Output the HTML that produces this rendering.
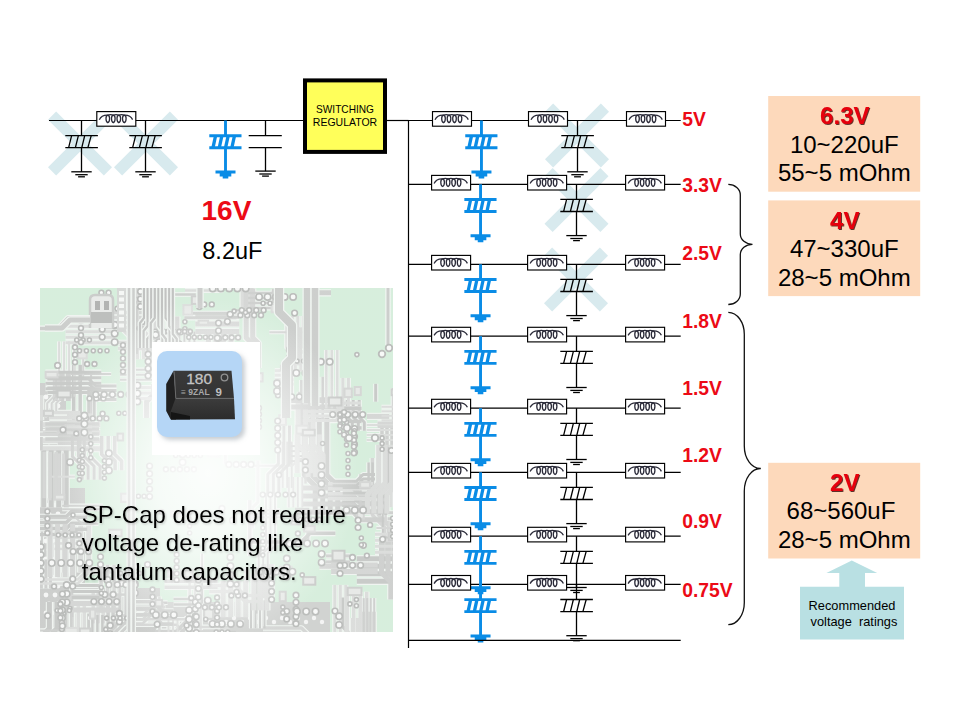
<!DOCTYPE html>
<html><head><meta charset="utf-8"><style>
html,body{margin:0;padding:0;background:#fff;overflow:hidden;}
body{width:960px;height:720px;position:relative;overflow:hidden;font-family:"Liberation Sans",sans-serif;}
#pcb{position:absolute;left:40px;top:288px;width:353px;height:344px;overflow:hidden;background:#d2ecd8;}
#fade{position:absolute;left:0;top:0;width:353px;height:344px;background:radial-gradient(ellipse 150px 175px at 168px 185px, rgba(255,255,255,0.92) 0%, rgba(255,255,255,0.78) 35%, rgba(255,255,255,0.4) 68%, rgba(255,255,255,0.0) 100%), linear-gradient(rgba(255,255,255,0.12), rgba(255,255,255,0.12));}
#wsq{position:absolute;left:152px;top:342px;width:108px;height:113px;background:#fff;}
#bsq{position:absolute;left:157px;top:351px;width:85px;height:86px;border-radius:10px;background:#b5d6f6;box-shadow:3px 3px 4px rgba(150,160,170,0.5);}
</style></head><body>
<div id="pcb"><svg width="354" height="345" style="position:absolute;left:0;top:0;filter:blur(0.5px)"><rect x="0" y="95" width="26" height="250" fill="#c9cbc9"/>
<rect x="0" y="200" width="45" height="145" fill="#c6c8c6"/>
<rect x="0" y="314" width="290" height="31" fill="#cbcdcb"/>
<rect x="0" y="300" width="120" height="45" fill="#c6c8c6"/>
<circle cx="9" cy="100" r="2.4" fill="#f4f5f4"/>
<circle cx="18" cy="100" r="2.4" fill="#f4f5f4"/>
<circle cx="6" cy="109" r="2.4" fill="#f4f5f4"/>
<circle cx="15" cy="109" r="2.4" fill="#f4f5f4"/>
<circle cx="9" cy="118" r="2.4" fill="#f4f5f4"/>
<circle cx="18" cy="118" r="2.4" fill="#f4f5f4"/>
<circle cx="6" cy="127" r="2.4" fill="#f4f5f4"/>
<circle cx="15" cy="127" r="2.4" fill="#f4f5f4"/>
<circle cx="9" cy="136" r="2.4" fill="#f4f5f4"/>
<circle cx="18" cy="136" r="2.4" fill="#f4f5f4"/>
<circle cx="6" cy="145" r="2.4" fill="#f4f5f4"/>
<circle cx="15" cy="145" r="2.4" fill="#f4f5f4"/>
<circle cx="9" cy="154" r="2.4" fill="#f4f5f4"/>
<circle cx="18" cy="154" r="2.4" fill="#f4f5f4"/>
<circle cx="6" cy="163" r="2.4" fill="#f4f5f4"/>
<circle cx="15" cy="163" r="2.4" fill="#f4f5f4"/>
<circle cx="9" cy="172" r="2.4" fill="#f4f5f4"/>
<circle cx="18" cy="172" r="2.4" fill="#f4f5f4"/>
<circle cx="6" cy="181" r="2.4" fill="#f4f5f4"/>
<circle cx="15" cy="181" r="2.4" fill="#f4f5f4"/>
<circle cx="9" cy="190" r="2.4" fill="#f4f5f4"/>
<circle cx="18" cy="190" r="2.4" fill="#f4f5f4"/>
<circle cx="6" cy="199" r="2.4" fill="#f4f5f4"/>
<circle cx="15" cy="199" r="2.4" fill="#f4f5f4"/>
<circle cx="9" cy="208" r="2.4" fill="#f4f5f4"/>
<circle cx="18" cy="208" r="2.4" fill="#f4f5f4"/>
<circle cx="6" cy="217" r="2.4" fill="#f4f5f4"/>
<circle cx="15" cy="217" r="2.4" fill="#f4f5f4"/>
<circle cx="9" cy="226" r="2.4" fill="#f4f5f4"/>
<circle cx="18" cy="226" r="2.4" fill="#f4f5f4"/>
<circle cx="6" cy="235" r="2.4" fill="#f4f5f4"/>
<circle cx="15" cy="235" r="2.4" fill="#f4f5f4"/>
<circle cx="9" cy="244" r="2.4" fill="#f4f5f4"/>
<circle cx="18" cy="244" r="2.4" fill="#f4f5f4"/>
<circle cx="6" cy="253" r="2.4" fill="#f4f5f4"/>
<circle cx="15" cy="253" r="2.4" fill="#f4f5f4"/>
<circle cx="9" cy="262" r="2.4" fill="#f4f5f4"/>
<circle cx="18" cy="262" r="2.4" fill="#f4f5f4"/>
<circle cx="6" cy="271" r="2.4" fill="#f4f5f4"/>
<circle cx="15" cy="271" r="2.4" fill="#f4f5f4"/>
<circle cx="9" cy="280" r="2.4" fill="#f4f5f4"/>
<circle cx="18" cy="280" r="2.4" fill="#f4f5f4"/>
<circle cx="6" cy="289" r="2.4" fill="#f4f5f4"/>
<circle cx="15" cy="289" r="2.4" fill="#f4f5f4"/>
<circle cx="9" cy="298" r="2.4" fill="#f4f5f4"/>
<circle cx="18" cy="298" r="2.4" fill="#f4f5f4"/>
<circle cx="6" cy="307" r="2.4" fill="#f4f5f4"/>
<circle cx="15" cy="307" r="2.4" fill="#f4f5f4"/>
<circle cx="9" cy="316" r="2.4" fill="#f4f5f4"/>
<circle cx="18" cy="316" r="2.4" fill="#f4f5f4"/>
<circle cx="6" cy="325" r="2.4" fill="#f4f5f4"/>
<circle cx="15" cy="325" r="2.4" fill="#f4f5f4"/>
<circle cx="9" cy="334" r="2.4" fill="#f4f5f4"/>
<circle cx="18" cy="334" r="2.4" fill="#f4f5f4"/>
<circle cx="6" cy="343" r="2.4" fill="#f4f5f4"/>
<circle cx="15" cy="343" r="2.4" fill="#f4f5f4"/>
<circle cx="50" cy="330" r="2.2" fill="#f2f3f2"/>
<circle cx="58" cy="334" r="2.2" fill="#f2f3f2"/>
<circle cx="66" cy="330" r="2.2" fill="#f2f3f2"/>
<circle cx="74" cy="334" r="2.2" fill="#f2f3f2"/>
<circle cx="82" cy="330" r="2.2" fill="#f2f3f2"/>
<circle cx="90" cy="334" r="2.2" fill="#f2f3f2"/>
<circle cx="98" cy="330" r="2.2" fill="#f2f3f2"/>
<circle cx="106" cy="334" r="2.2" fill="#f2f3f2"/>
<circle cx="114" cy="330" r="2.2" fill="#f2f3f2"/>
<circle cx="122" cy="334" r="2.2" fill="#f2f3f2"/>
<circle cx="130" cy="330" r="2.2" fill="#f2f3f2"/>
<circle cx="138" cy="334" r="2.2" fill="#f2f3f2"/>
<circle cx="146" cy="330" r="2.2" fill="#f2f3f2"/>
<circle cx="154" cy="334" r="2.2" fill="#f2f3f2"/>
<circle cx="162" cy="330" r="2.2" fill="#f2f3f2"/>
<circle cx="170" cy="334" r="2.2" fill="#f2f3f2"/>
<circle cx="178" cy="330" r="2.2" fill="#f2f3f2"/>
<circle cx="186" cy="334" r="2.2" fill="#f2f3f2"/>
<circle cx="194" cy="330" r="2.2" fill="#f2f3f2"/>
<circle cx="202" cy="334" r="2.2" fill="#f2f3f2"/>
<circle cx="210" cy="330" r="2.2" fill="#f2f3f2"/>
<circle cx="218" cy="334" r="2.2" fill="#f2f3f2"/>
<circle cx="226" cy="330" r="2.2" fill="#f2f3f2"/>
<circle cx="234" cy="334" r="2.2" fill="#f2f3f2"/>
<circle cx="242" cy="330" r="2.2" fill="#f2f3f2"/>
<circle cx="250" cy="334" r="2.2" fill="#f2f3f2"/>
<circle cx="258" cy="330" r="2.2" fill="#f2f3f2"/>
<circle cx="266" cy="334" r="2.2" fill="#f2f3f2"/>
<circle cx="274" cy="330" r="2.2" fill="#f2f3f2"/>
<circle cx="282" cy="334" r="2.2" fill="#f2f3f2"/>
<path d="M209.8,212.1 v55.9" fill="none" stroke="#eef3ef" stroke-width="5.7" stroke-linejoin="round"/>
<path d="M327.0,128.4 h22.2" fill="none" stroke="#eef3ef" stroke-width="7.2" stroke-linejoin="round"/>
<path d="M25.5,38.3 h50.1" fill="none" stroke="#eef3ef" stroke-width="5.2" stroke-linejoin="round"/>
<path d="M25.5,43.8 h50.1" fill="none" stroke="#eef3ef" stroke-width="5.2" stroke-linejoin="round"/>
<path d="M25.5,49.3 h50.1" fill="none" stroke="#eef3ef" stroke-width="5.2" stroke-linejoin="round"/>
<path d="M25.5,54.8 h50.1" fill="none" stroke="#eef3ef" stroke-width="5.2" stroke-linejoin="round"/>
<path d="M139.4,43.5 v54.3" fill="none" stroke="#eef3ef" stroke-width="4.2" stroke-linejoin="round"/>
<path d="M144.4,43.5 v54.3" fill="none" stroke="#eef3ef" stroke-width="4.2" stroke-linejoin="round"/>
<path d="M149.4,43.5 v54.3" fill="none" stroke="#eef3ef" stroke-width="4.2" stroke-linejoin="round"/>
<path d="M154.4,43.5 v54.3" fill="none" stroke="#eef3ef" stroke-width="4.2" stroke-linejoin="round"/>
<path d="M353.5,99.9 v57.7 l7.2,7.2 v28.9" fill="none" stroke="#eef3ef" stroke-width="5.7" stroke-linejoin="round"/>
<path d="M332.4,170.0 v57.1 l11.9,11.9 v28.6" fill="none" stroke="#eef3ef" stroke-width="5.7" stroke-linejoin="round"/>
<path d="M338.4,170.0 v57.1 l11.9,11.9 v28.6" fill="none" stroke="#eef3ef" stroke-width="5.7" stroke-linejoin="round"/>
<path d="M343.6,232.7 v44.4" fill="none" stroke="#eef3ef" stroke-width="5.2" stroke-linejoin="round"/>
<path d="M348.1,232.7 v44.4" fill="none" stroke="#eef3ef" stroke-width="5.2" stroke-linejoin="round"/>
<path d="M149.6,293.7 v48.4" fill="none" stroke="#eef3ef" stroke-width="4.7" stroke-linejoin="round"/>
<path d="M155.1,293.7 v48.4" fill="none" stroke="#eef3ef" stroke-width="4.7" stroke-linejoin="round"/>
<path d="M160.6,293.7 v48.4" fill="none" stroke="#eef3ef" stroke-width="4.7" stroke-linejoin="round"/>
<path d="M223.7,276.2 v34.0" fill="none" stroke="#eef3ef" stroke-width="7.2" stroke-linejoin="round"/>
<path d="M231.2,276.2 v34.0" fill="none" stroke="#eef3ef" stroke-width="7.2" stroke-linejoin="round"/>
<path d="M2.9,136.7 h57.4" fill="none" stroke="#eef3ef" stroke-width="7.2" stroke-linejoin="round"/>
<path d="M2.9,144.7 h57.4" fill="none" stroke="#eef3ef" stroke-width="7.2" stroke-linejoin="round"/>
<path d="M2.9,152.7 h57.4" fill="none" stroke="#eef3ef" stroke-width="7.2" stroke-linejoin="round"/>
<path d="M2.9,160.7 h57.4" fill="none" stroke="#eef3ef" stroke-width="7.2" stroke-linejoin="round"/>
<path d="M33.7,76.8 v55.3" fill="none" stroke="#eef3ef" stroke-width="5.7" stroke-linejoin="round"/>
<path d="M40.2,76.8 v55.3" fill="none" stroke="#eef3ef" stroke-width="5.7" stroke-linejoin="round"/>
<path d="M9.4,314.1 v26.4 l-6.2,6.2 v13.2" fill="none" stroke="#eef3ef" stroke-width="7.2" stroke-linejoin="round"/>
<path d="M16.9,314.1 v26.4 l-6.2,6.2 v13.2" fill="none" stroke="#eef3ef" stroke-width="7.2" stroke-linejoin="round"/>
<path d="M162.1,265.7 v49.9" fill="none" stroke="#eef3ef" stroke-width="4.2" stroke-linejoin="round"/>
<path d="M168.4,45.7 v44.1" fill="none" stroke="#eef3ef" stroke-width="7.2" stroke-linejoin="round"/>
<path d="M175.9,45.7 v44.1" fill="none" stroke="#eef3ef" stroke-width="7.2" stroke-linejoin="round"/>
<path d="M183.4,45.7 v44.1" fill="none" stroke="#eef3ef" stroke-width="7.2" stroke-linejoin="round"/>
<path d="M190.9,45.7 v44.1" fill="none" stroke="#eef3ef" stroke-width="7.2" stroke-linejoin="round"/>
<path d="M19.1,53.4 v43.7" fill="none" stroke="#eef3ef" stroke-width="4.2" stroke-linejoin="round"/>
<path d="M24.1,53.4 v43.7" fill="none" stroke="#eef3ef" stroke-width="4.2" stroke-linejoin="round"/>
<path d="M29.1,53.4 v43.7" fill="none" stroke="#eef3ef" stroke-width="4.2" stroke-linejoin="round"/>
<path d="M34.1,53.4 v43.7" fill="none" stroke="#eef3ef" stroke-width="4.2" stroke-linejoin="round"/>
<path d="M242.7,153.6 v46.3" fill="none" stroke="#eef3ef" stroke-width="4.2" stroke-linejoin="round"/>
<path d="M247.2,153.6 v46.3" fill="none" stroke="#eef3ef" stroke-width="4.2" stroke-linejoin="round"/>
<path d="M251.7,153.6 v46.3" fill="none" stroke="#eef3ef" stroke-width="4.2" stroke-linejoin="round"/>
<path d="M316.8,270.8 h46.1" fill="none" stroke="#eef3ef" stroke-width="7.2" stroke-linejoin="round"/>
<path d="M316.8,278.3 h46.1" fill="none" stroke="#eef3ef" stroke-width="7.2" stroke-linejoin="round"/>
<path d="M316.8,285.8 h46.1" fill="none" stroke="#eef3ef" stroke-width="7.2" stroke-linejoin="round"/>
<path d="M316.8,293.3 h46.1" fill="none" stroke="#eef3ef" stroke-width="7.2" stroke-linejoin="round"/>
<path d="M250.8,158.1 h17.0" fill="none" stroke="#eef3ef" stroke-width="4.2" stroke-linejoin="round"/>
<path d="M250.8,163.1 h17.0" fill="none" stroke="#eef3ef" stroke-width="4.2" stroke-linejoin="round"/>
<path d="M250.8,168.1 h17.0" fill="none" stroke="#eef3ef" stroke-width="4.2" stroke-linejoin="round"/>
<path d="M250.8,173.1 h17.0" fill="none" stroke="#eef3ef" stroke-width="4.2" stroke-linejoin="round"/>
<path d="M195.2,177.8 h57.1 l6.7,-6.7 h28.5" fill="none" stroke="#eef3ef" stroke-width="4.2" stroke-linejoin="round"/>
<path d="M264.3,129.8 v57.2 l10.9,10.9 v28.6" fill="none" stroke="#eef3ef" stroke-width="7.2" stroke-linejoin="round"/>
<path d="M271.8,129.8 v57.2 l10.9,10.9 v28.6" fill="none" stroke="#eef3ef" stroke-width="7.2" stroke-linejoin="round"/>
<path d="M279.3,129.8 v57.2 l10.9,10.9 v28.6" fill="none" stroke="#eef3ef" stroke-width="7.2" stroke-linejoin="round"/>
<path d="M286.8,129.8 v57.2 l10.9,10.9 v28.6" fill="none" stroke="#eef3ef" stroke-width="7.2" stroke-linejoin="round"/>
<path d="M342.0,137.4 v22.0" fill="none" stroke="#eef3ef" stroke-width="5.7" stroke-linejoin="round"/>
<path d="M347.0,137.4 v22.0" fill="none" stroke="#eef3ef" stroke-width="5.7" stroke-linejoin="round"/>
<path d="M352.0,137.4 v22.0" fill="none" stroke="#eef3ef" stroke-width="5.7" stroke-linejoin="round"/>
<path d="M357.0,137.4 v22.0" fill="none" stroke="#eef3ef" stroke-width="5.7" stroke-linejoin="round"/>
<path d="M0.1,342.4 h50.2" fill="none" stroke="#eef3ef" stroke-width="4.2" stroke-linejoin="round"/>
<path d="M0.1,346.9 h50.2" fill="none" stroke="#eef3ef" stroke-width="4.2" stroke-linejoin="round"/>
<path d="M0.1,351.4 h50.2" fill="none" stroke="#eef3ef" stroke-width="4.2" stroke-linejoin="round"/>
<path d="M0.1,355.9 h50.2" fill="none" stroke="#eef3ef" stroke-width="4.2" stroke-linejoin="round"/>
<path d="M302.5,309.4 v29.1 l5.3,5.3 v14.6" fill="none" stroke="#eef3ef" stroke-width="5.7" stroke-linejoin="round"/>
<path d="M0.7,107.7 v24.5" fill="none" stroke="#eef3ef" stroke-width="7.2" stroke-linejoin="round"/>
<path d="M17.8,143.6 h19.4 l5.8,5.8 h9.7" fill="none" stroke="#eef3ef" stroke-width="5.2" stroke-linejoin="round"/>
<path d="M17.8,149.6 h19.4 l5.8,5.8 h9.7" fill="none" stroke="#eef3ef" stroke-width="5.2" stroke-linejoin="round"/>
<path d="M17.8,155.6 h19.4 l5.8,5.8 h9.7" fill="none" stroke="#eef3ef" stroke-width="5.2" stroke-linejoin="round"/>
<path d="M155.3,28.4 h44.0" fill="none" stroke="#eef3ef" stroke-width="7.2" stroke-linejoin="round"/>
<path d="M155.3,35.9 h44.0" fill="none" stroke="#eef3ef" stroke-width="7.2" stroke-linejoin="round"/>
<path d="M155.3,43.4 h44.0" fill="none" stroke="#eef3ef" stroke-width="7.2" stroke-linejoin="round"/>
<path d="M246.8,28.1 v31.2 l8.5,8.5 v15.6" fill="none" stroke="#eef3ef" stroke-width="5.2" stroke-linejoin="round"/>
<path d="M252.3,28.1 v31.2 l8.5,8.5 v15.6" fill="none" stroke="#eef3ef" stroke-width="5.2" stroke-linejoin="round"/>
<path d="M257.8,28.1 v31.2 l8.5,8.5 v15.6" fill="none" stroke="#eef3ef" stroke-width="5.2" stroke-linejoin="round"/>
<path d="M263.3,28.1 v31.2 l8.5,8.5 v15.6" fill="none" stroke="#eef3ef" stroke-width="5.2" stroke-linejoin="round"/>
<path d="M30.8,86.0 h40.4" fill="none" stroke="#eef3ef" stroke-width="4.2" stroke-linejoin="round"/>
<path d="M262.5,200.1 h50.9 l7.6,7.6 h25.5" fill="none" stroke="#eef3ef" stroke-width="7.2" stroke-linejoin="round"/>
<path d="M262.5,208.1 h50.9 l7.6,7.6 h25.5" fill="none" stroke="#eef3ef" stroke-width="7.2" stroke-linejoin="round"/>
<path d="M262.5,216.1 h50.9 l7.6,7.6 h25.5" fill="none" stroke="#eef3ef" stroke-width="7.2" stroke-linejoin="round"/>
<path d="M262.5,224.1 h50.9 l7.6,7.6 h25.5" fill="none" stroke="#eef3ef" stroke-width="7.2" stroke-linejoin="round"/>
<path d="M233.0,0.7 v19.8" fill="none" stroke="#eef3ef" stroke-width="4.7" stroke-linejoin="round"/>
<path d="M229.3,44.2 h43.0" fill="none" stroke="#eef3ef" stroke-width="4.2" stroke-linejoin="round"/>
<path d="M265.5,162.2 v33.4" fill="none" stroke="#eef3ef" stroke-width="4.7" stroke-linejoin="round"/>
<path d="M207.1,69.5 v26.6 l-6.2,6.2 v13.3" fill="none" stroke="#eef3ef" stroke-width="5.2" stroke-linejoin="round"/>
<path d="M211.6,69.5 v26.6 l-6.2,6.2 v13.3" fill="none" stroke="#eef3ef" stroke-width="5.2" stroke-linejoin="round"/>
<path d="M137.0,49.7 v42.4 l7.2,7.2 v21.2" fill="none" stroke="#eef3ef" stroke-width="5.7" stroke-linejoin="round"/>
<path d="M2.0,243.5 v32.8" fill="none" stroke="#eef3ef" stroke-width="4.2" stroke-linejoin="round"/>
<path d="M32.3,314.0 v27.4 l9.4,9.4 v13.7" fill="none" stroke="#eef3ef" stroke-width="5.7" stroke-linejoin="round"/>
<path d="M38.3,314.0 v27.4 l9.4,9.4 v13.7" fill="none" stroke="#eef3ef" stroke-width="5.7" stroke-linejoin="round"/>
<path d="M44.3,314.0 v27.4 l9.4,9.4 v13.7" fill="none" stroke="#eef3ef" stroke-width="5.7" stroke-linejoin="round"/>
<path d="M342.8,200.3 v45.6 l6.4,6.4 v22.8" fill="none" stroke="#eef3ef" stroke-width="4.2" stroke-linejoin="round"/>
<path d="M323.9,323.7 v48.8" fill="none" stroke="#eef3ef" stroke-width="5.7" stroke-linejoin="round"/>
<path d="M328.9,323.7 v48.8" fill="none" stroke="#eef3ef" stroke-width="5.7" stroke-linejoin="round"/>
<path d="M333.9,323.7 v48.8" fill="none" stroke="#eef3ef" stroke-width="5.7" stroke-linejoin="round"/>
<path d="M294.8,296.9 v56.6" fill="none" stroke="#eef3ef" stroke-width="5.2" stroke-linejoin="round"/>
<path d="M300.3,296.9 v56.6" fill="none" stroke="#eef3ef" stroke-width="5.2" stroke-linejoin="round"/>
<path d="M305.8,296.9 v56.6" fill="none" stroke="#eef3ef" stroke-width="5.2" stroke-linejoin="round"/>
<path d="M225.4,343.9 v33.0 l-6.7,6.7 v16.5" fill="none" stroke="#eef3ef" stroke-width="4.2" stroke-linejoin="round"/>
<path d="M229.9,343.9 v33.0 l-6.7,6.7 v16.5" fill="none" stroke="#eef3ef" stroke-width="4.2" stroke-linejoin="round"/>
<path d="M203.1,-5.9 v24.9" fill="none" stroke="#eef3ef" stroke-width="7.2" stroke-linejoin="round"/>
<path d="M211.1,-5.9 v24.9" fill="none" stroke="#eef3ef" stroke-width="7.2" stroke-linejoin="round"/>
<path d="M184.8,56.8 h16.9 l5.6,5.6 h8.4" fill="none" stroke="#eef3ef" stroke-width="4.2" stroke-linejoin="round"/>
<path d="M206.4,279.3 v35.9" fill="none" stroke="#eef3ef" stroke-width="4.2" stroke-linejoin="round"/>
<path d="M226.0,205.1 v52.7 l-7.3,7.3 v26.4" fill="none" stroke="#eef3ef" stroke-width="4.2" stroke-linejoin="round"/>
<path d="M230.5,205.1 v52.7 l-7.3,7.3 v26.4" fill="none" stroke="#eef3ef" stroke-width="4.2" stroke-linejoin="round"/>
<path d="M235.0,205.1 v52.7 l-7.3,7.3 v26.4" fill="none" stroke="#eef3ef" stroke-width="4.2" stroke-linejoin="round"/>
<path d="M96.3,321.6 h16.3 l6.9,-6.9 h8.1" fill="none" stroke="#eef3ef" stroke-width="4.7" stroke-linejoin="round"/>
<path d="M261.8,92.0 v55.9" fill="none" stroke="#eef3ef" stroke-width="5.7" stroke-linejoin="round"/>
<path d="M266.8,92.0 v55.9" fill="none" stroke="#eef3ef" stroke-width="5.7" stroke-linejoin="round"/>
<path d="M271.8,92.0 v55.9" fill="none" stroke="#eef3ef" stroke-width="5.7" stroke-linejoin="round"/>
<path d="M48.7,100.7 v31.2" fill="none" stroke="#eef3ef" stroke-width="5.2" stroke-linejoin="round"/>
<path d="M54.2,100.7 v31.2" fill="none" stroke="#eef3ef" stroke-width="5.2" stroke-linejoin="round"/>
<path d="M328.6,174.4 v39.1" fill="none" stroke="#eef3ef" stroke-width="4.7" stroke-linejoin="round"/>
<path d="M332.6,174.4 v39.1" fill="none" stroke="#eef3ef" stroke-width="4.7" stroke-linejoin="round"/>
<path d="M341.5,118.8 h23.3" fill="none" stroke="#eef3ef" stroke-width="4.2" stroke-linejoin="round"/>
<path d="M341.5,123.3 h23.3" fill="none" stroke="#eef3ef" stroke-width="4.2" stroke-linejoin="round"/>
<path d="M341.5,127.8 h23.3" fill="none" stroke="#eef3ef" stroke-width="4.2" stroke-linejoin="round"/>
<path d="M341.5,132.3 h23.3" fill="none" stroke="#eef3ef" stroke-width="4.2" stroke-linejoin="round"/>
<path d="M253.1,110.5 h43.2" fill="none" stroke="#eef3ef" stroke-width="4.7" stroke-linejoin="round"/>
<path d="M351.1,184.2 v35.0" fill="none" stroke="#eef3ef" stroke-width="5.2" stroke-linejoin="round"/>
<path d="M356.6,184.2 v35.0" fill="none" stroke="#eef3ef" stroke-width="5.2" stroke-linejoin="round"/>
<path d="M362.1,184.2 v35.0" fill="none" stroke="#eef3ef" stroke-width="5.2" stroke-linejoin="round"/>
<path d="M3.7,162.4 v56.9" fill="none" stroke="#eef3ef" stroke-width="7.2" stroke-linejoin="round"/>
<path d="M11.2,162.4 v56.9" fill="none" stroke="#eef3ef" stroke-width="7.2" stroke-linejoin="round"/>
<path d="M18.7,162.4 v56.9" fill="none" stroke="#eef3ef" stroke-width="7.2" stroke-linejoin="round"/>
<path d="M26.2,162.4 v56.9" fill="none" stroke="#eef3ef" stroke-width="7.2" stroke-linejoin="round"/>
<path d="M15.3,85.0 v28.0" fill="none" stroke="#eef3ef" stroke-width="7.2" stroke-linejoin="round"/>
<path d="M21.8,85.0 v28.0" fill="none" stroke="#eef3ef" stroke-width="7.2" stroke-linejoin="round"/>
<path d="M28.3,85.0 v28.0" fill="none" stroke="#eef3ef" stroke-width="7.2" stroke-linejoin="round"/>
<path d="M134.7,-7.0 h49.2 l5.3,-5.3 h24.6" fill="none" stroke="#eef3ef" stroke-width="4.7" stroke-linejoin="round"/>
<path d="M134.7,-2.0 h49.2 l5.3,-5.3 h24.6" fill="none" stroke="#eef3ef" stroke-width="4.7" stroke-linejoin="round"/>
<path d="M339.7,179.8 v34.5 l5.9,5.9 v17.2" fill="none" stroke="#eef3ef" stroke-width="4.7" stroke-linejoin="round"/>
<path d="M118.3,314.8 v15.3" fill="none" stroke="#eef3ef" stroke-width="5.2" stroke-linejoin="round"/>
<path d="M122.8,314.8 v15.3" fill="none" stroke="#eef3ef" stroke-width="5.2" stroke-linejoin="round"/>
<path d="M183.2,293.2 v35.9" fill="none" stroke="#eef3ef" stroke-width="7.2" stroke-linejoin="round"/>
<path d="M190.7,293.2 v35.9" fill="none" stroke="#eef3ef" stroke-width="7.2" stroke-linejoin="round"/>
<path d="M198.2,293.2 v35.9" fill="none" stroke="#eef3ef" stroke-width="7.2" stroke-linejoin="round"/>
<path d="M205.7,293.2 v35.9" fill="none" stroke="#eef3ef" stroke-width="7.2" stroke-linejoin="round"/>
<path d="M51.1,84.4 v42.2 l-10.6,10.6 v21.1" fill="none" stroke="#eef3ef" stroke-width="4.2" stroke-linejoin="round"/>
<path d="M350.9,233.3 v19.2" fill="none" stroke="#eef3ef" stroke-width="7.2" stroke-linejoin="round"/>
<path d="M358.9,233.3 v19.2" fill="none" stroke="#eef3ef" stroke-width="7.2" stroke-linejoin="round"/>
<path d="M366.9,233.3 v19.2" fill="none" stroke="#eef3ef" stroke-width="7.2" stroke-linejoin="round"/>
<path d="M94.4,336.7 h42.1 l11.8,11.8 h21.0" fill="none" stroke="#eef3ef" stroke-width="4.7" stroke-linejoin="round"/>
<path d="M10.1,165.4 v47.0" fill="none" stroke="#eef3ef" stroke-width="5.2" stroke-linejoin="round"/>
<path d="M14.6,165.4 v47.0" fill="none" stroke="#eef3ef" stroke-width="5.2" stroke-linejoin="round"/>
<path d="M19.1,165.4 v47.0" fill="none" stroke="#eef3ef" stroke-width="5.2" stroke-linejoin="round"/>
<path d="M23.6,165.4 v47.0" fill="none" stroke="#eef3ef" stroke-width="5.2" stroke-linejoin="round"/>
<path d="M43.2,68.1 v21.3 l-8.8,8.8 v10.6" fill="none" stroke="#eef3ef" stroke-width="4.2" stroke-linejoin="round"/>
<path d="M53.2,303.3 v32.2" fill="none" stroke="#eef3ef" stroke-width="5.7" stroke-linejoin="round"/>
<path d="M58.2,303.3 v32.2" fill="none" stroke="#eef3ef" stroke-width="5.7" stroke-linejoin="round"/>
<path d="M63.2,303.3 v32.2" fill="none" stroke="#eef3ef" stroke-width="5.7" stroke-linejoin="round"/>
<path d="M335.7,95.8 v17.9" fill="none" stroke="#eef3ef" stroke-width="5.2" stroke-linejoin="round"/>
<path d="M22.2,217.7 h40.8" fill="none" stroke="#eef3ef" stroke-width="4.2" stroke-linejoin="round"/>
<path d="M22.2,221.2 h40.8" fill="none" stroke="#eef3ef" stroke-width="4.2" stroke-linejoin="round"/>
<path d="M347.5,224.8 h40.8" fill="none" stroke="#eef3ef" stroke-width="5.2" stroke-linejoin="round"/>
<path d="M347.5,230.8 h40.8" fill="none" stroke="#eef3ef" stroke-width="5.2" stroke-linejoin="round"/>
<path d="M302.2,213.5 h23.3" fill="none" stroke="#eef3ef" stroke-width="4.2" stroke-linejoin="round"/>
<path d="M302.2,218.0 h23.3" fill="none" stroke="#eef3ef" stroke-width="4.2" stroke-linejoin="round"/>
<path d="M264.7,106.1 v25.7 l5.4,5.4 v12.8" fill="none" stroke="#eef3ef" stroke-width="5.2" stroke-linejoin="round"/>
<path d="M341.5,249.9 v34.9 l9.3,9.3 v17.4" fill="none" stroke="#eef3ef" stroke-width="7.2" stroke-linejoin="round"/>
<path d="M348.0,249.9 v34.9 l9.3,9.3 v17.4" fill="none" stroke="#eef3ef" stroke-width="7.2" stroke-linejoin="round"/>
<path d="M354.5,249.9 v34.9 l9.3,9.3 v17.4" fill="none" stroke="#eef3ef" stroke-width="7.2" stroke-linejoin="round"/>
<path d="M115.9,343.4 h20.2 l11.0,-11.0 h10.1" fill="none" stroke="#eef3ef" stroke-width="5.7" stroke-linejoin="round"/>
<path d="M115.9,349.4 h20.2 l11.0,-11.0 h10.1" fill="none" stroke="#eef3ef" stroke-width="5.7" stroke-linejoin="round"/>
<path d="M262.3,93.4 v34.0" fill="none" stroke="#eef3ef" stroke-width="5.2" stroke-linejoin="round"/>
<path d="M268.3,93.4 v34.0" fill="none" stroke="#eef3ef" stroke-width="5.2" stroke-linejoin="round"/>
<path d="M274.3,93.4 v34.0" fill="none" stroke="#eef3ef" stroke-width="5.2" stroke-linejoin="round"/>
<path d="M320.5,186.2 v42.3" fill="none" stroke="#eef3ef" stroke-width="4.7" stroke-linejoin="round"/>
<path d="M14.1,88.1 v20.3 l-6.9,6.9 v10.1" fill="none" stroke="#eef3ef" stroke-width="4.2" stroke-linejoin="round"/>
<path d="M18.6,88.1 v20.3 l-6.9,6.9 v10.1" fill="none" stroke="#eef3ef" stroke-width="4.2" stroke-linejoin="round"/>
<path d="M23.1,88.1 v20.3 l-6.9,6.9 v10.1" fill="none" stroke="#eef3ef" stroke-width="4.2" stroke-linejoin="round"/>
<path d="M79.9,81.7 h55.6 l7.3,7.3 h27.8" fill="none" stroke="#eef3ef" stroke-width="4.2" stroke-linejoin="round"/>
<path d="M79.9,86.7 h55.6 l7.3,7.3 h27.8" fill="none" stroke="#eef3ef" stroke-width="4.2" stroke-linejoin="round"/>
<path d="M79.9,91.7 h55.6 l7.3,7.3 h27.8" fill="none" stroke="#eef3ef" stroke-width="4.2" stroke-linejoin="round"/>
<path d="M31.8,284.1 v45.0" fill="none" stroke="#eef3ef" stroke-width="5.2" stroke-linejoin="round"/>
<path d="M131.3,6.5 h24.5" fill="none" stroke="#eef3ef" stroke-width="4.7" stroke-linejoin="round"/>
<path d="M120.3,31.9 v36.8" fill="none" stroke="#eef3ef" stroke-width="5.2" stroke-linejoin="round"/>
<path d="M24.7,237.7 v46.9" fill="none" stroke="#eef3ef" stroke-width="7.2" stroke-linejoin="round"/>
<path d="M32.7,237.7 v46.9" fill="none" stroke="#eef3ef" stroke-width="7.2" stroke-linejoin="round"/>
<path d="M40.7,237.7 v46.9" fill="none" stroke="#eef3ef" stroke-width="7.2" stroke-linejoin="round"/>
<path d="M48.7,237.7 v46.9" fill="none" stroke="#eef3ef" stroke-width="7.2" stroke-linejoin="round"/>
<path d="M238.4,137.4 v38.3 l-10.6,10.6 v19.2" fill="none" stroke="#eef3ef" stroke-width="5.2" stroke-linejoin="round"/>
<path d="M243.9,137.4 v38.3 l-10.6,10.6 v19.2" fill="none" stroke="#eef3ef" stroke-width="5.2" stroke-linejoin="round"/>
<path d="M249.4,137.4 v38.3 l-10.6,10.6 v19.2" fill="none" stroke="#eef3ef" stroke-width="5.2" stroke-linejoin="round"/>
<path d="M115.7,71.6 v32.8 l-9.1,9.1 v16.4" fill="none" stroke="#eef3ef" stroke-width="7.2" stroke-linejoin="round"/>
<path d="M223.0,340.0 h38.5 l8.5,8.5 h19.2" fill="none" stroke="#eef3ef" stroke-width="5.7" stroke-linejoin="round"/>
<path d="M223.0,346.5 h38.5 l8.5,8.5 h19.2" fill="none" stroke="#eef3ef" stroke-width="5.7" stroke-linejoin="round"/>
<path d="M26.3,319.0 v34.7" fill="none" stroke="#eef3ef" stroke-width="4.7" stroke-linejoin="round"/>
<path d="M31.3,319.0 v34.7" fill="none" stroke="#eef3ef" stroke-width="4.7" stroke-linejoin="round"/>
<path d="M326.6,137.0 h43.0 l7.1,7.1 h21.5" fill="none" stroke="#eef3ef" stroke-width="4.2" stroke-linejoin="round"/>
<path d="M326.6,142.0 h43.0 l7.1,7.1 h21.5" fill="none" stroke="#eef3ef" stroke-width="4.2" stroke-linejoin="round"/>
<path d="M326.6,147.0 h43.0 l7.1,7.1 h21.5" fill="none" stroke="#eef3ef" stroke-width="4.2" stroke-linejoin="round"/>
<path d="M326.6,152.0 h43.0 l7.1,7.1 h21.5" fill="none" stroke="#eef3ef" stroke-width="4.2" stroke-linejoin="round"/>
<path d="M162.0,96.7 h28.9 l6.7,-6.7 h14.5" fill="none" stroke="#eef3ef" stroke-width="7.2" stroke-linejoin="round"/>
<path d="M162.0,103.2 h28.9 l6.7,-6.7 h14.5" fill="none" stroke="#eef3ef" stroke-width="7.2" stroke-linejoin="round"/>
<path d="M253.0,39.3 v38.1" fill="none" stroke="#eef3ef" stroke-width="7.2" stroke-linejoin="round"/>
<path d="M259.5,39.3 v38.1" fill="none" stroke="#eef3ef" stroke-width="7.2" stroke-linejoin="round"/>
<path d="M266.0,39.3 v38.1" fill="none" stroke="#eef3ef" stroke-width="7.2" stroke-linejoin="round"/>
<path d="M248.8,189.0 v30.5" fill="none" stroke="#eef3ef" stroke-width="4.2" stroke-linejoin="round"/>
<path d="M253.3,189.0 v30.5" fill="none" stroke="#eef3ef" stroke-width="4.2" stroke-linejoin="round"/>
<path d="M257.8,189.0 v30.5" fill="none" stroke="#eef3ef" stroke-width="4.2" stroke-linejoin="round"/>
<path d="M262.3,189.0 v30.5" fill="none" stroke="#eef3ef" stroke-width="4.2" stroke-linejoin="round"/>
<path d="M64.8,24.6 h58.1" fill="none" stroke="#eef3ef" stroke-width="5.7" stroke-linejoin="round"/>
<path d="M64.8,29.6 h58.1" fill="none" stroke="#eef3ef" stroke-width="5.7" stroke-linejoin="round"/>
<path d="M64.8,34.6 h58.1" fill="none" stroke="#eef3ef" stroke-width="5.7" stroke-linejoin="round"/>
<path d="M64.8,39.6 h58.1" fill="none" stroke="#eef3ef" stroke-width="5.7" stroke-linejoin="round"/>
<path d="M77.9,54.5 h56.1" fill="none" stroke="#eef3ef" stroke-width="5.7" stroke-linejoin="round"/>
<path d="M77.9,60.5 h56.1" fill="none" stroke="#eef3ef" stroke-width="5.7" stroke-linejoin="round"/>
<path d="M133.5,311.0 h21.2" fill="none" stroke="#eef3ef" stroke-width="4.7" stroke-linejoin="round"/>
<path d="M133.5,316.5 h21.2" fill="none" stroke="#eef3ef" stroke-width="4.7" stroke-linejoin="round"/>
<path d="M11.2,188.7 h23.7" fill="none" stroke="#eef3ef" stroke-width="4.2" stroke-linejoin="round"/>
<path d="M68.1,316.1 v55.8" fill="none" stroke="#eef3ef" stroke-width="5.7" stroke-linejoin="round"/>
<path d="M73.1,316.1 v55.8" fill="none" stroke="#eef3ef" stroke-width="5.7" stroke-linejoin="round"/>
<path d="M217.9,172.5 v41.6 l-5.6,5.6 v20.8" fill="none" stroke="#eef3ef" stroke-width="5.2" stroke-linejoin="round"/>
<path d="M111.3,97.7 h40.2 l10.3,-10.3 h20.1" fill="none" stroke="#eef3ef" stroke-width="5.7" stroke-linejoin="round"/>
<path d="M111.3,102.7 h40.2 l10.3,-10.3 h20.1" fill="none" stroke="#eef3ef" stroke-width="5.7" stroke-linejoin="round"/>
<path d="M32.4,141.6 v26.9 l9.7,9.7 v13.5" fill="none" stroke="#eef3ef" stroke-width="5.2" stroke-linejoin="round"/>
<path d="M38.4,141.6 v26.9 l9.7,9.7 v13.5" fill="none" stroke="#eef3ef" stroke-width="5.2" stroke-linejoin="round"/>
<path d="M44.4,141.6 v26.9 l9.7,9.7 v13.5" fill="none" stroke="#eef3ef" stroke-width="5.2" stroke-linejoin="round"/>
<path d="M50.4,141.6 v26.9 l9.7,9.7 v13.5" fill="none" stroke="#eef3ef" stroke-width="5.2" stroke-linejoin="round"/>
<path d="M28.8,308.9 h50.8" fill="none" stroke="#eef3ef" stroke-width="7.2" stroke-linejoin="round"/>
<path d="M28.8,315.4 h50.8" fill="none" stroke="#eef3ef" stroke-width="7.2" stroke-linejoin="round"/>
<path d="M28.8,321.9 h50.8" fill="none" stroke="#eef3ef" stroke-width="7.2" stroke-linejoin="round"/>
<path d="M307.2,112.0 v17.1 l5.1,5.1 v8.6" fill="none" stroke="#eef3ef" stroke-width="5.2" stroke-linejoin="round"/>
<path d="M313.2,112.0 v17.1 l5.1,5.1 v8.6" fill="none" stroke="#eef3ef" stroke-width="5.2" stroke-linejoin="round"/>
<path d="M319.2,112.0 v17.1 l5.1,5.1 v8.6" fill="none" stroke="#eef3ef" stroke-width="5.2" stroke-linejoin="round"/>
<path d="M124.5,293.2 h53.1" fill="none" stroke="#eef3ef" stroke-width="5.7" stroke-linejoin="round"/>
<path d="M124.5,299.2 h53.1" fill="none" stroke="#eef3ef" stroke-width="5.7" stroke-linejoin="round"/>
<path d="M31.7,297.5 h29.1" fill="none" stroke="#eef3ef" stroke-width="5.2" stroke-linejoin="round"/>
<path d="M31.7,303.5 h29.1" fill="none" stroke="#eef3ef" stroke-width="5.2" stroke-linejoin="round"/>
<path d="M31.7,309.5 h29.1" fill="none" stroke="#eef3ef" stroke-width="5.2" stroke-linejoin="round"/>
<path d="M9.3,124.6 h30.7" fill="none" stroke="#eef3ef" stroke-width="5.7" stroke-linejoin="round"/>
<path d="M9.3,129.6 h30.7" fill="none" stroke="#eef3ef" stroke-width="5.7" stroke-linejoin="round"/>
<path d="M9.3,134.6 h30.7" fill="none" stroke="#eef3ef" stroke-width="5.7" stroke-linejoin="round"/>
<path d="M9.3,139.6 h30.7" fill="none" stroke="#eef3ef" stroke-width="5.7" stroke-linejoin="round"/>
<path d="M267.9,226.3 v27.6" fill="none" stroke="#eef3ef" stroke-width="5.2" stroke-linejoin="round"/>
<path d="M244.1,-4.9 h24.8 l9.7,9.7 h12.4" fill="none" stroke="#eef3ef" stroke-width="7.2" stroke-linejoin="round"/>
<path d="M302.9,89.9 v39.5" fill="none" stroke="#eef3ef" stroke-width="5.2" stroke-linejoin="round"/>
<path d="M308.4,89.9 v39.5" fill="none" stroke="#eef3ef" stroke-width="5.2" stroke-linejoin="round"/>
<path d="M125.7,55.4 h41.7" fill="none" stroke="#eef3ef" stroke-width="5.7" stroke-linejoin="round"/>
<path d="M125.7,61.9 h41.7" fill="none" stroke="#eef3ef" stroke-width="5.7" stroke-linejoin="round"/>
<path d="M125.7,68.4 h41.7" fill="none" stroke="#eef3ef" stroke-width="5.7" stroke-linejoin="round"/>
<path d="M257.2,146.4 v38.8" fill="none" stroke="#eef3ef" stroke-width="7.2" stroke-linejoin="round"/>
<path d="M264.7,146.4 v38.8" fill="none" stroke="#eef3ef" stroke-width="7.2" stroke-linejoin="round"/>
<path d="M272.2,146.4 v38.8" fill="none" stroke="#eef3ef" stroke-width="7.2" stroke-linejoin="round"/>
<path d="M279.7,146.4 v38.8" fill="none" stroke="#eef3ef" stroke-width="7.2" stroke-linejoin="round"/>
<path d="M285.9,267.9 h24.1" fill="none" stroke="#eef3ef" stroke-width="5.2" stroke-linejoin="round"/>
<path d="M285.9,273.9 h24.1" fill="none" stroke="#eef3ef" stroke-width="5.2" stroke-linejoin="round"/>
<path d="M-9.5,146.0 h56.1" fill="none" stroke="#eef3ef" stroke-width="5.2" stroke-linejoin="round"/>
<path d="M348.1,159.0 v39.9 l-8.3,8.3 v19.9" fill="none" stroke="#eef3ef" stroke-width="5.2" stroke-linejoin="round"/>
<path d="M354.1,159.0 v39.9 l-8.3,8.3 v19.9" fill="none" stroke="#eef3ef" stroke-width="5.2" stroke-linejoin="round"/>
<path d="M108.9,50.6 v36.4" fill="none" stroke="#eef3ef" stroke-width="7.2" stroke-linejoin="round"/>
<path d="M116.9,50.6 v36.4" fill="none" stroke="#eef3ef" stroke-width="7.2" stroke-linejoin="round"/>
<path d="M288.0,195.7 h45.2" fill="none" stroke="#eef3ef" stroke-width="5.7" stroke-linejoin="round"/>
<path d="M288.0,200.7 h45.2" fill="none" stroke="#eef3ef" stroke-width="5.7" stroke-linejoin="round"/>
<path d="M288.0,205.7 h45.2" fill="none" stroke="#eef3ef" stroke-width="5.7" stroke-linejoin="round"/>
<path d="M288.0,210.7 h45.2" fill="none" stroke="#eef3ef" stroke-width="5.7" stroke-linejoin="round"/>
<path d="M5.5,84.2 h55.8" fill="none" stroke="#eef3ef" stroke-width="5.2" stroke-linejoin="round"/>
<path d="M5.5,89.7 h55.8" fill="none" stroke="#eef3ef" stroke-width="5.2" stroke-linejoin="round"/>
<path d="M5.5,95.2 h55.8" fill="none" stroke="#eef3ef" stroke-width="5.2" stroke-linejoin="round"/>
<path d="M5.5,100.7 h55.8" fill="none" stroke="#eef3ef" stroke-width="5.2" stroke-linejoin="round"/>
<path d="M74.7,327.5 h28.0 l8.4,-8.4 h14.0" fill="none" stroke="#eef3ef" stroke-width="4.7" stroke-linejoin="round"/>
<path d="M74.7,331.5 h28.0 l8.4,-8.4 h14.0" fill="none" stroke="#eef3ef" stroke-width="4.7" stroke-linejoin="round"/>
<path d="M74.7,335.5 h28.0 l8.4,-8.4 h14.0" fill="none" stroke="#eef3ef" stroke-width="4.7" stroke-linejoin="round"/>
<path d="M307.2,303.7 v52.5" fill="none" stroke="#eef3ef" stroke-width="5.7" stroke-linejoin="round"/>
<path d="M313.7,303.7 v52.5" fill="none" stroke="#eef3ef" stroke-width="5.7" stroke-linejoin="round"/>
<path d="M320.2,303.7 v52.5" fill="none" stroke="#eef3ef" stroke-width="5.7" stroke-linejoin="round"/>
<path d="M326.7,303.7 v52.5" fill="none" stroke="#eef3ef" stroke-width="5.7" stroke-linejoin="round"/>
<path d="M266.2,88.8 v44.4" fill="none" stroke="#eef3ef" stroke-width="4.7" stroke-linejoin="round"/>
<path d="M271.7,88.8 v44.4" fill="none" stroke="#eef3ef" stroke-width="4.7" stroke-linejoin="round"/>
<path d="M277.2,88.8 v44.4" fill="none" stroke="#eef3ef" stroke-width="4.7" stroke-linejoin="round"/>
<path d="M282.7,88.8 v44.4" fill="none" stroke="#eef3ef" stroke-width="4.7" stroke-linejoin="round"/>
<path d="M1.4,271.4 v29.0" fill="none" stroke="#eef3ef" stroke-width="5.2" stroke-linejoin="round"/>
<path d="M5.9,271.4 v29.0" fill="none" stroke="#eef3ef" stroke-width="5.2" stroke-linejoin="round"/>
<path d="M10.4,271.4 v29.0" fill="none" stroke="#eef3ef" stroke-width="5.2" stroke-linejoin="round"/>
<path d="M234.8,82.7 h18.7" fill="none" stroke="#eef3ef" stroke-width="5.2" stroke-linejoin="round"/>
<path d="M234.8,87.2 h18.7" fill="none" stroke="#eef3ef" stroke-width="5.2" stroke-linejoin="round"/>
<path d="M234.8,91.7 h18.7" fill="none" stroke="#eef3ef" stroke-width="5.2" stroke-linejoin="round"/>
<path d="M234.8,96.2 h18.7" fill="none" stroke="#eef3ef" stroke-width="5.2" stroke-linejoin="round"/>
<path d="M119.4,308.5 v35.9" fill="none" stroke="#eef3ef" stroke-width="4.7" stroke-linejoin="round"/>
<path d="M302.7,199.4 h41.1" fill="none" stroke="#eef3ef" stroke-width="5.2" stroke-linejoin="round"/>
<path d="M302.7,204.9 h41.1" fill="none" stroke="#eef3ef" stroke-width="5.2" stroke-linejoin="round"/>
<path d="M217.4,222.3 h22.6" fill="none" stroke="#eef3ef" stroke-width="4.2" stroke-linejoin="round"/>
<path d="M217.4,225.8 h22.6" fill="none" stroke="#eef3ef" stroke-width="4.2" stroke-linejoin="round"/>
<path d="M217.4,229.3 h22.6" fill="none" stroke="#eef3ef" stroke-width="4.2" stroke-linejoin="round"/>
<path d="M61.7,147.9 v18.3 l6.9,6.9 v9.1" fill="none" stroke="#eef3ef" stroke-width="5.7" stroke-linejoin="round"/>
<path d="M68.2,147.9 v18.3 l6.9,6.9 v9.1" fill="none" stroke="#eef3ef" stroke-width="5.7" stroke-linejoin="round"/>
<path d="M74.7,147.9 v18.3 l6.9,6.9 v9.1" fill="none" stroke="#eef3ef" stroke-width="5.7" stroke-linejoin="round"/>
<path d="M216.4,281.9 v43.8" fill="none" stroke="#eef3ef" stroke-width="4.7" stroke-linejoin="round"/>
<path d="M145.0,-1.4 h37.6" fill="none" stroke="#eef3ef" stroke-width="4.7" stroke-linejoin="round"/>
<path d="M145.0,2.6 h37.6" fill="none" stroke="#eef3ef" stroke-width="4.7" stroke-linejoin="round"/>
<path d="M312.6,330.1 v36.1 l11.1,11.1 v18.0" fill="none" stroke="#eef3ef" stroke-width="5.7" stroke-linejoin="round"/>
<path d="M317.6,330.1 v36.1 l11.1,11.1 v18.0" fill="none" stroke="#eef3ef" stroke-width="5.7" stroke-linejoin="round"/>
<path d="M211.0,312.3 v28.1" fill="none" stroke="#eef3ef" stroke-width="4.2" stroke-linejoin="round"/>
<path d="M215.5,312.3 v28.1" fill="none" stroke="#eef3ef" stroke-width="4.2" stroke-linejoin="round"/>
<path d="M220.0,312.3 v28.1" fill="none" stroke="#eef3ef" stroke-width="4.2" stroke-linejoin="round"/>
<path d="M224.5,312.3 v28.1" fill="none" stroke="#eef3ef" stroke-width="4.2" stroke-linejoin="round"/>
<path d="M84.3,-0.3 v43.4 l6.4,6.4 v21.7" fill="none" stroke="#eef3ef" stroke-width="5.7" stroke-linejoin="round"/>
<path d="M90.8,-0.3 v43.4 l6.4,6.4 v21.7" fill="none" stroke="#eef3ef" stroke-width="5.7" stroke-linejoin="round"/>
<path d="M97.3,-0.3 v43.4 l6.4,6.4 v21.7" fill="none" stroke="#eef3ef" stroke-width="5.7" stroke-linejoin="round"/>
<path d="M103.8,-0.3 v43.4 l6.4,6.4 v21.7" fill="none" stroke="#eef3ef" stroke-width="5.7" stroke-linejoin="round"/>
<path d="M259.3,103.8 v22.0" fill="none" stroke="#eef3ef" stroke-width="5.2" stroke-linejoin="round"/>
<path d="M263.8,103.8 v22.0" fill="none" stroke="#eef3ef" stroke-width="5.2" stroke-linejoin="round"/>
<path d="M268.3,103.8 v22.0" fill="none" stroke="#eef3ef" stroke-width="5.2" stroke-linejoin="round"/>
<path d="M272.8,103.8 v22.0" fill="none" stroke="#eef3ef" stroke-width="5.2" stroke-linejoin="round"/>
<path d="M279.4,278.3 h25.9" fill="none" stroke="#eef3ef" stroke-width="7.2" stroke-linejoin="round"/>
<path d="M128.5,330.6 v54.6" fill="none" stroke="#eef3ef" stroke-width="4.2" stroke-linejoin="round"/>
<path d="M133.0,330.6 v54.6" fill="none" stroke="#eef3ef" stroke-width="4.2" stroke-linejoin="round"/>
<path d="M137.5,330.6 v54.6" fill="none" stroke="#eef3ef" stroke-width="4.2" stroke-linejoin="round"/>
<path d="M250.5,65.1 v48.2" fill="none" stroke="#eef3ef" stroke-width="7.2" stroke-linejoin="round"/>
<path d="M5.3,136.0 h53.8" fill="none" stroke="#eef3ef" stroke-width="5.7" stroke-linejoin="round"/>
<path d="M5.3,141.0 h53.8" fill="none" stroke="#eef3ef" stroke-width="5.7" stroke-linejoin="round"/>
<path d="M5.3,146.0 h53.8" fill="none" stroke="#eef3ef" stroke-width="5.7" stroke-linejoin="round"/>
<path d="M5.3,151.0 h53.8" fill="none" stroke="#eef3ef" stroke-width="5.7" stroke-linejoin="round"/>
<path d="M258.1,113.3 v43.8 l10.0,10.0 v21.9" fill="none" stroke="#eef3ef" stroke-width="7.2" stroke-linejoin="round"/>
<path d="M265.6,113.3 v43.8 l10.0,10.0 v21.9" fill="none" stroke="#eef3ef" stroke-width="7.2" stroke-linejoin="round"/>
<path d="M273.1,113.3 v43.8 l10.0,10.0 v21.9" fill="none" stroke="#eef3ef" stroke-width="7.2" stroke-linejoin="round"/>
<path d="M-7.2,291.5 h45.0 l11.1,-11.1 h22.5" fill="none" stroke="#eef3ef" stroke-width="4.7" stroke-linejoin="round"/>
<path d="M-7.2,295.5 h45.0 l11.1,-11.1 h22.5" fill="none" stroke="#eef3ef" stroke-width="4.7" stroke-linejoin="round"/>
<path d="M52.4,327.0 v55.5 l-5.7,5.7 v27.7" fill="none" stroke="#eef3ef" stroke-width="4.7" stroke-linejoin="round"/>
<path d="M57.4,327.0 v55.5 l-5.7,5.7 v27.7" fill="none" stroke="#eef3ef" stroke-width="4.7" stroke-linejoin="round"/>
<path d="M62.4,327.0 v55.5 l-5.7,5.7 v27.7" fill="none" stroke="#eef3ef" stroke-width="4.7" stroke-linejoin="round"/>
<path d="M338.7,156.7 v38.4 l-11.3,11.3 v19.2" fill="none" stroke="#eef3ef" stroke-width="7.2" stroke-linejoin="round"/>
<path d="M345.2,156.7 v38.4 l-11.3,11.3 v19.2" fill="none" stroke="#eef3ef" stroke-width="7.2" stroke-linejoin="round"/>
<path d="M351.7,156.7 v38.4 l-11.3,11.3 v19.2" fill="none" stroke="#eef3ef" stroke-width="7.2" stroke-linejoin="round"/>
<path d="M358.2,156.7 v38.4 l-11.3,11.3 v19.2" fill="none" stroke="#eef3ef" stroke-width="7.2" stroke-linejoin="round"/>
<path d="M292.6,193.2 h23.8 l6.7,-6.7 h11.9" fill="none" stroke="#eef3ef" stroke-width="5.2" stroke-linejoin="round"/>
<path d="M292.6,197.7 h23.8 l6.7,-6.7 h11.9" fill="none" stroke="#eef3ef" stroke-width="5.2" stroke-linejoin="round"/>
<path d="M92.3,99.6 h30.0" fill="none" stroke="#eef3ef" stroke-width="5.2" stroke-linejoin="round"/>
<path d="M92.3,105.1 h30.0" fill="none" stroke="#eef3ef" stroke-width="5.2" stroke-linejoin="round"/>
<path d="M92.3,110.6 h30.0" fill="none" stroke="#eef3ef" stroke-width="5.2" stroke-linejoin="round"/>
<path d="M89.7,313.8 h23.1 l9.2,9.2 h11.5" fill="none" stroke="#eef3ef" stroke-width="5.7" stroke-linejoin="round"/>
<path d="M89.7,320.3 h23.1 l9.2,9.2 h11.5" fill="none" stroke="#eef3ef" stroke-width="5.7" stroke-linejoin="round"/>
<path d="M89.7,326.8 h23.1 l9.2,9.2 h11.5" fill="none" stroke="#eef3ef" stroke-width="5.7" stroke-linejoin="round"/>
<path d="M74.8,337.7 v53.0" fill="none" stroke="#eef3ef" stroke-width="7.2" stroke-linejoin="round"/>
<path d="M335.0,246.3 h25.8 l5.1,-5.1 h12.9" fill="none" stroke="#eef3ef" stroke-width="5.2" stroke-linejoin="round"/>
<path d="M335.0,252.3 h25.8 l5.1,-5.1 h12.9" fill="none" stroke="#eef3ef" stroke-width="5.2" stroke-linejoin="round"/>
<path d="M335.0,258.3 h25.8 l5.1,-5.1 h12.9" fill="none" stroke="#eef3ef" stroke-width="5.2" stroke-linejoin="round"/>
<path d="M335.0,264.3 h25.8 l5.1,-5.1 h12.9" fill="none" stroke="#eef3ef" stroke-width="5.2" stroke-linejoin="round"/>
<path d="M-3.5,252.5 v42.3" fill="none" stroke="#eef3ef" stroke-width="4.2" stroke-linejoin="round"/>
<path d="M1.0,252.5 v42.3" fill="none" stroke="#eef3ef" stroke-width="4.2" stroke-linejoin="round"/>
<path d="M116.3,65.5 h42.1" fill="none" stroke="#eef3ef" stroke-width="7.2" stroke-linejoin="round"/>
<path d="M116.3,73.5 h42.1" fill="none" stroke="#eef3ef" stroke-width="7.2" stroke-linejoin="round"/>
<path d="M116.3,81.5 h42.1" fill="none" stroke="#eef3ef" stroke-width="7.2" stroke-linejoin="round"/>
<path d="M116.3,89.5 h42.1" fill="none" stroke="#eef3ef" stroke-width="7.2" stroke-linejoin="round"/>
<path d="M206.2,0.4 v49.3 l5.6,5.6 v24.6" fill="none" stroke="#eef3ef" stroke-width="7.2" stroke-linejoin="round"/>
<path d="M212.7,0.4 v49.3 l5.6,5.6 v24.6" fill="none" stroke="#eef3ef" stroke-width="7.2" stroke-linejoin="round"/>
<path d="M91.9,8.7 v57.3" fill="none" stroke="#eef3ef" stroke-width="5.2" stroke-linejoin="round"/>
<path d="M96.4,8.7 v57.3" fill="none" stroke="#eef3ef" stroke-width="5.2" stroke-linejoin="round"/>
<path d="M-1.9,163.8 v46.4" fill="none" stroke="#eef3ef" stroke-width="5.7" stroke-linejoin="round"/>
<path d="M4.1,163.8 v46.4" fill="none" stroke="#eef3ef" stroke-width="5.7" stroke-linejoin="round"/>
<path d="M10.1,163.8 v46.4" fill="none" stroke="#eef3ef" stroke-width="5.7" stroke-linejoin="round"/>
<path d="M16.1,163.8 v46.4" fill="none" stroke="#eef3ef" stroke-width="5.7" stroke-linejoin="round"/>
<path d="M144.3,25.3 h52.1" fill="none" stroke="#eef3ef" stroke-width="5.2" stroke-linejoin="round"/>
<path d="M144.3,29.8 h52.1" fill="none" stroke="#eef3ef" stroke-width="5.2" stroke-linejoin="round"/>
<path d="M336.3,239.9 h42.0" fill="none" stroke="#eef3ef" stroke-width="4.2" stroke-linejoin="round"/>
<path d="M243.4,112.6 h55.9" fill="none" stroke="#eef3ef" stroke-width="7.2" stroke-linejoin="round"/>
<path d="M243.4,119.1 h55.9" fill="none" stroke="#eef3ef" stroke-width="7.2" stroke-linejoin="round"/>
<path d="M61.1,276.7 v48.0" fill="none" stroke="#eef3ef" stroke-width="5.7" stroke-linejoin="round"/>
<path d="M67.6,276.7 v48.0" fill="none" stroke="#eef3ef" stroke-width="5.7" stroke-linejoin="round"/>
<path d="M74.1,276.7 v48.0" fill="none" stroke="#eef3ef" stroke-width="5.7" stroke-linejoin="round"/>
<path d="M-4.7,228.5 h31.1 l5.3,-5.3 h15.5" fill="none" stroke="#eef3ef" stroke-width="5.7" stroke-linejoin="round"/>
<path d="M-4.7,234.5 h31.1 l5.3,-5.3 h15.5" fill="none" stroke="#eef3ef" stroke-width="5.7" stroke-linejoin="round"/>
<path d="M-4.7,240.5 h31.1 l5.3,-5.3 h15.5" fill="none" stroke="#eef3ef" stroke-width="5.7" stroke-linejoin="round"/>
<path d="M-4.7,246.5 h31.1 l5.3,-5.3 h15.5" fill="none" stroke="#eef3ef" stroke-width="5.7" stroke-linejoin="round"/>
<path d="M7.3,90.9 h41.4 l7.1,7.1 h20.7" fill="none" stroke="#eef3ef" stroke-width="5.2" stroke-linejoin="round"/>
<path d="M7.3,95.4 h41.4 l7.1,7.1 h20.7" fill="none" stroke="#eef3ef" stroke-width="5.2" stroke-linejoin="round"/>
<path d="M7.3,99.9 h41.4 l7.1,7.1 h20.7" fill="none" stroke="#eef3ef" stroke-width="5.2" stroke-linejoin="round"/>
<path d="M7.3,104.4 h41.4 l7.1,7.1 h20.7" fill="none" stroke="#eef3ef" stroke-width="5.2" stroke-linejoin="round"/>
<path d="M262.8,123.6 h32.9 l8.5,-8.5 h16.5" fill="none" stroke="#eef3ef" stroke-width="5.2" stroke-linejoin="round"/>
<path d="M262.8,128.1 h32.9 l8.5,-8.5 h16.5" fill="none" stroke="#eef3ef" stroke-width="5.2" stroke-linejoin="round"/>
<path d="M262.8,132.6 h32.9 l8.5,-8.5 h16.5" fill="none" stroke="#eef3ef" stroke-width="5.2" stroke-linejoin="round"/>
<path d="M14.4,244.4 h28.4" fill="none" stroke="#eef3ef" stroke-width="4.7" stroke-linejoin="round"/>
<path d="M14.4,249.9 h28.4" fill="none" stroke="#eef3ef" stroke-width="4.7" stroke-linejoin="round"/>
<path d="M14.4,255.4 h28.4" fill="none" stroke="#eef3ef" stroke-width="4.7" stroke-linejoin="round"/>
<path d="M14.4,260.9 h28.4" fill="none" stroke="#eef3ef" stroke-width="4.7" stroke-linejoin="round"/>
<path d="M95.8,6.0 h18.4" fill="none" stroke="#eef3ef" stroke-width="4.7" stroke-linejoin="round"/>
<path d="M95.8,11.5 h18.4" fill="none" stroke="#eef3ef" stroke-width="4.7" stroke-linejoin="round"/>
<path d="M95.8,17.0 h18.4" fill="none" stroke="#eef3ef" stroke-width="4.7" stroke-linejoin="round"/>
<path d="M185.3,147.4 v28.9" fill="none" stroke="#eef3ef" stroke-width="5.2" stroke-linejoin="round"/>
<path d="M79.9,282.6 v51.1 l-10.3,10.3 v25.5" fill="none" stroke="#eef3ef" stroke-width="5.2" stroke-linejoin="round"/>
<path d="M85.9,282.6 v51.1 l-10.3,10.3 v25.5" fill="none" stroke="#eef3ef" stroke-width="5.2" stroke-linejoin="round"/>
<path d="M91.9,282.6 v51.1 l-10.3,10.3 v25.5" fill="none" stroke="#eef3ef" stroke-width="5.2" stroke-linejoin="round"/>
<path d="M10.1,235.8 v53.3" fill="none" stroke="#eef3ef" stroke-width="7.2" stroke-linejoin="round"/>
<path d="M17.6,235.8 v53.3" fill="none" stroke="#eef3ef" stroke-width="7.2" stroke-linejoin="round"/>
<path d="M25.1,235.8 v53.3" fill="none" stroke="#eef3ef" stroke-width="7.2" stroke-linejoin="round"/>
<path d="M32.6,235.8 v53.3" fill="none" stroke="#eef3ef" stroke-width="7.2" stroke-linejoin="round"/>
<path d="M337.5,134.7 h32.4" fill="none" stroke="#eef3ef" stroke-width="4.7" stroke-linejoin="round"/>
<path d="M337.5,138.7 h32.4" fill="none" stroke="#eef3ef" stroke-width="4.7" stroke-linejoin="round"/>
<path d="M114.4,28.5 v23.5" fill="none" stroke="#eef3ef" stroke-width="7.2" stroke-linejoin="round"/>
<path d="M121.9,28.5 v23.5" fill="none" stroke="#eef3ef" stroke-width="7.2" stroke-linejoin="round"/>
<path d="M129.4,28.5 v23.5" fill="none" stroke="#eef3ef" stroke-width="7.2" stroke-linejoin="round"/>
<path d="M136.9,28.5 v23.5" fill="none" stroke="#eef3ef" stroke-width="7.2" stroke-linejoin="round"/>
<path d="M-3.0,146.4 h19.4 l8.9,-8.9 h9.7" fill="none" stroke="#eef3ef" stroke-width="5.2" stroke-linejoin="round"/>
<path d="M169.2,297.6 h25.8 l10.0,10.0 h12.9" fill="none" stroke="#eef3ef" stroke-width="5.7" stroke-linejoin="round"/>
<path d="M169.2,303.6 h25.8 l10.0,10.0 h12.9" fill="none" stroke="#eef3ef" stroke-width="5.7" stroke-linejoin="round"/>
<path d="M323.7,310.1 v59.0" fill="none" stroke="#eef3ef" stroke-width="4.2" stroke-linejoin="round"/>
<path d="M327.2,310.1 v59.0" fill="none" stroke="#eef3ef" stroke-width="4.2" stroke-linejoin="round"/>
<path d="M330.7,310.1 v59.0" fill="none" stroke="#eef3ef" stroke-width="4.2" stroke-linejoin="round"/>
<path d="M334.2,310.1 v59.0" fill="none" stroke="#eef3ef" stroke-width="4.2" stroke-linejoin="round"/>
<path d="M291.1,277.0 h46.6" fill="none" stroke="#eef3ef" stroke-width="7.2" stroke-linejoin="round"/>
<path d="M291.1,283.5 h46.6" fill="none" stroke="#eef3ef" stroke-width="7.2" stroke-linejoin="round"/>
<path d="M210.7,254.1 h50.6 l8.8,-8.8 h25.3" fill="none" stroke="#eef3ef" stroke-width="5.7" stroke-linejoin="round"/>
<path d="M27.0,126.9 h25.1" fill="none" stroke="#eef3ef" stroke-width="5.2" stroke-linejoin="round"/>
<path d="M27.0,132.9 h25.1" fill="none" stroke="#eef3ef" stroke-width="5.2" stroke-linejoin="round"/>
<path d="M27.0,138.9 h25.1" fill="none" stroke="#eef3ef" stroke-width="5.2" stroke-linejoin="round"/>
<path d="M27.0,144.9 h25.1" fill="none" stroke="#eef3ef" stroke-width="5.2" stroke-linejoin="round"/>
<path d="M304.3,120.4 h17.3" fill="none" stroke="#eef3ef" stroke-width="5.7" stroke-linejoin="round"/>
<path d="M304.3,126.9 h17.3" fill="none" stroke="#eef3ef" stroke-width="5.7" stroke-linejoin="round"/>
<path d="M304.3,133.4 h17.3" fill="none" stroke="#eef3ef" stroke-width="5.7" stroke-linejoin="round"/>
<path d="M304.3,139.9 h17.3" fill="none" stroke="#eef3ef" stroke-width="5.7" stroke-linejoin="round"/>
<path d="M286.3,62.0 v58.4" fill="none" stroke="#eef3ef" stroke-width="4.7" stroke-linejoin="round"/>
<path d="M291.8,62.0 v58.4" fill="none" stroke="#eef3ef" stroke-width="4.7" stroke-linejoin="round"/>
<path d="M297.3,62.0 v58.4" fill="none" stroke="#eef3ef" stroke-width="4.7" stroke-linejoin="round"/>
<path d="M213.9,285.5 v36.9" fill="none" stroke="#eef3ef" stroke-width="7.2" stroke-linejoin="round"/>
<path d="M220.4,285.5 v36.9" fill="none" stroke="#eef3ef" stroke-width="7.2" stroke-linejoin="round"/>
<path d="M226.9,285.5 v36.9" fill="none" stroke="#eef3ef" stroke-width="7.2" stroke-linejoin="round"/>
<path d="M18.4,344.2 v59.4 l-8.6,8.6 v29.7" fill="none" stroke="#eef3ef" stroke-width="7.2" stroke-linejoin="round"/>
<path d="M24.9,344.2 v59.4 l-8.6,8.6 v29.7" fill="none" stroke="#eef3ef" stroke-width="7.2" stroke-linejoin="round"/>
<path d="M31.4,344.2 v59.4 l-8.6,8.6 v29.7" fill="none" stroke="#eef3ef" stroke-width="7.2" stroke-linejoin="round"/>
<path d="M64.8,306.6 h24.7" fill="none" stroke="#eef3ef" stroke-width="4.7" stroke-linejoin="round"/>
<path d="M92.5,331.3 h59.4 l7.6,7.6 h29.7" fill="none" stroke="#eef3ef" stroke-width="4.7" stroke-linejoin="round"/>
<path d="M3.4,230.2 h32.9 l5.6,5.6 h16.5" fill="none" stroke="#eef3ef" stroke-width="4.2" stroke-linejoin="round"/>
<path d="M208.1,5.1 h35.8" fill="none" stroke="#eef3ef" stroke-width="4.7" stroke-linejoin="round"/>
<path d="M208.1,10.1 h35.8" fill="none" stroke="#eef3ef" stroke-width="4.7" stroke-linejoin="round"/>
<path d="M208.1,15.1 h35.8" fill="none" stroke="#eef3ef" stroke-width="4.7" stroke-linejoin="round"/>
<path d="M208.1,20.1 h35.8" fill="none" stroke="#eef3ef" stroke-width="4.7" stroke-linejoin="round"/>
<path d="M209.8,212.1 v55.9" fill="none" stroke="#c9cbc9" stroke-width="3.5" stroke-linejoin="round"/>
<path d="M327.0,128.4 h22.2" fill="none" stroke="#d0d2d0" stroke-width="5" stroke-linejoin="round"/>
<path d="M25.5,38.3 h50.1" fill="none" stroke="#d7d9d7" stroke-width="3" stroke-linejoin="round"/>
<path d="M25.5,43.8 h50.1" fill="none" stroke="#d7d9d7" stroke-width="3" stroke-linejoin="round"/>
<path d="M25.5,49.3 h50.1" fill="none" stroke="#d7d9d7" stroke-width="3" stroke-linejoin="round"/>
<path d="M25.5,54.8 h50.1" fill="none" stroke="#d7d9d7" stroke-width="3" stroke-linejoin="round"/>
<path d="M139.4,43.5 v54.3" fill="none" stroke="#c2c4c2" stroke-width="2" stroke-linejoin="round"/>
<path d="M144.4,43.5 v54.3" fill="none" stroke="#c2c4c2" stroke-width="2" stroke-linejoin="round"/>
<path d="M149.4,43.5 v54.3" fill="none" stroke="#c2c4c2" stroke-width="2" stroke-linejoin="round"/>
<path d="M154.4,43.5 v54.3" fill="none" stroke="#c2c4c2" stroke-width="2" stroke-linejoin="round"/>
<path d="M353.5,99.9 v57.7 l7.2,7.2 v28.9" fill="none" stroke="#d0d2d0" stroke-width="3.5" stroke-linejoin="round"/>
<path d="M332.4,170.0 v57.1 l11.9,11.9 v28.6" fill="none" stroke="#d0d2d0" stroke-width="3.5" stroke-linejoin="round"/>
<path d="M338.4,170.0 v57.1 l11.9,11.9 v28.6" fill="none" stroke="#d0d2d0" stroke-width="3.5" stroke-linejoin="round"/>
<path d="M343.6,232.7 v44.4" fill="none" stroke="#d0d2d0" stroke-width="3" stroke-linejoin="round"/>
<path d="M348.1,232.7 v44.4" fill="none" stroke="#d0d2d0" stroke-width="3" stroke-linejoin="round"/>
<path d="M149.6,293.7 v48.4" fill="none" stroke="#d7d9d7" stroke-width="2.5" stroke-linejoin="round"/>
<path d="M155.1,293.7 v48.4" fill="none" stroke="#d7d9d7" stroke-width="2.5" stroke-linejoin="round"/>
<path d="M160.6,293.7 v48.4" fill="none" stroke="#d7d9d7" stroke-width="2.5" stroke-linejoin="round"/>
<path d="M223.7,276.2 v34.0" fill="none" stroke="#d7d9d7" stroke-width="5" stroke-linejoin="round"/>
<path d="M231.2,276.2 v34.0" fill="none" stroke="#d7d9d7" stroke-width="5" stroke-linejoin="round"/>
<path d="M2.9,136.7 h57.4" fill="none" stroke="#d7d9d7" stroke-width="5" stroke-linejoin="round"/>
<path d="M2.9,144.7 h57.4" fill="none" stroke="#d7d9d7" stroke-width="5" stroke-linejoin="round"/>
<path d="M2.9,152.7 h57.4" fill="none" stroke="#d7d9d7" stroke-width="5" stroke-linejoin="round"/>
<path d="M2.9,160.7 h57.4" fill="none" stroke="#d7d9d7" stroke-width="5" stroke-linejoin="round"/>
<path d="M33.7,76.8 v55.3" fill="none" stroke="#c2c4c2" stroke-width="3.5" stroke-linejoin="round"/>
<path d="M40.2,76.8 v55.3" fill="none" stroke="#c2c4c2" stroke-width="3.5" stroke-linejoin="round"/>
<path d="M9.4,314.1 v26.4 l-6.2,6.2 v13.2" fill="none" stroke="#c2c4c2" stroke-width="5" stroke-linejoin="round"/>
<path d="M16.9,314.1 v26.4 l-6.2,6.2 v13.2" fill="none" stroke="#c2c4c2" stroke-width="5" stroke-linejoin="round"/>
<path d="M162.1,265.7 v49.9" fill="none" stroke="#c2c4c2" stroke-width="2" stroke-linejoin="round"/>
<path d="M168.4,45.7 v44.1" fill="none" stroke="#d0d2d0" stroke-width="5" stroke-linejoin="round"/>
<path d="M175.9,45.7 v44.1" fill="none" stroke="#d0d2d0" stroke-width="5" stroke-linejoin="round"/>
<path d="M183.4,45.7 v44.1" fill="none" stroke="#d0d2d0" stroke-width="5" stroke-linejoin="round"/>
<path d="M190.9,45.7 v44.1" fill="none" stroke="#d0d2d0" stroke-width="5" stroke-linejoin="round"/>
<path d="M19.1,53.4 v43.7" fill="none" stroke="#d7d9d7" stroke-width="2" stroke-linejoin="round"/>
<path d="M24.1,53.4 v43.7" fill="none" stroke="#d7d9d7" stroke-width="2" stroke-linejoin="round"/>
<path d="M29.1,53.4 v43.7" fill="none" stroke="#d7d9d7" stroke-width="2" stroke-linejoin="round"/>
<path d="M34.1,53.4 v43.7" fill="none" stroke="#d7d9d7" stroke-width="2" stroke-linejoin="round"/>
<path d="M242.7,153.6 v46.3" fill="none" stroke="#c9cbc9" stroke-width="2" stroke-linejoin="round"/>
<path d="M247.2,153.6 v46.3" fill="none" stroke="#c9cbc9" stroke-width="2" stroke-linejoin="round"/>
<path d="M251.7,153.6 v46.3" fill="none" stroke="#c9cbc9" stroke-width="2" stroke-linejoin="round"/>
<path d="M316.8,270.8 h46.1" fill="none" stroke="#c2c4c2" stroke-width="5" stroke-linejoin="round"/>
<path d="M316.8,278.3 h46.1" fill="none" stroke="#c2c4c2" stroke-width="5" stroke-linejoin="round"/>
<path d="M316.8,285.8 h46.1" fill="none" stroke="#c2c4c2" stroke-width="5" stroke-linejoin="round"/>
<path d="M316.8,293.3 h46.1" fill="none" stroke="#c2c4c2" stroke-width="5" stroke-linejoin="round"/>
<path d="M250.8,158.1 h17.0" fill="none" stroke="#c2c4c2" stroke-width="2" stroke-linejoin="round"/>
<path d="M250.8,163.1 h17.0" fill="none" stroke="#c2c4c2" stroke-width="2" stroke-linejoin="round"/>
<path d="M250.8,168.1 h17.0" fill="none" stroke="#c2c4c2" stroke-width="2" stroke-linejoin="round"/>
<path d="M250.8,173.1 h17.0" fill="none" stroke="#c2c4c2" stroke-width="2" stroke-linejoin="round"/>
<path d="M195.2,177.8 h57.1 l6.7,-6.7 h28.5" fill="none" stroke="#d0d2d0" stroke-width="2" stroke-linejoin="round"/>
<path d="M264.3,129.8 v57.2 l10.9,10.9 v28.6" fill="none" stroke="#c2c4c2" stroke-width="5" stroke-linejoin="round"/>
<path d="M271.8,129.8 v57.2 l10.9,10.9 v28.6" fill="none" stroke="#c2c4c2" stroke-width="5" stroke-linejoin="round"/>
<path d="M279.3,129.8 v57.2 l10.9,10.9 v28.6" fill="none" stroke="#c2c4c2" stroke-width="5" stroke-linejoin="round"/>
<path d="M286.8,129.8 v57.2 l10.9,10.9 v28.6" fill="none" stroke="#c2c4c2" stroke-width="5" stroke-linejoin="round"/>
<path d="M342.0,137.4 v22.0" fill="none" stroke="#c9cbc9" stroke-width="3.5" stroke-linejoin="round"/>
<path d="M347.0,137.4 v22.0" fill="none" stroke="#c9cbc9" stroke-width="3.5" stroke-linejoin="round"/>
<path d="M352.0,137.4 v22.0" fill="none" stroke="#c9cbc9" stroke-width="3.5" stroke-linejoin="round"/>
<path d="M357.0,137.4 v22.0" fill="none" stroke="#c9cbc9" stroke-width="3.5" stroke-linejoin="round"/>
<path d="M0.1,342.4 h50.2" fill="none" stroke="#c9cbc9" stroke-width="2" stroke-linejoin="round"/>
<path d="M0.1,346.9 h50.2" fill="none" stroke="#c9cbc9" stroke-width="2" stroke-linejoin="round"/>
<path d="M0.1,351.4 h50.2" fill="none" stroke="#c9cbc9" stroke-width="2" stroke-linejoin="round"/>
<path d="M0.1,355.9 h50.2" fill="none" stroke="#c9cbc9" stroke-width="2" stroke-linejoin="round"/>
<path d="M302.5,309.4 v29.1 l5.3,5.3 v14.6" fill="none" stroke="#c2c4c2" stroke-width="3.5" stroke-linejoin="round"/>
<path d="M0.7,107.7 v24.5" fill="none" stroke="#d7d9d7" stroke-width="5" stroke-linejoin="round"/>
<path d="M17.8,143.6 h19.4 l5.8,5.8 h9.7" fill="none" stroke="#d0d2d0" stroke-width="3" stroke-linejoin="round"/>
<path d="M17.8,149.6 h19.4 l5.8,5.8 h9.7" fill="none" stroke="#d0d2d0" stroke-width="3" stroke-linejoin="round"/>
<path d="M17.8,155.6 h19.4 l5.8,5.8 h9.7" fill="none" stroke="#d0d2d0" stroke-width="3" stroke-linejoin="round"/>
<path d="M155.3,28.4 h44.0" fill="none" stroke="#d0d2d0" stroke-width="5" stroke-linejoin="round"/>
<path d="M155.3,35.9 h44.0" fill="none" stroke="#d0d2d0" stroke-width="5" stroke-linejoin="round"/>
<path d="M155.3,43.4 h44.0" fill="none" stroke="#d0d2d0" stroke-width="5" stroke-linejoin="round"/>
<path d="M246.8,28.1 v31.2 l8.5,8.5 v15.6" fill="none" stroke="#d7d9d7" stroke-width="3" stroke-linejoin="round"/>
<path d="M252.3,28.1 v31.2 l8.5,8.5 v15.6" fill="none" stroke="#d7d9d7" stroke-width="3" stroke-linejoin="round"/>
<path d="M257.8,28.1 v31.2 l8.5,8.5 v15.6" fill="none" stroke="#d7d9d7" stroke-width="3" stroke-linejoin="round"/>
<path d="M263.3,28.1 v31.2 l8.5,8.5 v15.6" fill="none" stroke="#d7d9d7" stroke-width="3" stroke-linejoin="round"/>
<path d="M30.8,86.0 h40.4" fill="none" stroke="#c9cbc9" stroke-width="2" stroke-linejoin="round"/>
<path d="M262.5,200.1 h50.9 l7.6,7.6 h25.5" fill="none" stroke="#c9cbc9" stroke-width="5" stroke-linejoin="round"/>
<path d="M262.5,208.1 h50.9 l7.6,7.6 h25.5" fill="none" stroke="#c9cbc9" stroke-width="5" stroke-linejoin="round"/>
<path d="M262.5,216.1 h50.9 l7.6,7.6 h25.5" fill="none" stroke="#c9cbc9" stroke-width="5" stroke-linejoin="round"/>
<path d="M262.5,224.1 h50.9 l7.6,7.6 h25.5" fill="none" stroke="#c9cbc9" stroke-width="5" stroke-linejoin="round"/>
<path d="M233.0,0.7 v19.8" fill="none" stroke="#c9cbc9" stroke-width="2.5" stroke-linejoin="round"/>
<path d="M229.3,44.2 h43.0" fill="none" stroke="#d0d2d0" stroke-width="2" stroke-linejoin="round"/>
<path d="M265.5,162.2 v33.4" fill="none" stroke="#c9cbc9" stroke-width="2.5" stroke-linejoin="round"/>
<path d="M207.1,69.5 v26.6 l-6.2,6.2 v13.3" fill="none" stroke="#d7d9d7" stroke-width="3" stroke-linejoin="round"/>
<path d="M211.6,69.5 v26.6 l-6.2,6.2 v13.3" fill="none" stroke="#d7d9d7" stroke-width="3" stroke-linejoin="round"/>
<path d="M137.0,49.7 v42.4 l7.2,7.2 v21.2" fill="none" stroke="#c9cbc9" stroke-width="3.5" stroke-linejoin="round"/>
<path d="M2.0,243.5 v32.8" fill="none" stroke="#c9cbc9" stroke-width="2" stroke-linejoin="round"/>
<path d="M32.3,314.0 v27.4 l9.4,9.4 v13.7" fill="none" stroke="#d7d9d7" stroke-width="3.5" stroke-linejoin="round"/>
<path d="M38.3,314.0 v27.4 l9.4,9.4 v13.7" fill="none" stroke="#d7d9d7" stroke-width="3.5" stroke-linejoin="round"/>
<path d="M44.3,314.0 v27.4 l9.4,9.4 v13.7" fill="none" stroke="#d7d9d7" stroke-width="3.5" stroke-linejoin="round"/>
<path d="M342.8,200.3 v45.6 l6.4,6.4 v22.8" fill="none" stroke="#c2c4c2" stroke-width="2" stroke-linejoin="round"/>
<path d="M323.9,323.7 v48.8" fill="none" stroke="#d0d2d0" stroke-width="3.5" stroke-linejoin="round"/>
<path d="M328.9,323.7 v48.8" fill="none" stroke="#d0d2d0" stroke-width="3.5" stroke-linejoin="round"/>
<path d="M333.9,323.7 v48.8" fill="none" stroke="#d0d2d0" stroke-width="3.5" stroke-linejoin="round"/>
<path d="M294.8,296.9 v56.6" fill="none" stroke="#d7d9d7" stroke-width="3" stroke-linejoin="round"/>
<path d="M300.3,296.9 v56.6" fill="none" stroke="#d7d9d7" stroke-width="3" stroke-linejoin="round"/>
<path d="M305.8,296.9 v56.6" fill="none" stroke="#d7d9d7" stroke-width="3" stroke-linejoin="round"/>
<path d="M225.4,343.9 v33.0 l-6.7,6.7 v16.5" fill="none" stroke="#d0d2d0" stroke-width="2" stroke-linejoin="round"/>
<path d="M229.9,343.9 v33.0 l-6.7,6.7 v16.5" fill="none" stroke="#d0d2d0" stroke-width="2" stroke-linejoin="round"/>
<path d="M203.1,-5.9 v24.9" fill="none" stroke="#d7d9d7" stroke-width="5" stroke-linejoin="round"/>
<path d="M211.1,-5.9 v24.9" fill="none" stroke="#d7d9d7" stroke-width="5" stroke-linejoin="round"/>
<path d="M184.8,56.8 h16.9 l5.6,5.6 h8.4" fill="none" stroke="#c2c4c2" stroke-width="2" stroke-linejoin="round"/>
<path d="M206.4,279.3 v35.9" fill="none" stroke="#d0d2d0" stroke-width="2" stroke-linejoin="round"/>
<path d="M226.0,205.1 v52.7 l-7.3,7.3 v26.4" fill="none" stroke="#c9cbc9" stroke-width="2" stroke-linejoin="round"/>
<path d="M230.5,205.1 v52.7 l-7.3,7.3 v26.4" fill="none" stroke="#c9cbc9" stroke-width="2" stroke-linejoin="round"/>
<path d="M235.0,205.1 v52.7 l-7.3,7.3 v26.4" fill="none" stroke="#c9cbc9" stroke-width="2" stroke-linejoin="round"/>
<path d="M96.3,321.6 h16.3 l6.9,-6.9 h8.1" fill="none" stroke="#c2c4c2" stroke-width="2.5" stroke-linejoin="round"/>
<path d="M261.8,92.0 v55.9" fill="none" stroke="#c9cbc9" stroke-width="3.5" stroke-linejoin="round"/>
<path d="M266.8,92.0 v55.9" fill="none" stroke="#c9cbc9" stroke-width="3.5" stroke-linejoin="round"/>
<path d="M271.8,92.0 v55.9" fill="none" stroke="#c9cbc9" stroke-width="3.5" stroke-linejoin="round"/>
<path d="M48.7,100.7 v31.2" fill="none" stroke="#c2c4c2" stroke-width="3" stroke-linejoin="round"/>
<path d="M54.2,100.7 v31.2" fill="none" stroke="#c2c4c2" stroke-width="3" stroke-linejoin="round"/>
<path d="M328.6,174.4 v39.1" fill="none" stroke="#c2c4c2" stroke-width="2.5" stroke-linejoin="round"/>
<path d="M332.6,174.4 v39.1" fill="none" stroke="#c2c4c2" stroke-width="2.5" stroke-linejoin="round"/>
<path d="M341.5,118.8 h23.3" fill="none" stroke="#d7d9d7" stroke-width="2" stroke-linejoin="round"/>
<path d="M341.5,123.3 h23.3" fill="none" stroke="#d7d9d7" stroke-width="2" stroke-linejoin="round"/>
<path d="M341.5,127.8 h23.3" fill="none" stroke="#d7d9d7" stroke-width="2" stroke-linejoin="round"/>
<path d="M341.5,132.3 h23.3" fill="none" stroke="#d7d9d7" stroke-width="2" stroke-linejoin="round"/>
<path d="M253.1,110.5 h43.2" fill="none" stroke="#c9cbc9" stroke-width="2.5" stroke-linejoin="round"/>
<path d="M351.1,184.2 v35.0" fill="none" stroke="#d7d9d7" stroke-width="3" stroke-linejoin="round"/>
<path d="M356.6,184.2 v35.0" fill="none" stroke="#d7d9d7" stroke-width="3" stroke-linejoin="round"/>
<path d="M362.1,184.2 v35.0" fill="none" stroke="#d7d9d7" stroke-width="3" stroke-linejoin="round"/>
<path d="M3.7,162.4 v56.9" fill="none" stroke="#c2c4c2" stroke-width="5" stroke-linejoin="round"/>
<path d="M11.2,162.4 v56.9" fill="none" stroke="#c2c4c2" stroke-width="5" stroke-linejoin="round"/>
<path d="M18.7,162.4 v56.9" fill="none" stroke="#c2c4c2" stroke-width="5" stroke-linejoin="round"/>
<path d="M26.2,162.4 v56.9" fill="none" stroke="#c2c4c2" stroke-width="5" stroke-linejoin="round"/>
<path d="M15.3,85.0 v28.0" fill="none" stroke="#c9cbc9" stroke-width="5" stroke-linejoin="round"/>
<path d="M21.8,85.0 v28.0" fill="none" stroke="#c9cbc9" stroke-width="5" stroke-linejoin="round"/>
<path d="M28.3,85.0 v28.0" fill="none" stroke="#c9cbc9" stroke-width="5" stroke-linejoin="round"/>
<path d="M134.7,-7.0 h49.2 l5.3,-5.3 h24.6" fill="none" stroke="#c9cbc9" stroke-width="2.5" stroke-linejoin="round"/>
<path d="M134.7,-2.0 h49.2 l5.3,-5.3 h24.6" fill="none" stroke="#c9cbc9" stroke-width="2.5" stroke-linejoin="round"/>
<path d="M339.7,179.8 v34.5 l5.9,5.9 v17.2" fill="none" stroke="#d0d2d0" stroke-width="2.5" stroke-linejoin="round"/>
<path d="M118.3,314.8 v15.3" fill="none" stroke="#d7d9d7" stroke-width="3" stroke-linejoin="round"/>
<path d="M122.8,314.8 v15.3" fill="none" stroke="#d7d9d7" stroke-width="3" stroke-linejoin="round"/>
<path d="M183.2,293.2 v35.9" fill="none" stroke="#d7d9d7" stroke-width="5" stroke-linejoin="round"/>
<path d="M190.7,293.2 v35.9" fill="none" stroke="#d7d9d7" stroke-width="5" stroke-linejoin="round"/>
<path d="M198.2,293.2 v35.9" fill="none" stroke="#d7d9d7" stroke-width="5" stroke-linejoin="round"/>
<path d="M205.7,293.2 v35.9" fill="none" stroke="#d7d9d7" stroke-width="5" stroke-linejoin="round"/>
<path d="M51.1,84.4 v42.2 l-10.6,10.6 v21.1" fill="none" stroke="#c9cbc9" stroke-width="2" stroke-linejoin="round"/>
<path d="M350.9,233.3 v19.2" fill="none" stroke="#d7d9d7" stroke-width="5" stroke-linejoin="round"/>
<path d="M358.9,233.3 v19.2" fill="none" stroke="#d7d9d7" stroke-width="5" stroke-linejoin="round"/>
<path d="M366.9,233.3 v19.2" fill="none" stroke="#d7d9d7" stroke-width="5" stroke-linejoin="round"/>
<path d="M94.4,336.7 h42.1 l11.8,11.8 h21.0" fill="none" stroke="#d0d2d0" stroke-width="2.5" stroke-linejoin="round"/>
<path d="M10.1,165.4 v47.0" fill="none" stroke="#d0d2d0" stroke-width="3" stroke-linejoin="round"/>
<path d="M14.6,165.4 v47.0" fill="none" stroke="#d0d2d0" stroke-width="3" stroke-linejoin="round"/>
<path d="M19.1,165.4 v47.0" fill="none" stroke="#d0d2d0" stroke-width="3" stroke-linejoin="round"/>
<path d="M23.6,165.4 v47.0" fill="none" stroke="#d0d2d0" stroke-width="3" stroke-linejoin="round"/>
<path d="M43.2,68.1 v21.3 l-8.8,8.8 v10.6" fill="none" stroke="#d0d2d0" stroke-width="2" stroke-linejoin="round"/>
<path d="M53.2,303.3 v32.2" fill="none" stroke="#d7d9d7" stroke-width="3.5" stroke-linejoin="round"/>
<path d="M58.2,303.3 v32.2" fill="none" stroke="#d7d9d7" stroke-width="3.5" stroke-linejoin="round"/>
<path d="M63.2,303.3 v32.2" fill="none" stroke="#d7d9d7" stroke-width="3.5" stroke-linejoin="round"/>
<path d="M335.7,95.8 v17.9" fill="none" stroke="#c2c4c2" stroke-width="3" stroke-linejoin="round"/>
<path d="M22.2,217.7 h40.8" fill="none" stroke="#c9cbc9" stroke-width="2" stroke-linejoin="round"/>
<path d="M22.2,221.2 h40.8" fill="none" stroke="#c9cbc9" stroke-width="2" stroke-linejoin="round"/>
<path d="M347.5,224.8 h40.8" fill="none" stroke="#c9cbc9" stroke-width="3" stroke-linejoin="round"/>
<path d="M347.5,230.8 h40.8" fill="none" stroke="#c9cbc9" stroke-width="3" stroke-linejoin="round"/>
<path d="M302.2,213.5 h23.3" fill="none" stroke="#c2c4c2" stroke-width="2" stroke-linejoin="round"/>
<path d="M302.2,218.0 h23.3" fill="none" stroke="#c2c4c2" stroke-width="2" stroke-linejoin="round"/>
<path d="M264.7,106.1 v25.7 l5.4,5.4 v12.8" fill="none" stroke="#c9cbc9" stroke-width="3" stroke-linejoin="round"/>
<path d="M341.5,249.9 v34.9 l9.3,9.3 v17.4" fill="none" stroke="#c9cbc9" stroke-width="5" stroke-linejoin="round"/>
<path d="M348.0,249.9 v34.9 l9.3,9.3 v17.4" fill="none" stroke="#c9cbc9" stroke-width="5" stroke-linejoin="round"/>
<path d="M354.5,249.9 v34.9 l9.3,9.3 v17.4" fill="none" stroke="#c9cbc9" stroke-width="5" stroke-linejoin="round"/>
<path d="M115.9,343.4 h20.2 l11.0,-11.0 h10.1" fill="none" stroke="#c9cbc9" stroke-width="3.5" stroke-linejoin="round"/>
<path d="M115.9,349.4 h20.2 l11.0,-11.0 h10.1" fill="none" stroke="#c9cbc9" stroke-width="3.5" stroke-linejoin="round"/>
<path d="M262.3,93.4 v34.0" fill="none" stroke="#c9cbc9" stroke-width="3" stroke-linejoin="round"/>
<path d="M268.3,93.4 v34.0" fill="none" stroke="#c9cbc9" stroke-width="3" stroke-linejoin="round"/>
<path d="M274.3,93.4 v34.0" fill="none" stroke="#c9cbc9" stroke-width="3" stroke-linejoin="round"/>
<path d="M320.5,186.2 v42.3" fill="none" stroke="#c9cbc9" stroke-width="2.5" stroke-linejoin="round"/>
<path d="M14.1,88.1 v20.3 l-6.9,6.9 v10.1" fill="none" stroke="#d0d2d0" stroke-width="2" stroke-linejoin="round"/>
<path d="M18.6,88.1 v20.3 l-6.9,6.9 v10.1" fill="none" stroke="#d0d2d0" stroke-width="2" stroke-linejoin="round"/>
<path d="M23.1,88.1 v20.3 l-6.9,6.9 v10.1" fill="none" stroke="#d0d2d0" stroke-width="2" stroke-linejoin="round"/>
<path d="M79.9,81.7 h55.6 l7.3,7.3 h27.8" fill="none" stroke="#c9cbc9" stroke-width="2" stroke-linejoin="round"/>
<path d="M79.9,86.7 h55.6 l7.3,7.3 h27.8" fill="none" stroke="#c9cbc9" stroke-width="2" stroke-linejoin="round"/>
<path d="M79.9,91.7 h55.6 l7.3,7.3 h27.8" fill="none" stroke="#c9cbc9" stroke-width="2" stroke-linejoin="round"/>
<path d="M31.8,284.1 v45.0" fill="none" stroke="#c9cbc9" stroke-width="3" stroke-linejoin="round"/>
<path d="M131.3,6.5 h24.5" fill="none" stroke="#c9cbc9" stroke-width="2.5" stroke-linejoin="round"/>
<path d="M120.3,31.9 v36.8" fill="none" stroke="#c2c4c2" stroke-width="3" stroke-linejoin="round"/>
<path d="M24.7,237.7 v46.9" fill="none" stroke="#d7d9d7" stroke-width="5" stroke-linejoin="round"/>
<path d="M32.7,237.7 v46.9" fill="none" stroke="#d7d9d7" stroke-width="5" stroke-linejoin="round"/>
<path d="M40.7,237.7 v46.9" fill="none" stroke="#d7d9d7" stroke-width="5" stroke-linejoin="round"/>
<path d="M48.7,237.7 v46.9" fill="none" stroke="#d7d9d7" stroke-width="5" stroke-linejoin="round"/>
<path d="M238.4,137.4 v38.3 l-10.6,10.6 v19.2" fill="none" stroke="#c2c4c2" stroke-width="3" stroke-linejoin="round"/>
<path d="M243.9,137.4 v38.3 l-10.6,10.6 v19.2" fill="none" stroke="#c2c4c2" stroke-width="3" stroke-linejoin="round"/>
<path d="M249.4,137.4 v38.3 l-10.6,10.6 v19.2" fill="none" stroke="#c2c4c2" stroke-width="3" stroke-linejoin="round"/>
<path d="M115.7,71.6 v32.8 l-9.1,9.1 v16.4" fill="none" stroke="#c9cbc9" stroke-width="5" stroke-linejoin="round"/>
<path d="M223.0,340.0 h38.5 l8.5,8.5 h19.2" fill="none" stroke="#d0d2d0" stroke-width="3.5" stroke-linejoin="round"/>
<path d="M223.0,346.5 h38.5 l8.5,8.5 h19.2" fill="none" stroke="#d0d2d0" stroke-width="3.5" stroke-linejoin="round"/>
<path d="M26.3,319.0 v34.7" fill="none" stroke="#c9cbc9" stroke-width="2.5" stroke-linejoin="round"/>
<path d="M31.3,319.0 v34.7" fill="none" stroke="#c9cbc9" stroke-width="2.5" stroke-linejoin="round"/>
<path d="M326.6,137.0 h43.0 l7.1,7.1 h21.5" fill="none" stroke="#d7d9d7" stroke-width="2" stroke-linejoin="round"/>
<path d="M326.6,142.0 h43.0 l7.1,7.1 h21.5" fill="none" stroke="#d7d9d7" stroke-width="2" stroke-linejoin="round"/>
<path d="M326.6,147.0 h43.0 l7.1,7.1 h21.5" fill="none" stroke="#d7d9d7" stroke-width="2" stroke-linejoin="round"/>
<path d="M326.6,152.0 h43.0 l7.1,7.1 h21.5" fill="none" stroke="#d7d9d7" stroke-width="2" stroke-linejoin="round"/>
<path d="M162.0,96.7 h28.9 l6.7,-6.7 h14.5" fill="none" stroke="#d7d9d7" stroke-width="5" stroke-linejoin="round"/>
<path d="M162.0,103.2 h28.9 l6.7,-6.7 h14.5" fill="none" stroke="#d7d9d7" stroke-width="5" stroke-linejoin="round"/>
<path d="M253.0,39.3 v38.1" fill="none" stroke="#d7d9d7" stroke-width="5" stroke-linejoin="round"/>
<path d="M259.5,39.3 v38.1" fill="none" stroke="#d7d9d7" stroke-width="5" stroke-linejoin="round"/>
<path d="M266.0,39.3 v38.1" fill="none" stroke="#d7d9d7" stroke-width="5" stroke-linejoin="round"/>
<path d="M248.8,189.0 v30.5" fill="none" stroke="#d0d2d0" stroke-width="2" stroke-linejoin="round"/>
<path d="M253.3,189.0 v30.5" fill="none" stroke="#d0d2d0" stroke-width="2" stroke-linejoin="round"/>
<path d="M257.8,189.0 v30.5" fill="none" stroke="#d0d2d0" stroke-width="2" stroke-linejoin="round"/>
<path d="M262.3,189.0 v30.5" fill="none" stroke="#d0d2d0" stroke-width="2" stroke-linejoin="round"/>
<path d="M64.8,24.6 h58.1" fill="none" stroke="#d0d2d0" stroke-width="3.5" stroke-linejoin="round"/>
<path d="M64.8,29.6 h58.1" fill="none" stroke="#d0d2d0" stroke-width="3.5" stroke-linejoin="round"/>
<path d="M64.8,34.6 h58.1" fill="none" stroke="#d0d2d0" stroke-width="3.5" stroke-linejoin="round"/>
<path d="M64.8,39.6 h58.1" fill="none" stroke="#d0d2d0" stroke-width="3.5" stroke-linejoin="round"/>
<path d="M77.9,54.5 h56.1" fill="none" stroke="#d7d9d7" stroke-width="3.5" stroke-linejoin="round"/>
<path d="M77.9,60.5 h56.1" fill="none" stroke="#d7d9d7" stroke-width="3.5" stroke-linejoin="round"/>
<path d="M133.5,311.0 h21.2" fill="none" stroke="#c2c4c2" stroke-width="2.5" stroke-linejoin="round"/>
<path d="M133.5,316.5 h21.2" fill="none" stroke="#c2c4c2" stroke-width="2.5" stroke-linejoin="round"/>
<path d="M11.2,188.7 h23.7" fill="none" stroke="#d7d9d7" stroke-width="2" stroke-linejoin="round"/>
<path d="M68.1,316.1 v55.8" fill="none" stroke="#c9cbc9" stroke-width="3.5" stroke-linejoin="round"/>
<path d="M73.1,316.1 v55.8" fill="none" stroke="#c9cbc9" stroke-width="3.5" stroke-linejoin="round"/>
<path d="M217.9,172.5 v41.6 l-5.6,5.6 v20.8" fill="none" stroke="#d7d9d7" stroke-width="3" stroke-linejoin="round"/>
<path d="M111.3,97.7 h40.2 l10.3,-10.3 h20.1" fill="none" stroke="#d0d2d0" stroke-width="3.5" stroke-linejoin="round"/>
<path d="M111.3,102.7 h40.2 l10.3,-10.3 h20.1" fill="none" stroke="#d0d2d0" stroke-width="3.5" stroke-linejoin="round"/>
<path d="M32.4,141.6 v26.9 l9.7,9.7 v13.5" fill="none" stroke="#c9cbc9" stroke-width="3" stroke-linejoin="round"/>
<path d="M38.4,141.6 v26.9 l9.7,9.7 v13.5" fill="none" stroke="#c9cbc9" stroke-width="3" stroke-linejoin="round"/>
<path d="M44.4,141.6 v26.9 l9.7,9.7 v13.5" fill="none" stroke="#c9cbc9" stroke-width="3" stroke-linejoin="round"/>
<path d="M50.4,141.6 v26.9 l9.7,9.7 v13.5" fill="none" stroke="#c9cbc9" stroke-width="3" stroke-linejoin="round"/>
<path d="M28.8,308.9 h50.8" fill="none" stroke="#d0d2d0" stroke-width="5" stroke-linejoin="round"/>
<path d="M28.8,315.4 h50.8" fill="none" stroke="#d0d2d0" stroke-width="5" stroke-linejoin="round"/>
<path d="M28.8,321.9 h50.8" fill="none" stroke="#d0d2d0" stroke-width="5" stroke-linejoin="round"/>
<path d="M307.2,112.0 v17.1 l5.1,5.1 v8.6" fill="none" stroke="#c2c4c2" stroke-width="3" stroke-linejoin="round"/>
<path d="M313.2,112.0 v17.1 l5.1,5.1 v8.6" fill="none" stroke="#c2c4c2" stroke-width="3" stroke-linejoin="round"/>
<path d="M319.2,112.0 v17.1 l5.1,5.1 v8.6" fill="none" stroke="#c2c4c2" stroke-width="3" stroke-linejoin="round"/>
<path d="M124.5,293.2 h53.1" fill="none" stroke="#d0d2d0" stroke-width="3.5" stroke-linejoin="round"/>
<path d="M124.5,299.2 h53.1" fill="none" stroke="#d0d2d0" stroke-width="3.5" stroke-linejoin="round"/>
<path d="M31.7,297.5 h29.1" fill="none" stroke="#c2c4c2" stroke-width="3" stroke-linejoin="round"/>
<path d="M31.7,303.5 h29.1" fill="none" stroke="#c2c4c2" stroke-width="3" stroke-linejoin="round"/>
<path d="M31.7,309.5 h29.1" fill="none" stroke="#c2c4c2" stroke-width="3" stroke-linejoin="round"/>
<path d="M9.3,124.6 h30.7" fill="none" stroke="#d7d9d7" stroke-width="3.5" stroke-linejoin="round"/>
<path d="M9.3,129.6 h30.7" fill="none" stroke="#d7d9d7" stroke-width="3.5" stroke-linejoin="round"/>
<path d="M9.3,134.6 h30.7" fill="none" stroke="#d7d9d7" stroke-width="3.5" stroke-linejoin="round"/>
<path d="M9.3,139.6 h30.7" fill="none" stroke="#d7d9d7" stroke-width="3.5" stroke-linejoin="round"/>
<path d="M267.9,226.3 v27.6" fill="none" stroke="#c9cbc9" stroke-width="3" stroke-linejoin="round"/>
<path d="M244.1,-4.9 h24.8 l9.7,9.7 h12.4" fill="none" stroke="#c9cbc9" stroke-width="5" stroke-linejoin="round"/>
<path d="M302.9,89.9 v39.5" fill="none" stroke="#d7d9d7" stroke-width="3" stroke-linejoin="round"/>
<path d="M308.4,89.9 v39.5" fill="none" stroke="#d7d9d7" stroke-width="3" stroke-linejoin="round"/>
<path d="M125.7,55.4 h41.7" fill="none" stroke="#d7d9d7" stroke-width="3.5" stroke-linejoin="round"/>
<path d="M125.7,61.9 h41.7" fill="none" stroke="#d7d9d7" stroke-width="3.5" stroke-linejoin="round"/>
<path d="M125.7,68.4 h41.7" fill="none" stroke="#d7d9d7" stroke-width="3.5" stroke-linejoin="round"/>
<path d="M257.2,146.4 v38.8" fill="none" stroke="#d7d9d7" stroke-width="5" stroke-linejoin="round"/>
<path d="M264.7,146.4 v38.8" fill="none" stroke="#d7d9d7" stroke-width="5" stroke-linejoin="round"/>
<path d="M272.2,146.4 v38.8" fill="none" stroke="#d7d9d7" stroke-width="5" stroke-linejoin="round"/>
<path d="M279.7,146.4 v38.8" fill="none" stroke="#d7d9d7" stroke-width="5" stroke-linejoin="round"/>
<path d="M285.9,267.9 h24.1" fill="none" stroke="#c9cbc9" stroke-width="3" stroke-linejoin="round"/>
<path d="M285.9,273.9 h24.1" fill="none" stroke="#c9cbc9" stroke-width="3" stroke-linejoin="round"/>
<path d="M-9.5,146.0 h56.1" fill="none" stroke="#c9cbc9" stroke-width="3" stroke-linejoin="round"/>
<path d="M348.1,159.0 v39.9 l-8.3,8.3 v19.9" fill="none" stroke="#c2c4c2" stroke-width="3" stroke-linejoin="round"/>
<path d="M354.1,159.0 v39.9 l-8.3,8.3 v19.9" fill="none" stroke="#c2c4c2" stroke-width="3" stroke-linejoin="round"/>
<path d="M108.9,50.6 v36.4" fill="none" stroke="#c2c4c2" stroke-width="5" stroke-linejoin="round"/>
<path d="M116.9,50.6 v36.4" fill="none" stroke="#c2c4c2" stroke-width="5" stroke-linejoin="round"/>
<path d="M288.0,195.7 h45.2" fill="none" stroke="#d7d9d7" stroke-width="3.5" stroke-linejoin="round"/>
<path d="M288.0,200.7 h45.2" fill="none" stroke="#d7d9d7" stroke-width="3.5" stroke-linejoin="round"/>
<path d="M288.0,205.7 h45.2" fill="none" stroke="#d7d9d7" stroke-width="3.5" stroke-linejoin="round"/>
<path d="M288.0,210.7 h45.2" fill="none" stroke="#d7d9d7" stroke-width="3.5" stroke-linejoin="round"/>
<path d="M5.5,84.2 h55.8" fill="none" stroke="#c2c4c2" stroke-width="3" stroke-linejoin="round"/>
<path d="M5.5,89.7 h55.8" fill="none" stroke="#c2c4c2" stroke-width="3" stroke-linejoin="round"/>
<path d="M5.5,95.2 h55.8" fill="none" stroke="#c2c4c2" stroke-width="3" stroke-linejoin="round"/>
<path d="M5.5,100.7 h55.8" fill="none" stroke="#c2c4c2" stroke-width="3" stroke-linejoin="round"/>
<path d="M74.7,327.5 h28.0 l8.4,-8.4 h14.0" fill="none" stroke="#d0d2d0" stroke-width="2.5" stroke-linejoin="round"/>
<path d="M74.7,331.5 h28.0 l8.4,-8.4 h14.0" fill="none" stroke="#d0d2d0" stroke-width="2.5" stroke-linejoin="round"/>
<path d="M74.7,335.5 h28.0 l8.4,-8.4 h14.0" fill="none" stroke="#d0d2d0" stroke-width="2.5" stroke-linejoin="round"/>
<path d="M307.2,303.7 v52.5" fill="none" stroke="#d7d9d7" stroke-width="3.5" stroke-linejoin="round"/>
<path d="M313.7,303.7 v52.5" fill="none" stroke="#d7d9d7" stroke-width="3.5" stroke-linejoin="round"/>
<path d="M320.2,303.7 v52.5" fill="none" stroke="#d7d9d7" stroke-width="3.5" stroke-linejoin="round"/>
<path d="M326.7,303.7 v52.5" fill="none" stroke="#d7d9d7" stroke-width="3.5" stroke-linejoin="round"/>
<path d="M266.2,88.8 v44.4" fill="none" stroke="#c9cbc9" stroke-width="2.5" stroke-linejoin="round"/>
<path d="M271.7,88.8 v44.4" fill="none" stroke="#c9cbc9" stroke-width="2.5" stroke-linejoin="round"/>
<path d="M277.2,88.8 v44.4" fill="none" stroke="#c9cbc9" stroke-width="2.5" stroke-linejoin="round"/>
<path d="M282.7,88.8 v44.4" fill="none" stroke="#c9cbc9" stroke-width="2.5" stroke-linejoin="round"/>
<path d="M1.4,271.4 v29.0" fill="none" stroke="#c9cbc9" stroke-width="3" stroke-linejoin="round"/>
<path d="M5.9,271.4 v29.0" fill="none" stroke="#c9cbc9" stroke-width="3" stroke-linejoin="round"/>
<path d="M10.4,271.4 v29.0" fill="none" stroke="#c9cbc9" stroke-width="3" stroke-linejoin="round"/>
<path d="M234.8,82.7 h18.7" fill="none" stroke="#d7d9d7" stroke-width="3" stroke-linejoin="round"/>
<path d="M234.8,87.2 h18.7" fill="none" stroke="#d7d9d7" stroke-width="3" stroke-linejoin="round"/>
<path d="M234.8,91.7 h18.7" fill="none" stroke="#d7d9d7" stroke-width="3" stroke-linejoin="round"/>
<path d="M234.8,96.2 h18.7" fill="none" stroke="#d7d9d7" stroke-width="3" stroke-linejoin="round"/>
<path d="M119.4,308.5 v35.9" fill="none" stroke="#d0d2d0" stroke-width="2.5" stroke-linejoin="round"/>
<path d="M302.7,199.4 h41.1" fill="none" stroke="#c2c4c2" stroke-width="3" stroke-linejoin="round"/>
<path d="M302.7,204.9 h41.1" fill="none" stroke="#c2c4c2" stroke-width="3" stroke-linejoin="round"/>
<path d="M217.4,222.3 h22.6" fill="none" stroke="#d7d9d7" stroke-width="2" stroke-linejoin="round"/>
<path d="M217.4,225.8 h22.6" fill="none" stroke="#d7d9d7" stroke-width="2" stroke-linejoin="round"/>
<path d="M217.4,229.3 h22.6" fill="none" stroke="#d7d9d7" stroke-width="2" stroke-linejoin="round"/>
<path d="M61.7,147.9 v18.3 l6.9,6.9 v9.1" fill="none" stroke="#c9cbc9" stroke-width="3.5" stroke-linejoin="round"/>
<path d="M68.2,147.9 v18.3 l6.9,6.9 v9.1" fill="none" stroke="#c9cbc9" stroke-width="3.5" stroke-linejoin="round"/>
<path d="M74.7,147.9 v18.3 l6.9,6.9 v9.1" fill="none" stroke="#c9cbc9" stroke-width="3.5" stroke-linejoin="round"/>
<path d="M216.4,281.9 v43.8" fill="none" stroke="#c2c4c2" stroke-width="2.5" stroke-linejoin="round"/>
<path d="M145.0,-1.4 h37.6" fill="none" stroke="#d7d9d7" stroke-width="2.5" stroke-linejoin="round"/>
<path d="M145.0,2.6 h37.6" fill="none" stroke="#d7d9d7" stroke-width="2.5" stroke-linejoin="round"/>
<path d="M312.6,330.1 v36.1 l11.1,11.1 v18.0" fill="none" stroke="#d7d9d7" stroke-width="3.5" stroke-linejoin="round"/>
<path d="M317.6,330.1 v36.1 l11.1,11.1 v18.0" fill="none" stroke="#d7d9d7" stroke-width="3.5" stroke-linejoin="round"/>
<path d="M211.0,312.3 v28.1" fill="none" stroke="#c2c4c2" stroke-width="2" stroke-linejoin="round"/>
<path d="M215.5,312.3 v28.1" fill="none" stroke="#c2c4c2" stroke-width="2" stroke-linejoin="round"/>
<path d="M220.0,312.3 v28.1" fill="none" stroke="#c2c4c2" stroke-width="2" stroke-linejoin="round"/>
<path d="M224.5,312.3 v28.1" fill="none" stroke="#c2c4c2" stroke-width="2" stroke-linejoin="round"/>
<path d="M84.3,-0.3 v43.4 l6.4,6.4 v21.7" fill="none" stroke="#d7d9d7" stroke-width="3.5" stroke-linejoin="round"/>
<path d="M90.8,-0.3 v43.4 l6.4,6.4 v21.7" fill="none" stroke="#d7d9d7" stroke-width="3.5" stroke-linejoin="round"/>
<path d="M97.3,-0.3 v43.4 l6.4,6.4 v21.7" fill="none" stroke="#d7d9d7" stroke-width="3.5" stroke-linejoin="round"/>
<path d="M103.8,-0.3 v43.4 l6.4,6.4 v21.7" fill="none" stroke="#d7d9d7" stroke-width="3.5" stroke-linejoin="round"/>
<path d="M259.3,103.8 v22.0" fill="none" stroke="#c9cbc9" stroke-width="3" stroke-linejoin="round"/>
<path d="M263.8,103.8 v22.0" fill="none" stroke="#c9cbc9" stroke-width="3" stroke-linejoin="round"/>
<path d="M268.3,103.8 v22.0" fill="none" stroke="#c9cbc9" stroke-width="3" stroke-linejoin="round"/>
<path d="M272.8,103.8 v22.0" fill="none" stroke="#c9cbc9" stroke-width="3" stroke-linejoin="round"/>
<path d="M279.4,278.3 h25.9" fill="none" stroke="#d0d2d0" stroke-width="5" stroke-linejoin="round"/>
<path d="M128.5,330.6 v54.6" fill="none" stroke="#d7d9d7" stroke-width="2" stroke-linejoin="round"/>
<path d="M133.0,330.6 v54.6" fill="none" stroke="#d7d9d7" stroke-width="2" stroke-linejoin="round"/>
<path d="M137.5,330.6 v54.6" fill="none" stroke="#d7d9d7" stroke-width="2" stroke-linejoin="round"/>
<path d="M250.5,65.1 v48.2" fill="none" stroke="#d0d2d0" stroke-width="5" stroke-linejoin="round"/>
<path d="M5.3,136.0 h53.8" fill="none" stroke="#c9cbc9" stroke-width="3.5" stroke-linejoin="round"/>
<path d="M5.3,141.0 h53.8" fill="none" stroke="#c9cbc9" stroke-width="3.5" stroke-linejoin="round"/>
<path d="M5.3,146.0 h53.8" fill="none" stroke="#c9cbc9" stroke-width="3.5" stroke-linejoin="round"/>
<path d="M5.3,151.0 h53.8" fill="none" stroke="#c9cbc9" stroke-width="3.5" stroke-linejoin="round"/>
<path d="M258.1,113.3 v43.8 l10.0,10.0 v21.9" fill="none" stroke="#d7d9d7" stroke-width="5" stroke-linejoin="round"/>
<path d="M265.6,113.3 v43.8 l10.0,10.0 v21.9" fill="none" stroke="#d7d9d7" stroke-width="5" stroke-linejoin="round"/>
<path d="M273.1,113.3 v43.8 l10.0,10.0 v21.9" fill="none" stroke="#d7d9d7" stroke-width="5" stroke-linejoin="round"/>
<path d="M-7.2,291.5 h45.0 l11.1,-11.1 h22.5" fill="none" stroke="#d7d9d7" stroke-width="2.5" stroke-linejoin="round"/>
<path d="M-7.2,295.5 h45.0 l11.1,-11.1 h22.5" fill="none" stroke="#d7d9d7" stroke-width="2.5" stroke-linejoin="round"/>
<path d="M52.4,327.0 v55.5 l-5.7,5.7 v27.7" fill="none" stroke="#c2c4c2" stroke-width="2.5" stroke-linejoin="round"/>
<path d="M57.4,327.0 v55.5 l-5.7,5.7 v27.7" fill="none" stroke="#c2c4c2" stroke-width="2.5" stroke-linejoin="round"/>
<path d="M62.4,327.0 v55.5 l-5.7,5.7 v27.7" fill="none" stroke="#c2c4c2" stroke-width="2.5" stroke-linejoin="round"/>
<path d="M338.7,156.7 v38.4 l-11.3,11.3 v19.2" fill="none" stroke="#d7d9d7" stroke-width="5" stroke-linejoin="round"/>
<path d="M345.2,156.7 v38.4 l-11.3,11.3 v19.2" fill="none" stroke="#d7d9d7" stroke-width="5" stroke-linejoin="round"/>
<path d="M351.7,156.7 v38.4 l-11.3,11.3 v19.2" fill="none" stroke="#d7d9d7" stroke-width="5" stroke-linejoin="round"/>
<path d="M358.2,156.7 v38.4 l-11.3,11.3 v19.2" fill="none" stroke="#d7d9d7" stroke-width="5" stroke-linejoin="round"/>
<path d="M292.6,193.2 h23.8 l6.7,-6.7 h11.9" fill="none" stroke="#c2c4c2" stroke-width="3" stroke-linejoin="round"/>
<path d="M292.6,197.7 h23.8 l6.7,-6.7 h11.9" fill="none" stroke="#c2c4c2" stroke-width="3" stroke-linejoin="round"/>
<path d="M92.3,99.6 h30.0" fill="none" stroke="#d7d9d7" stroke-width="3" stroke-linejoin="round"/>
<path d="M92.3,105.1 h30.0" fill="none" stroke="#d7d9d7" stroke-width="3" stroke-linejoin="round"/>
<path d="M92.3,110.6 h30.0" fill="none" stroke="#d7d9d7" stroke-width="3" stroke-linejoin="round"/>
<path d="M89.7,313.8 h23.1 l9.2,9.2 h11.5" fill="none" stroke="#c9cbc9" stroke-width="3.5" stroke-linejoin="round"/>
<path d="M89.7,320.3 h23.1 l9.2,9.2 h11.5" fill="none" stroke="#c9cbc9" stroke-width="3.5" stroke-linejoin="round"/>
<path d="M89.7,326.8 h23.1 l9.2,9.2 h11.5" fill="none" stroke="#c9cbc9" stroke-width="3.5" stroke-linejoin="round"/>
<path d="M74.8,337.7 v53.0" fill="none" stroke="#d7d9d7" stroke-width="5" stroke-linejoin="round"/>
<path d="M335.0,246.3 h25.8 l5.1,-5.1 h12.9" fill="none" stroke="#d7d9d7" stroke-width="3" stroke-linejoin="round"/>
<path d="M335.0,252.3 h25.8 l5.1,-5.1 h12.9" fill="none" stroke="#d7d9d7" stroke-width="3" stroke-linejoin="round"/>
<path d="M335.0,258.3 h25.8 l5.1,-5.1 h12.9" fill="none" stroke="#d7d9d7" stroke-width="3" stroke-linejoin="round"/>
<path d="M335.0,264.3 h25.8 l5.1,-5.1 h12.9" fill="none" stroke="#d7d9d7" stroke-width="3" stroke-linejoin="round"/>
<path d="M-3.5,252.5 v42.3" fill="none" stroke="#c2c4c2" stroke-width="2" stroke-linejoin="round"/>
<path d="M1.0,252.5 v42.3" fill="none" stroke="#c2c4c2" stroke-width="2" stroke-linejoin="round"/>
<path d="M116.3,65.5 h42.1" fill="none" stroke="#c2c4c2" stroke-width="5" stroke-linejoin="round"/>
<path d="M116.3,73.5 h42.1" fill="none" stroke="#c2c4c2" stroke-width="5" stroke-linejoin="round"/>
<path d="M116.3,81.5 h42.1" fill="none" stroke="#c2c4c2" stroke-width="5" stroke-linejoin="round"/>
<path d="M116.3,89.5 h42.1" fill="none" stroke="#c2c4c2" stroke-width="5" stroke-linejoin="round"/>
<path d="M206.2,0.4 v49.3 l5.6,5.6 v24.6" fill="none" stroke="#d0d2d0" stroke-width="5" stroke-linejoin="round"/>
<path d="M212.7,0.4 v49.3 l5.6,5.6 v24.6" fill="none" stroke="#d0d2d0" stroke-width="5" stroke-linejoin="round"/>
<path d="M91.9,8.7 v57.3" fill="none" stroke="#c9cbc9" stroke-width="3" stroke-linejoin="round"/>
<path d="M96.4,8.7 v57.3" fill="none" stroke="#c9cbc9" stroke-width="3" stroke-linejoin="round"/>
<path d="M-1.9,163.8 v46.4" fill="none" stroke="#d0d2d0" stroke-width="3.5" stroke-linejoin="round"/>
<path d="M4.1,163.8 v46.4" fill="none" stroke="#d0d2d0" stroke-width="3.5" stroke-linejoin="round"/>
<path d="M10.1,163.8 v46.4" fill="none" stroke="#d0d2d0" stroke-width="3.5" stroke-linejoin="round"/>
<path d="M16.1,163.8 v46.4" fill="none" stroke="#d0d2d0" stroke-width="3.5" stroke-linejoin="round"/>
<path d="M144.3,25.3 h52.1" fill="none" stroke="#c9cbc9" stroke-width="3" stroke-linejoin="round"/>
<path d="M144.3,29.8 h52.1" fill="none" stroke="#c9cbc9" stroke-width="3" stroke-linejoin="round"/>
<path d="M336.3,239.9 h42.0" fill="none" stroke="#d0d2d0" stroke-width="2" stroke-linejoin="round"/>
<path d="M243.4,112.6 h55.9" fill="none" stroke="#c9cbc9" stroke-width="5" stroke-linejoin="round"/>
<path d="M243.4,119.1 h55.9" fill="none" stroke="#c9cbc9" stroke-width="5" stroke-linejoin="round"/>
<path d="M61.1,276.7 v48.0" fill="none" stroke="#d0d2d0" stroke-width="3.5" stroke-linejoin="round"/>
<path d="M67.6,276.7 v48.0" fill="none" stroke="#d0d2d0" stroke-width="3.5" stroke-linejoin="round"/>
<path d="M74.1,276.7 v48.0" fill="none" stroke="#d0d2d0" stroke-width="3.5" stroke-linejoin="round"/>
<path d="M-4.7,228.5 h31.1 l5.3,-5.3 h15.5" fill="none" stroke="#c2c4c2" stroke-width="3.5" stroke-linejoin="round"/>
<path d="M-4.7,234.5 h31.1 l5.3,-5.3 h15.5" fill="none" stroke="#c2c4c2" stroke-width="3.5" stroke-linejoin="round"/>
<path d="M-4.7,240.5 h31.1 l5.3,-5.3 h15.5" fill="none" stroke="#c2c4c2" stroke-width="3.5" stroke-linejoin="round"/>
<path d="M-4.7,246.5 h31.1 l5.3,-5.3 h15.5" fill="none" stroke="#c2c4c2" stroke-width="3.5" stroke-linejoin="round"/>
<path d="M7.3,90.9 h41.4 l7.1,7.1 h20.7" fill="none" stroke="#c2c4c2" stroke-width="3" stroke-linejoin="round"/>
<path d="M7.3,95.4 h41.4 l7.1,7.1 h20.7" fill="none" stroke="#c2c4c2" stroke-width="3" stroke-linejoin="round"/>
<path d="M7.3,99.9 h41.4 l7.1,7.1 h20.7" fill="none" stroke="#c2c4c2" stroke-width="3" stroke-linejoin="round"/>
<path d="M7.3,104.4 h41.4 l7.1,7.1 h20.7" fill="none" stroke="#c2c4c2" stroke-width="3" stroke-linejoin="round"/>
<path d="M262.8,123.6 h32.9 l8.5,-8.5 h16.5" fill="none" stroke="#d7d9d7" stroke-width="3" stroke-linejoin="round"/>
<path d="M262.8,128.1 h32.9 l8.5,-8.5 h16.5" fill="none" stroke="#d7d9d7" stroke-width="3" stroke-linejoin="round"/>
<path d="M262.8,132.6 h32.9 l8.5,-8.5 h16.5" fill="none" stroke="#d7d9d7" stroke-width="3" stroke-linejoin="round"/>
<path d="M14.4,244.4 h28.4" fill="none" stroke="#d7d9d7" stroke-width="2.5" stroke-linejoin="round"/>
<path d="M14.4,249.9 h28.4" fill="none" stroke="#d7d9d7" stroke-width="2.5" stroke-linejoin="round"/>
<path d="M14.4,255.4 h28.4" fill="none" stroke="#d7d9d7" stroke-width="2.5" stroke-linejoin="round"/>
<path d="M14.4,260.9 h28.4" fill="none" stroke="#d7d9d7" stroke-width="2.5" stroke-linejoin="round"/>
<path d="M95.8,6.0 h18.4" fill="none" stroke="#d7d9d7" stroke-width="2.5" stroke-linejoin="round"/>
<path d="M95.8,11.5 h18.4" fill="none" stroke="#d7d9d7" stroke-width="2.5" stroke-linejoin="round"/>
<path d="M95.8,17.0 h18.4" fill="none" stroke="#d7d9d7" stroke-width="2.5" stroke-linejoin="round"/>
<path d="M185.3,147.4 v28.9" fill="none" stroke="#d0d2d0" stroke-width="3" stroke-linejoin="round"/>
<path d="M79.9,282.6 v51.1 l-10.3,10.3 v25.5" fill="none" stroke="#c9cbc9" stroke-width="3" stroke-linejoin="round"/>
<path d="M85.9,282.6 v51.1 l-10.3,10.3 v25.5" fill="none" stroke="#c9cbc9" stroke-width="3" stroke-linejoin="round"/>
<path d="M91.9,282.6 v51.1 l-10.3,10.3 v25.5" fill="none" stroke="#c9cbc9" stroke-width="3" stroke-linejoin="round"/>
<path d="M10.1,235.8 v53.3" fill="none" stroke="#d0d2d0" stroke-width="5" stroke-linejoin="round"/>
<path d="M17.6,235.8 v53.3" fill="none" stroke="#d0d2d0" stroke-width="5" stroke-linejoin="round"/>
<path d="M25.1,235.8 v53.3" fill="none" stroke="#d0d2d0" stroke-width="5" stroke-linejoin="round"/>
<path d="M32.6,235.8 v53.3" fill="none" stroke="#d0d2d0" stroke-width="5" stroke-linejoin="round"/>
<path d="M337.5,134.7 h32.4" fill="none" stroke="#d0d2d0" stroke-width="2.5" stroke-linejoin="round"/>
<path d="M337.5,138.7 h32.4" fill="none" stroke="#d0d2d0" stroke-width="2.5" stroke-linejoin="round"/>
<path d="M114.4,28.5 v23.5" fill="none" stroke="#d0d2d0" stroke-width="5" stroke-linejoin="round"/>
<path d="M121.9,28.5 v23.5" fill="none" stroke="#d0d2d0" stroke-width="5" stroke-linejoin="round"/>
<path d="M129.4,28.5 v23.5" fill="none" stroke="#d0d2d0" stroke-width="5" stroke-linejoin="round"/>
<path d="M136.9,28.5 v23.5" fill="none" stroke="#d0d2d0" stroke-width="5" stroke-linejoin="round"/>
<path d="M-3.0,146.4 h19.4 l8.9,-8.9 h9.7" fill="none" stroke="#d0d2d0" stroke-width="3" stroke-linejoin="round"/>
<path d="M169.2,297.6 h25.8 l10.0,10.0 h12.9" fill="none" stroke="#d7d9d7" stroke-width="3.5" stroke-linejoin="round"/>
<path d="M169.2,303.6 h25.8 l10.0,10.0 h12.9" fill="none" stroke="#d7d9d7" stroke-width="3.5" stroke-linejoin="round"/>
<path d="M323.7,310.1 v59.0" fill="none" stroke="#c9cbc9" stroke-width="2" stroke-linejoin="round"/>
<path d="M327.2,310.1 v59.0" fill="none" stroke="#c9cbc9" stroke-width="2" stroke-linejoin="round"/>
<path d="M330.7,310.1 v59.0" fill="none" stroke="#c9cbc9" stroke-width="2" stroke-linejoin="round"/>
<path d="M334.2,310.1 v59.0" fill="none" stroke="#c9cbc9" stroke-width="2" stroke-linejoin="round"/>
<path d="M291.1,277.0 h46.6" fill="none" stroke="#d0d2d0" stroke-width="5" stroke-linejoin="round"/>
<path d="M291.1,283.5 h46.6" fill="none" stroke="#d0d2d0" stroke-width="5" stroke-linejoin="round"/>
<path d="M210.7,254.1 h50.6 l8.8,-8.8 h25.3" fill="none" stroke="#c2c4c2" stroke-width="3.5" stroke-linejoin="round"/>
<path d="M27.0,126.9 h25.1" fill="none" stroke="#d7d9d7" stroke-width="3" stroke-linejoin="round"/>
<path d="M27.0,132.9 h25.1" fill="none" stroke="#d7d9d7" stroke-width="3" stroke-linejoin="round"/>
<path d="M27.0,138.9 h25.1" fill="none" stroke="#d7d9d7" stroke-width="3" stroke-linejoin="round"/>
<path d="M27.0,144.9 h25.1" fill="none" stroke="#d7d9d7" stroke-width="3" stroke-linejoin="round"/>
<path d="M304.3,120.4 h17.3" fill="none" stroke="#c2c4c2" stroke-width="3.5" stroke-linejoin="round"/>
<path d="M304.3,126.9 h17.3" fill="none" stroke="#c2c4c2" stroke-width="3.5" stroke-linejoin="round"/>
<path d="M304.3,133.4 h17.3" fill="none" stroke="#c2c4c2" stroke-width="3.5" stroke-linejoin="round"/>
<path d="M304.3,139.9 h17.3" fill="none" stroke="#c2c4c2" stroke-width="3.5" stroke-linejoin="round"/>
<path d="M286.3,62.0 v58.4" fill="none" stroke="#d7d9d7" stroke-width="2.5" stroke-linejoin="round"/>
<path d="M291.8,62.0 v58.4" fill="none" stroke="#d7d9d7" stroke-width="2.5" stroke-linejoin="round"/>
<path d="M297.3,62.0 v58.4" fill="none" stroke="#d7d9d7" stroke-width="2.5" stroke-linejoin="round"/>
<path d="M213.9,285.5 v36.9" fill="none" stroke="#d7d9d7" stroke-width="5" stroke-linejoin="round"/>
<path d="M220.4,285.5 v36.9" fill="none" stroke="#d7d9d7" stroke-width="5" stroke-linejoin="round"/>
<path d="M226.9,285.5 v36.9" fill="none" stroke="#d7d9d7" stroke-width="5" stroke-linejoin="round"/>
<path d="M18.4,344.2 v59.4 l-8.6,8.6 v29.7" fill="none" stroke="#d0d2d0" stroke-width="5" stroke-linejoin="round"/>
<path d="M24.9,344.2 v59.4 l-8.6,8.6 v29.7" fill="none" stroke="#d0d2d0" stroke-width="5" stroke-linejoin="round"/>
<path d="M31.4,344.2 v59.4 l-8.6,8.6 v29.7" fill="none" stroke="#d0d2d0" stroke-width="5" stroke-linejoin="round"/>
<path d="M64.8,306.6 h24.7" fill="none" stroke="#c9cbc9" stroke-width="2.5" stroke-linejoin="round"/>
<path d="M92.5,331.3 h59.4 l7.6,7.6 h29.7" fill="none" stroke="#d0d2d0" stroke-width="2.5" stroke-linejoin="round"/>
<path d="M3.4,230.2 h32.9 l5.6,5.6 h16.5" fill="none" stroke="#c9cbc9" stroke-width="2" stroke-linejoin="round"/>
<path d="M208.1,5.1 h35.8" fill="none" stroke="#c9cbc9" stroke-width="2.5" stroke-linejoin="round"/>
<path d="M208.1,10.1 h35.8" fill="none" stroke="#c9cbc9" stroke-width="2.5" stroke-linejoin="round"/>
<path d="M208.1,15.1 h35.8" fill="none" stroke="#c9cbc9" stroke-width="2.5" stroke-linejoin="round"/>
<path d="M208.1,20.1 h35.8" fill="none" stroke="#c9cbc9" stroke-width="2.5" stroke-linejoin="round"/>
<rect x="103.7" y="9.0" width="11.3" height="8.9" fill="#e4e6e4" stroke="#d7d9d7" stroke-width="2"/>
<rect x="256.5" y="137.7" width="11.8" height="7.9" fill="#e4e6e4" stroke="#d0d2d0" stroke-width="2"/>
<rect x="17.5" y="102.6" width="13.2" height="6.8" fill="#e4e6e4" stroke="#c2c4c2" stroke-width="2"/>
<rect x="39.8" y="340.5" width="10.6" height="6.0" fill="#e4e6e4" stroke="#c9cbc9" stroke-width="2"/>
<rect x="256.0" y="220.8" width="12.2" height="5.3" fill="#e4e6e4" stroke="#c2c4c2" stroke-width="2"/>
<rect x="317.2" y="224.0" width="6.6" height="6.6" fill="#e4e6e4" stroke="#d0d2d0" stroke-width="2"/>
<rect x="351.6" y="101.4" width="11.8" height="5.8" fill="#e4e6e4" stroke="#c9cbc9" stroke-width="2"/>
<rect x="38.0" y="61.3" width="8.7" height="9.1" fill="#e4e6e4" stroke="#d7d9d7" stroke-width="2"/>
<rect x="81.1" y="205.7" width="8.5" height="8.3" fill="#e4e6e4" stroke="#d0d2d0" stroke-width="2"/>
<rect x="14.9" y="206.8" width="9.5" height="4.7" fill="#e4e6e4" stroke="#d0d2d0" stroke-width="2"/>
<rect x="50.0" y="321.6" width="5.3" height="9.0" fill="#e4e6e4" stroke="#d0d2d0" stroke-width="2"/>
<rect x="240.9" y="77.7" width="9.6" height="4.4" fill="#e4e6e4" stroke="#c9cbc9" stroke-width="2"/>
<rect x="264.0" y="238.1" width="10.7" height="5.5" fill="#e4e6e4" stroke="#d0d2d0" stroke-width="2"/>
<rect x="3.9" y="122.8" width="9.0" height="5.1" fill="#e4e6e4" stroke="#c9cbc9" stroke-width="2"/>
<rect x="69.2" y="241.7" width="12.4" height="6.5" fill="#e4e6e4" stroke="#c9cbc9" stroke-width="2"/>
<rect x="193.0" y="22.3" width="7.1" height="6.7" fill="#e4e6e4" stroke="#c2c4c2" stroke-width="2"/>
<rect x="189.5" y="343.8" width="5.4" height="7.4" fill="#e4e6e4" stroke="#c2c4c2" stroke-width="2"/>
<rect x="239.9" y="278.7" width="11.7" height="9.9" fill="#e4e6e4" stroke="#d7d9d7" stroke-width="2"/>
<rect x="143.4" y="17.1" width="8.6" height="9.5" fill="#e4e6e4" stroke="#d7d9d7" stroke-width="2"/>
<rect x="239.2" y="127.2" width="6.7" height="9.7" fill="#e4e6e4" stroke="#d0d2d0" stroke-width="2"/>
<rect x="151.8" y="8.3" width="10.0" height="7.6" fill="#e4e6e4" stroke="#c9cbc9" stroke-width="2"/>
<rect x="5.6" y="84.0" width="11.9" height="5.4" fill="#e4e6e4" stroke="#d0d2d0" stroke-width="2"/>
<rect x="239.7" y="303.7" width="6.0" height="9.5" fill="#e4e6e4" stroke="#c9cbc9" stroke-width="2"/>
<rect x="77.5" y="145.6" width="5.6" height="6.9" fill="#e4e6e4" stroke="#c2c4c2" stroke-width="2"/>
<rect x="31.1" y="244.0" width="5.6" height="5.1" fill="#e4e6e4" stroke="#c2c4c2" stroke-width="2"/>
<rect x="128.0" y="282.0" width="5.1" height="6.5" fill="#e4e6e4" stroke="#d7d9d7" stroke-width="2"/>
<rect x="158.6" y="32.7" width="9.5" height="4.0" fill="#e4e6e4" stroke="#d0d2d0" stroke-width="2"/>
<rect x="262.8" y="141.8" width="11.9" height="5.6" fill="#e4e6e4" stroke="#c2c4c2" stroke-width="2"/>
<rect x="314.7" y="99.0" width="6.1" height="8.1" fill="#e4e6e4" stroke="#d0d2d0" stroke-width="2"/>
<rect x="231.6" y="16.0" width="7.4" height="8.3" fill="#e4e6e4" stroke="#d7d9d7" stroke-width="2"/>
<rect x="167.7" y="158.9" width="12.1" height="9.8" fill="#e4e6e4" stroke="#d7d9d7" stroke-width="2"/>
<rect x="65.3" y="338.6" width="5.3" height="4.5" fill="#e4e6e4" stroke="#d0d2d0" stroke-width="2"/>
<rect x="181.0" y="340.6" width="7.2" height="5.7" fill="#e4e6e4" stroke="#d7d9d7" stroke-width="2"/>
<rect x="263.2" y="289.1" width="12.1" height="7.6" fill="#e4e6e4" stroke="#c2c4c2" stroke-width="2"/>
<rect x="164.2" y="321.3" width="8.9" height="9.5" fill="#e4e6e4" stroke="#c9cbc9" stroke-width="2"/>
<rect x="115.4" y="311.9" width="6.7" height="6.5" fill="#e4e6e4" stroke="#c9cbc9" stroke-width="2"/>
<rect x="320.2" y="194.1" width="9.7" height="5.6" fill="#e4e6e4" stroke="#d0d2d0" stroke-width="2"/>
<rect x="141.0" y="282.5" width="11.8" height="7.1" fill="#e4e6e4" stroke="#c9cbc9" stroke-width="2"/>
<rect x="307.7" y="299.7" width="13.8" height="7.4" fill="#e4e6e4" stroke="#c9cbc9" stroke-width="2"/>
<rect x="288.9" y="109.5" width="12.5" height="8.0" fill="#e4e6e4" stroke="#c2c4c2" stroke-width="2"/>
<rect x="213.9" y="85.2" width="8.7" height="8.3" fill="#e4e6e4" stroke="#c9cbc9" stroke-width="2"/>
<rect x="130.8" y="223.2" width="12.0" height="5.3" fill="#e4e6e4" stroke="#c9cbc9" stroke-width="2"/>
<rect x="348.9" y="244.8" width="11.7" height="7.5" fill="#e4e6e4" stroke="#c9cbc9" stroke-width="2"/>
<rect x="304.5" y="100.6" width="7.3" height="8.5" fill="#e4e6e4" stroke="#d0d2d0" stroke-width="2"/>
<rect x="292.5" y="262.7" width="12.0" height="9.8" fill="#e4e6e4" stroke="#c2c4c2" stroke-width="2"/>
<rect x="24.9" y="339.9" width="12.8" height="6.5" fill="#e4e6e4" stroke="#d7d9d7" stroke-width="2"/>
<rect x="176.7" y="109.0" width="9.0" height="5.8" fill="#e4e6e4" stroke="#c2c4c2" stroke-width="2"/>
<rect x="251.4" y="228.2" width="8.5" height="8.3" fill="#e4e6e4" stroke="#c9cbc9" stroke-width="2"/>
<rect x="143.9" y="158.9" width="12.9" height="6.0" fill="#e4e6e4" stroke="#c2c4c2" stroke-width="2"/>
<circle cx="191.4" cy="307.5" r="2.4" fill="#f7f8f7" stroke="#b2b4b2" stroke-width="1.6"/>
<circle cx="198.2" cy="307.5" r="2.4" fill="#f7f8f7" stroke="#b2b4b2" stroke-width="1.6"/>
<circle cx="204.9" cy="307.5" r="2.4" fill="#f7f8f7" stroke="#b2b4b2" stroke-width="1.6"/>
<circle cx="238.0" cy="100.9" r="2.4" fill="#f7f8f7" stroke="#b2b4b2" stroke-width="1.6"/>
<circle cx="238.0" cy="107.3" r="2.4" fill="#f7f8f7" stroke="#b2b4b2" stroke-width="1.6"/>
<circle cx="67.4" cy="291.9" r="3.2" fill="#f7f8f7" stroke="#b2b4b2" stroke-width="1.6"/>
<circle cx="295.0" cy="323.0" r="2.8" fill="#f7f8f7" stroke="#b2b4b2" stroke-width="1.6"/>
<circle cx="300.4" cy="130.3" r="2.0" fill="#f7f8f7" stroke="#b2b4b2" stroke-width="1.6"/>
<circle cx="300.4" cy="136.6" r="2.0" fill="#f7f8f7" stroke="#b2b4b2" stroke-width="1.6"/>
<circle cx="281.6" cy="266.0" r="3.2" fill="#f7f8f7" stroke="#b2b4b2" stroke-width="1.6"/>
<circle cx="281.6" cy="274.4" r="3.2" fill="#f7f8f7" stroke="#b2b4b2" stroke-width="1.6"/>
<circle cx="190.1" cy="26.3" r="2.8" fill="#f7f8f7" stroke="#b2b4b2" stroke-width="1.6"/>
<circle cx="239.0" cy="186.9" r="2.4" fill="#f7f8f7" stroke="#b2b4b2" stroke-width="1.6"/>
<circle cx="159.8" cy="140.9" r="3.2" fill="#f7f8f7" stroke="#b2b4b2" stroke-width="1.6"/>
<circle cx="151.3" cy="310.0" r="2.4" fill="#f7f8f7" stroke="#b2b4b2" stroke-width="1.6"/>
<circle cx="92.8" cy="40.3" r="2.8" fill="#f7f8f7" stroke="#b2b4b2" stroke-width="1.6"/>
<circle cx="100.3" cy="40.3" r="2.8" fill="#f7f8f7" stroke="#b2b4b2" stroke-width="1.6"/>
<circle cx="64.8" cy="306.4" r="2.8" fill="#f7f8f7" stroke="#b2b4b2" stroke-width="1.6"/>
<circle cx="73.2" cy="306.4" r="2.8" fill="#f7f8f7" stroke="#b2b4b2" stroke-width="1.6"/>
<circle cx="79.4" cy="325.4" r="2.8" fill="#f7f8f7" stroke="#b2b4b2" stroke-width="1.6"/>
<circle cx="79.4" cy="333.8" r="2.8" fill="#f7f8f7" stroke="#b2b4b2" stroke-width="1.6"/>
<circle cx="102.8" cy="34.2" r="2.0" fill="#f7f8f7" stroke="#b2b4b2" stroke-width="1.6"/>
<circle cx="108.7" cy="34.2" r="2.0" fill="#f7f8f7" stroke="#b2b4b2" stroke-width="1.6"/>
<circle cx="219.0" cy="119.9" r="2.4" fill="#f7f8f7" stroke="#b2b4b2" stroke-width="1.6"/>
<circle cx="219.0" cy="126.3" r="2.4" fill="#f7f8f7" stroke="#b2b4b2" stroke-width="1.6"/>
<circle cx="219.0" cy="132.6" r="2.4" fill="#f7f8f7" stroke="#b2b4b2" stroke-width="1.6"/>
<circle cx="219.0" cy="139.0" r="2.4" fill="#f7f8f7" stroke="#b2b4b2" stroke-width="1.6"/>
<circle cx="23.0" cy="325.2" r="2.8" fill="#f7f8f7" stroke="#b2b4b2" stroke-width="1.6"/>
<circle cx="200.4" cy="27.2" r="2.4" fill="#f7f8f7" stroke="#b2b4b2" stroke-width="1.6"/>
<circle cx="207.3" cy="27.2" r="2.4" fill="#f7f8f7" stroke="#b2b4b2" stroke-width="1.6"/>
<circle cx="214.2" cy="27.2" r="2.4" fill="#f7f8f7" stroke="#b2b4b2" stroke-width="1.6"/>
<circle cx="221.0" cy="27.2" r="2.4" fill="#f7f8f7" stroke="#b2b4b2" stroke-width="1.6"/>
<circle cx="187.4" cy="33.6" r="2.8" fill="#f7f8f7" stroke="#b2b4b2" stroke-width="1.6"/>
<circle cx="312.5" cy="269.4" r="2.8" fill="#f7f8f7" stroke="#b2b4b2" stroke-width="1.6"/>
<circle cx="81.6" cy="295.3" r="3.2" fill="#f7f8f7" stroke="#b2b4b2" stroke-width="1.6"/>
<circle cx="47.1" cy="76.0" r="2.4" fill="#f7f8f7" stroke="#b2b4b2" stroke-width="1.6"/>
<circle cx="54.5" cy="76.0" r="2.4" fill="#f7f8f7" stroke="#b2b4b2" stroke-width="1.6"/>
<circle cx="222.8" cy="239.8" r="2.0" fill="#f7f8f7" stroke="#b2b4b2" stroke-width="1.6"/>
<circle cx="222.8" cy="246.6" r="2.0" fill="#f7f8f7" stroke="#b2b4b2" stroke-width="1.6"/>
<circle cx="222.8" cy="253.5" r="2.0" fill="#f7f8f7" stroke="#b2b4b2" stroke-width="1.6"/>
<circle cx="222.8" cy="260.3" r="2.0" fill="#f7f8f7" stroke="#b2b4b2" stroke-width="1.6"/>
<circle cx="222.8" cy="267.1" r="2.0" fill="#f7f8f7" stroke="#b2b4b2" stroke-width="1.6"/>
<circle cx="172.6" cy="335.9" r="3.2" fill="#f7f8f7" stroke="#b2b4b2" stroke-width="1.6"/>
<circle cx="181.8" cy="335.9" r="3.2" fill="#f7f8f7" stroke="#b2b4b2" stroke-width="1.6"/>
<circle cx="190.9" cy="335.9" r="3.2" fill="#f7f8f7" stroke="#b2b4b2" stroke-width="1.6"/>
<circle cx="200.1" cy="335.9" r="3.2" fill="#f7f8f7" stroke="#b2b4b2" stroke-width="1.6"/>
<circle cx="28.5" cy="257.4" r="2.8" fill="#f7f8f7" stroke="#b2b4b2" stroke-width="1.6"/>
<circle cx="192.9" cy="232.6" r="3.2" fill="#f7f8f7" stroke="#b2b4b2" stroke-width="1.6"/>
<circle cx="14.1" cy="298.4" r="2.4" fill="#f7f8f7" stroke="#b2b4b2" stroke-width="1.6"/>
<circle cx="39.2" cy="130.4" r="2.4" fill="#f7f8f7" stroke="#b2b4b2" stroke-width="1.6"/>
<circle cx="46.0" cy="130.4" r="2.4" fill="#f7f8f7" stroke="#b2b4b2" stroke-width="1.6"/>
<circle cx="52.8" cy="130.4" r="2.4" fill="#f7f8f7" stroke="#b2b4b2" stroke-width="1.6"/>
<circle cx="59.6" cy="130.4" r="2.4" fill="#f7f8f7" stroke="#b2b4b2" stroke-width="1.6"/>
<circle cx="66.4" cy="130.4" r="2.4" fill="#f7f8f7" stroke="#b2b4b2" stroke-width="1.6"/>
<circle cx="316.4" cy="311.6" r="2.0" fill="#f7f8f7" stroke="#b2b4b2" stroke-width="1.6"/>
<circle cx="316.4" cy="317.7" r="2.0" fill="#f7f8f7" stroke="#b2b4b2" stroke-width="1.6"/>
<circle cx="249.7" cy="61.8" r="3.2" fill="#f7f8f7" stroke="#b2b4b2" stroke-width="1.6"/>
<circle cx="249.7" cy="69.9" r="3.2" fill="#f7f8f7" stroke="#b2b4b2" stroke-width="1.6"/>
<circle cx="61.4" cy="4.7" r="2.4" fill="#f7f8f7" stroke="#b2b4b2" stroke-width="1.6"/>
<circle cx="68.6" cy="4.7" r="2.4" fill="#f7f8f7" stroke="#b2b4b2" stroke-width="1.6"/>
<circle cx="304.5" cy="277.3" r="2.8" fill="#f7f8f7" stroke="#b2b4b2" stroke-width="1.6"/>
<circle cx="312.5" cy="277.3" r="2.8" fill="#f7f8f7" stroke="#b2b4b2" stroke-width="1.6"/>
<circle cx="320.6" cy="277.3" r="2.8" fill="#f7f8f7" stroke="#b2b4b2" stroke-width="1.6"/>
<circle cx="125.9" cy="181.3" r="2.4" fill="#f7f8f7" stroke="#b2b4b2" stroke-width="1.6"/>
<circle cx="132.9" cy="181.3" r="2.4" fill="#f7f8f7" stroke="#b2b4b2" stroke-width="1.6"/>
<circle cx="139.9" cy="181.3" r="2.4" fill="#f7f8f7" stroke="#b2b4b2" stroke-width="1.6"/>
<circle cx="146.9" cy="181.3" r="2.4" fill="#f7f8f7" stroke="#b2b4b2" stroke-width="1.6"/>
<circle cx="153.9" cy="181.3" r="2.4" fill="#f7f8f7" stroke="#b2b4b2" stroke-width="1.6"/>
<circle cx="29.9" cy="320.5" r="2.0" fill="#f7f8f7" stroke="#b2b4b2" stroke-width="1.6"/>
<circle cx="79.9" cy="8.0" r="2.0" fill="#f7f8f7" stroke="#b2b4b2" stroke-width="1.6"/>
<circle cx="79.9" cy="14.9" r="2.0" fill="#f7f8f7" stroke="#b2b4b2" stroke-width="1.6"/>
<circle cx="79.9" cy="21.9" r="2.0" fill="#f7f8f7" stroke="#b2b4b2" stroke-width="1.6"/>
<circle cx="79.9" cy="28.9" r="2.0" fill="#f7f8f7" stroke="#b2b4b2" stroke-width="1.6"/>
<circle cx="79.9" cy="35.9" r="2.0" fill="#f7f8f7" stroke="#b2b4b2" stroke-width="1.6"/>
<circle cx="204.3" cy="76.0" r="2.0" fill="#f7f8f7" stroke="#b2b4b2" stroke-width="1.6"/>
<circle cx="119.0" cy="53.8" r="2.8" fill="#f7f8f7" stroke="#b2b4b2" stroke-width="1.6"/>
<circle cx="257.9" cy="245.5" r="2.4" fill="#f7f8f7" stroke="#b2b4b2" stroke-width="1.6"/>
<circle cx="257.9" cy="252.7" r="2.4" fill="#f7f8f7" stroke="#b2b4b2" stroke-width="1.6"/>
<circle cx="74.7" cy="36.9" r="3.2" fill="#f7f8f7" stroke="#b2b4b2" stroke-width="1.6"/>
<circle cx="74.7" cy="45.6" r="3.2" fill="#f7f8f7" stroke="#b2b4b2" stroke-width="1.6"/>
<circle cx="74.7" cy="54.2" r="3.2" fill="#f7f8f7" stroke="#b2b4b2" stroke-width="1.6"/>
<circle cx="314.5" cy="140.6" r="2.8" fill="#f7f8f7" stroke="#b2b4b2" stroke-width="1.6"/>
<circle cx="314.5" cy="148.5" r="2.8" fill="#f7f8f7" stroke="#b2b4b2" stroke-width="1.6"/>
<circle cx="314.5" cy="156.4" r="2.8" fill="#f7f8f7" stroke="#b2b4b2" stroke-width="1.6"/>
<circle cx="314.5" cy="164.3" r="2.8" fill="#f7f8f7" stroke="#b2b4b2" stroke-width="1.6"/>
<circle cx="17.6" cy="77.4" r="2.8" fill="#f7f8f7" stroke="#b2b4b2" stroke-width="1.6"/>
<circle cx="80.6" cy="285.3" r="2.0" fill="#f7f8f7" stroke="#b2b4b2" stroke-width="1.6"/>
<circle cx="86.9" cy="285.3" r="2.0" fill="#f7f8f7" stroke="#b2b4b2" stroke-width="1.6"/>
<circle cx="93.2" cy="285.3" r="2.0" fill="#f7f8f7" stroke="#b2b4b2" stroke-width="1.6"/>
<circle cx="99.5" cy="285.3" r="2.0" fill="#f7f8f7" stroke="#b2b4b2" stroke-width="1.6"/>
<circle cx="219.1" cy="8.9" r="3.2" fill="#f7f8f7" stroke="#b2b4b2" stroke-width="1.6"/>
<circle cx="227.6" cy="8.9" r="3.2" fill="#f7f8f7" stroke="#b2b4b2" stroke-width="1.6"/>
<circle cx="236.1" cy="8.9" r="3.2" fill="#f7f8f7" stroke="#b2b4b2" stroke-width="1.6"/>
<circle cx="244.6" cy="8.9" r="3.2" fill="#f7f8f7" stroke="#b2b4b2" stroke-width="1.6"/>
<circle cx="253.1" cy="8.9" r="3.2" fill="#f7f8f7" stroke="#b2b4b2" stroke-width="1.6"/>
<circle cx="223.1" cy="15.2" r="2.0" fill="#f7f8f7" stroke="#b2b4b2" stroke-width="1.6"/>
<circle cx="230.0" cy="15.2" r="2.0" fill="#f7f8f7" stroke="#b2b4b2" stroke-width="1.6"/>
<circle cx="236.9" cy="15.2" r="2.0" fill="#f7f8f7" stroke="#b2b4b2" stroke-width="1.6"/>
<circle cx="152.4" cy="109.0" r="2.8" fill="#f7f8f7" stroke="#b2b4b2" stroke-width="1.6"/>
<circle cx="152.4" cy="116.2" r="2.8" fill="#f7f8f7" stroke="#b2b4b2" stroke-width="1.6"/>
<circle cx="237.7" cy="133.0" r="2.8" fill="#f7f8f7" stroke="#b2b4b2" stroke-width="1.6"/>
<circle cx="237.7" cy="140.2" r="2.8" fill="#f7f8f7" stroke="#b2b4b2" stroke-width="1.6"/>
<circle cx="237.7" cy="147.4" r="2.8" fill="#f7f8f7" stroke="#b2b4b2" stroke-width="1.6"/>
<circle cx="237.7" cy="154.6" r="2.8" fill="#f7f8f7" stroke="#b2b4b2" stroke-width="1.6"/>
<circle cx="237.7" cy="161.9" r="2.8" fill="#f7f8f7" stroke="#b2b4b2" stroke-width="1.6"/>
<circle cx="351.4" cy="162.5" r="2.8" fill="#f7f8f7" stroke="#b2b4b2" stroke-width="1.6"/>
<circle cx="358.7" cy="162.5" r="2.8" fill="#f7f8f7" stroke="#b2b4b2" stroke-width="1.6"/>
<circle cx="366.0" cy="162.5" r="2.8" fill="#f7f8f7" stroke="#b2b4b2" stroke-width="1.6"/>
<circle cx="314.5" cy="142.8" r="2.0" fill="#f7f8f7" stroke="#b2b4b2" stroke-width="1.6"/>
<circle cx="314.5" cy="148.9" r="2.0" fill="#f7f8f7" stroke="#b2b4b2" stroke-width="1.6"/>
<circle cx="314.5" cy="154.9" r="2.0" fill="#f7f8f7" stroke="#b2b4b2" stroke-width="1.6"/>
<circle cx="187.3" cy="68.3" r="2.4" fill="#f7f8f7" stroke="#b2b4b2" stroke-width="1.6"/>
<circle cx="194.1" cy="68.3" r="2.4" fill="#f7f8f7" stroke="#b2b4b2" stroke-width="1.6"/>
<circle cx="201.0" cy="68.3" r="2.4" fill="#f7f8f7" stroke="#b2b4b2" stroke-width="1.6"/>
<circle cx="207.8" cy="68.3" r="2.4" fill="#f7f8f7" stroke="#b2b4b2" stroke-width="1.6"/>
<circle cx="214.7" cy="68.3" r="2.4" fill="#f7f8f7" stroke="#b2b4b2" stroke-width="1.6"/>
<circle cx="136.7" cy="266.6" r="2.4" fill="#f7f8f7" stroke="#b2b4b2" stroke-width="1.6"/>
<circle cx="136.7" cy="272.9" r="2.4" fill="#f7f8f7" stroke="#b2b4b2" stroke-width="1.6"/>
<circle cx="136.7" cy="279.3" r="2.4" fill="#f7f8f7" stroke="#b2b4b2" stroke-width="1.6"/>
<circle cx="136.7" cy="285.6" r="2.4" fill="#f7f8f7" stroke="#b2b4b2" stroke-width="1.6"/>
<circle cx="136.7" cy="291.9" r="2.4" fill="#f7f8f7" stroke="#b2b4b2" stroke-width="1.6"/>
<circle cx="53.9" cy="313.6" r="2.8" fill="#f7f8f7" stroke="#b2b4b2" stroke-width="1.6"/>
<circle cx="61.5" cy="313.6" r="2.8" fill="#f7f8f7" stroke="#b2b4b2" stroke-width="1.6"/>
<circle cx="69.1" cy="313.6" r="2.8" fill="#f7f8f7" stroke="#b2b4b2" stroke-width="1.6"/>
<circle cx="76.7" cy="313.6" r="2.8" fill="#f7f8f7" stroke="#b2b4b2" stroke-width="1.6"/>
<circle cx="21.9" cy="321.5" r="2.4" fill="#f7f8f7" stroke="#b2b4b2" stroke-width="1.6"/>
<circle cx="21.9" cy="328.0" r="2.4" fill="#f7f8f7" stroke="#b2b4b2" stroke-width="1.6"/>
<circle cx="21.9" cy="334.5" r="2.4" fill="#f7f8f7" stroke="#b2b4b2" stroke-width="1.6"/>
<circle cx="21.9" cy="340.9" r="2.4" fill="#f7f8f7" stroke="#b2b4b2" stroke-width="1.6"/>
<circle cx="91.8" cy="57.1" r="2.8" fill="#f7f8f7" stroke="#b2b4b2" stroke-width="1.6"/>
<circle cx="125.9" cy="55.5" r="2.4" fill="#f7f8f7" stroke="#b2b4b2" stroke-width="1.6"/>
<circle cx="132.6" cy="55.5" r="2.4" fill="#f7f8f7" stroke="#b2b4b2" stroke-width="1.6"/>
<circle cx="139.2" cy="55.5" r="2.4" fill="#f7f8f7" stroke="#b2b4b2" stroke-width="1.6"/>
<circle cx="178.5" cy="35.1" r="2.8" fill="#f7f8f7" stroke="#b2b4b2" stroke-width="1.6"/>
<circle cx="178.5" cy="42.8" r="2.8" fill="#f7f8f7" stroke="#b2b4b2" stroke-width="1.6"/>
<circle cx="178.5" cy="50.5" r="2.8" fill="#f7f8f7" stroke="#b2b4b2" stroke-width="1.6"/>
<circle cx="178.5" cy="58.1" r="2.8" fill="#f7f8f7" stroke="#b2b4b2" stroke-width="1.6"/>
<circle cx="172.7" cy="0.4" r="3.2" fill="#f7f8f7" stroke="#b2b4b2" stroke-width="1.6"/>
<circle cx="180.9" cy="0.4" r="3.2" fill="#f7f8f7" stroke="#b2b4b2" stroke-width="1.6"/>
<circle cx="189.2" cy="0.4" r="3.2" fill="#f7f8f7" stroke="#b2b4b2" stroke-width="1.6"/>
<circle cx="197.4" cy="0.4" r="3.2" fill="#f7f8f7" stroke="#b2b4b2" stroke-width="1.6"/>
<circle cx="205.7" cy="0.4" r="3.2" fill="#f7f8f7" stroke="#b2b4b2" stroke-width="1.6"/>
<circle cx="194.1" cy="23.1" r="2.0" fill="#f7f8f7" stroke="#b2b4b2" stroke-width="1.6"/>
<circle cx="254.3" cy="231.5" r="2.0" fill="#f7f8f7" stroke="#b2b4b2" stroke-width="1.6"/>
<circle cx="260.5" cy="231.5" r="2.0" fill="#f7f8f7" stroke="#b2b4b2" stroke-width="1.6"/>
<circle cx="266.7" cy="231.5" r="2.0" fill="#f7f8f7" stroke="#b2b4b2" stroke-width="1.6"/>
<circle cx="273.0" cy="231.5" r="2.0" fill="#f7f8f7" stroke="#b2b4b2" stroke-width="1.6"/>
<circle cx="279.2" cy="231.5" r="2.0" fill="#f7f8f7" stroke="#b2b4b2" stroke-width="1.6"/>
<circle cx="30.1" cy="174.2" r="3.2" fill="#f7f8f7" stroke="#b2b4b2" stroke-width="1.6"/>
<circle cx="107.6" cy="276.6" r="2.8" fill="#f7f8f7" stroke="#b2b4b2" stroke-width="1.6"/>
<circle cx="155.3" cy="314.0" r="2.8" fill="#f7f8f7" stroke="#b2b4b2" stroke-width="1.6"/>
<circle cx="155.3" cy="321.1" r="2.8" fill="#f7f8f7" stroke="#b2b4b2" stroke-width="1.6"/>
<circle cx="155.3" cy="328.3" r="2.8" fill="#f7f8f7" stroke="#b2b4b2" stroke-width="1.6"/>
<circle cx="155.3" cy="335.5" r="2.8" fill="#f7f8f7" stroke="#b2b4b2" stroke-width="1.6"/>
<circle cx="32.7" cy="290.9" r="2.8" fill="#f7f8f7" stroke="#b2b4b2" stroke-width="1.6"/>
<circle cx="32.7" cy="298.2" r="2.8" fill="#f7f8f7" stroke="#b2b4b2" stroke-width="1.6"/>
<circle cx="200.6" cy="97.7" r="2.4" fill="#f7f8f7" stroke="#b2b4b2" stroke-width="1.6"/>
<circle cx="200.6" cy="105.3" r="2.4" fill="#f7f8f7" stroke="#b2b4b2" stroke-width="1.6"/>
<circle cx="200.6" cy="112.9" r="2.4" fill="#f7f8f7" stroke="#b2b4b2" stroke-width="1.6"/>
<circle cx="200.6" cy="120.5" r="2.4" fill="#f7f8f7" stroke="#b2b4b2" stroke-width="1.6"/>
<circle cx="271.9" cy="73.8" r="3.2" fill="#f7f8f7" stroke="#b2b4b2" stroke-width="1.6"/>
<circle cx="280.8" cy="73.8" r="3.2" fill="#f7f8f7" stroke="#b2b4b2" stroke-width="1.6"/>
<circle cx="289.7" cy="73.8" r="3.2" fill="#f7f8f7" stroke="#b2b4b2" stroke-width="1.6"/>
<circle cx="273.9" cy="101.7" r="2.4" fill="#f7f8f7" stroke="#b2b4b2" stroke-width="1.6"/>
<circle cx="326.9" cy="267.6" r="2.4" fill="#f7f8f7" stroke="#b2b4b2" stroke-width="1.6"/>
<circle cx="292.7" cy="126.6" r="2.8" fill="#f7f8f7" stroke="#b2b4b2" stroke-width="1.6"/>
<circle cx="300.2" cy="126.6" r="2.8" fill="#f7f8f7" stroke="#b2b4b2" stroke-width="1.6"/>
<circle cx="307.7" cy="126.6" r="2.8" fill="#f7f8f7" stroke="#b2b4b2" stroke-width="1.6"/>
<circle cx="315.2" cy="126.6" r="2.8" fill="#f7f8f7" stroke="#b2b4b2" stroke-width="1.6"/>
<circle cx="322.7" cy="126.6" r="2.8" fill="#f7f8f7" stroke="#b2b4b2" stroke-width="1.6"/>
<circle cx="188.8" cy="176.4" r="2.8" fill="#f7f8f7" stroke="#b2b4b2" stroke-width="1.6"/>
<circle cx="196.2" cy="176.4" r="2.8" fill="#f7f8f7" stroke="#b2b4b2" stroke-width="1.6"/>
<circle cx="203.6" cy="176.4" r="2.8" fill="#f7f8f7" stroke="#b2b4b2" stroke-width="1.6"/>
<circle cx="211.0" cy="176.4" r="2.8" fill="#f7f8f7" stroke="#b2b4b2" stroke-width="1.6"/>
<circle cx="149.6" cy="224.4" r="2.0" fill="#f7f8f7" stroke="#b2b4b2" stroke-width="1.6"/>
<circle cx="149.6" cy="231.2" r="2.0" fill="#f7f8f7" stroke="#b2b4b2" stroke-width="1.6"/>
<circle cx="149.6" cy="238.1" r="2.0" fill="#f7f8f7" stroke="#b2b4b2" stroke-width="1.6"/>
<circle cx="149.6" cy="245.0" r="2.0" fill="#f7f8f7" stroke="#b2b4b2" stroke-width="1.6"/>
<circle cx="256.3" cy="85.0" r="3.2" fill="#f7f8f7" stroke="#b2b4b2" stroke-width="1.6"/>
<circle cx="265.5" cy="85.0" r="3.2" fill="#f7f8f7" stroke="#b2b4b2" stroke-width="1.6"/>
<circle cx="159.4" cy="18.6" r="2.8" fill="#f7f8f7" stroke="#b2b4b2" stroke-width="1.6"/>
<circle cx="33.0" cy="227.0" r="2.0" fill="#f7f8f7" stroke="#b2b4b2" stroke-width="1.6"/>
<circle cx="246.8" cy="270.6" r="3.2" fill="#f7f8f7" stroke="#b2b4b2" stroke-width="1.6"/>
<circle cx="246.8" cy="279.6" r="3.2" fill="#f7f8f7" stroke="#b2b4b2" stroke-width="1.6"/>
<circle cx="246.8" cy="288.6" r="3.2" fill="#f7f8f7" stroke="#b2b4b2" stroke-width="1.6"/>
<circle cx="39.3" cy="255.3" r="2.4" fill="#f7f8f7" stroke="#b2b4b2" stroke-width="1.6"/>
<circle cx="39.3" cy="262.8" r="2.4" fill="#f7f8f7" stroke="#b2b4b2" stroke-width="1.6"/>
<circle cx="135.7" cy="167.5" r="2.0" fill="#f7f8f7" stroke="#b2b4b2" stroke-width="1.6"/>
<circle cx="141.9" cy="167.5" r="2.0" fill="#f7f8f7" stroke="#b2b4b2" stroke-width="1.6"/>
<circle cx="148.1" cy="167.5" r="2.0" fill="#f7f8f7" stroke="#b2b4b2" stroke-width="1.6"/>
<circle cx="154.2" cy="167.5" r="2.0" fill="#f7f8f7" stroke="#b2b4b2" stroke-width="1.6"/>
<circle cx="160.4" cy="167.5" r="2.0" fill="#f7f8f7" stroke="#b2b4b2" stroke-width="1.6"/>
<circle cx="185.3" cy="49.5" r="2.4" fill="#f7f8f7" stroke="#b2b4b2" stroke-width="1.6"/>
<circle cx="191.7" cy="49.5" r="2.4" fill="#f7f8f7" stroke="#b2b4b2" stroke-width="1.6"/>
<circle cx="198.1" cy="49.5" r="2.4" fill="#f7f8f7" stroke="#b2b4b2" stroke-width="1.6"/>
<circle cx="144.9" cy="33.8" r="2.0" fill="#f7f8f7" stroke="#b2b4b2" stroke-width="1.6"/>
<circle cx="144.9" cy="40.7" r="2.0" fill="#f7f8f7" stroke="#b2b4b2" stroke-width="1.6"/>
<circle cx="89.2" cy="293.6" r="2.4" fill="#f7f8f7" stroke="#b2b4b2" stroke-width="1.6"/>
<circle cx="11.8" cy="275.0" r="3.2" fill="#f7f8f7" stroke="#b2b4b2" stroke-width="1.6"/>
<circle cx="21.2" cy="275.0" r="3.2" fill="#f7f8f7" stroke="#b2b4b2" stroke-width="1.6"/>
<circle cx="30.6" cy="275.0" r="3.2" fill="#f7f8f7" stroke="#b2b4b2" stroke-width="1.6"/>
<circle cx="40.0" cy="275.0" r="3.2" fill="#f7f8f7" stroke="#b2b4b2" stroke-width="1.6"/>
<circle cx="49.3" cy="275.0" r="3.2" fill="#f7f8f7" stroke="#b2b4b2" stroke-width="1.6"/>
<circle cx="299.9" cy="126.6" r="2.0" fill="#f7f8f7" stroke="#b2b4b2" stroke-width="1.6"/>
<circle cx="299.9" cy="132.3" r="2.0" fill="#f7f8f7" stroke="#b2b4b2" stroke-width="1.6"/>
<circle cx="299.9" cy="138.0" r="2.0" fill="#f7f8f7" stroke="#b2b4b2" stroke-width="1.6"/>
<circle cx="299.9" cy="143.7" r="2.0" fill="#f7f8f7" stroke="#b2b4b2" stroke-width="1.6"/>
<circle cx="164.2" cy="16.4" r="2.4" fill="#f7f8f7" stroke="#b2b4b2" stroke-width="1.6"/>
<circle cx="171.8" cy="16.4" r="2.4" fill="#f7f8f7" stroke="#b2b4b2" stroke-width="1.6"/>
<circle cx="70.2" cy="337.4" r="2.8" fill="#f7f8f7" stroke="#b2b4b2" stroke-width="1.6"/>
<circle cx="70.2" cy="345.8" r="2.8" fill="#f7f8f7" stroke="#b2b4b2" stroke-width="1.6"/>
<circle cx="70.2" cy="354.2" r="2.8" fill="#f7f8f7" stroke="#b2b4b2" stroke-width="1.6"/>
<circle cx="70.2" cy="362.7" r="2.8" fill="#f7f8f7" stroke="#b2b4b2" stroke-width="1.6"/>
<circle cx="70.2" cy="371.1" r="2.8" fill="#f7f8f7" stroke="#b2b4b2" stroke-width="1.6"/>
<circle cx="94.9" cy="279.1" r="3.2" fill="#f7f8f7" stroke="#b2b4b2" stroke-width="1.6"/>
<circle cx="94.9" cy="287.7" r="3.2" fill="#f7f8f7" stroke="#b2b4b2" stroke-width="1.6"/>
<circle cx="94.9" cy="296.3" r="3.2" fill="#f7f8f7" stroke="#b2b4b2" stroke-width="1.6"/>
<circle cx="94.9" cy="304.9" r="3.2" fill="#f7f8f7" stroke="#b2b4b2" stroke-width="1.6"/>
<circle cx="244.1" cy="108.8" r="2.8" fill="#f7f8f7" stroke="#b2b4b2" stroke-width="1.6"/>
<circle cx="251.7" cy="108.8" r="2.8" fill="#f7f8f7" stroke="#b2b4b2" stroke-width="1.6"/>
<circle cx="259.3" cy="108.8" r="2.8" fill="#f7f8f7" stroke="#b2b4b2" stroke-width="1.6"/>
<circle cx="272.0" cy="50.6" r="2.8" fill="#f7f8f7" stroke="#b2b4b2" stroke-width="1.6"/>
<circle cx="342.1" cy="149.9" r="2.0" fill="#f7f8f7" stroke="#b2b4b2" stroke-width="1.6"/>
<circle cx="342.1" cy="155.6" r="2.0" fill="#f7f8f7" stroke="#b2b4b2" stroke-width="1.6"/>
<circle cx="342.1" cy="161.3" r="2.0" fill="#f7f8f7" stroke="#b2b4b2" stroke-width="1.6"/>
<circle cx="109.6" cy="178.1" r="2.8" fill="#f7f8f7" stroke="#b2b4b2" stroke-width="1.6"/>
<circle cx="109.6" cy="185.7" r="2.8" fill="#f7f8f7" stroke="#b2b4b2" stroke-width="1.6"/>
<circle cx="109.6" cy="193.3" r="2.8" fill="#f7f8f7" stroke="#b2b4b2" stroke-width="1.6"/>
<circle cx="109.6" cy="201.0" r="2.8" fill="#f7f8f7" stroke="#b2b4b2" stroke-width="1.6"/>
<circle cx="109.6" cy="208.6" r="2.8" fill="#f7f8f7" stroke="#b2b4b2" stroke-width="1.6"/>
<circle cx="117.3" cy="142.1" r="2.8" fill="#f7f8f7" stroke="#b2b4b2" stroke-width="1.6"/>
<circle cx="125.4" cy="142.1" r="2.8" fill="#f7f8f7" stroke="#b2b4b2" stroke-width="1.6"/>
<circle cx="133.5" cy="142.1" r="2.8" fill="#f7f8f7" stroke="#b2b4b2" stroke-width="1.6"/>
<circle cx="141.6" cy="142.1" r="2.8" fill="#f7f8f7" stroke="#b2b4b2" stroke-width="1.6"/>
<circle cx="149.6" cy="142.1" r="2.8" fill="#f7f8f7" stroke="#b2b4b2" stroke-width="1.6"/>
<circle cx="115.1" cy="44.0" r="2.8" fill="#f7f8f7" stroke="#b2b4b2" stroke-width="1.6"/>
<circle cx="123.6" cy="44.0" r="2.8" fill="#f7f8f7" stroke="#b2b4b2" stroke-width="1.6"/>
<circle cx="132.0" cy="44.0" r="2.8" fill="#f7f8f7" stroke="#b2b4b2" stroke-width="1.6"/>
<circle cx="140.4" cy="44.0" r="2.8" fill="#f7f8f7" stroke="#b2b4b2" stroke-width="1.6"/>
<circle cx="148.9" cy="44.0" r="2.8" fill="#f7f8f7" stroke="#b2b4b2" stroke-width="1.6"/>
<circle cx="83.0" cy="57.2" r="2.4" fill="#f7f8f7" stroke="#b2b4b2" stroke-width="1.6"/>
<circle cx="83.0" cy="63.8" r="2.4" fill="#f7f8f7" stroke="#b2b4b2" stroke-width="1.6"/>
<circle cx="83.0" cy="70.4" r="2.4" fill="#f7f8f7" stroke="#b2b4b2" stroke-width="1.6"/>
<circle cx="83.0" cy="77.0" r="2.4" fill="#f7f8f7" stroke="#b2b4b2" stroke-width="1.6"/>
<circle cx="83.0" cy="83.6" r="2.4" fill="#f7f8f7" stroke="#b2b4b2" stroke-width="1.6"/>
<circle cx="58.8" cy="109.3" r="2.0" fill="#f7f8f7" stroke="#b2b4b2" stroke-width="1.6"/>
<circle cx="308.0" cy="165.5" r="2.0" fill="#f7f8f7" stroke="#b2b4b2" stroke-width="1.6"/>
<circle cx="308.0" cy="172.5" r="2.0" fill="#f7f8f7" stroke="#b2b4b2" stroke-width="1.6"/>
<circle cx="308.0" cy="179.4" r="2.0" fill="#f7f8f7" stroke="#b2b4b2" stroke-width="1.6"/>
<circle cx="308.0" cy="186.3" r="2.0" fill="#f7f8f7" stroke="#b2b4b2" stroke-width="1.6"/>
<circle cx="61.1" cy="33.7" r="2.4" fill="#f7f8f7" stroke="#b2b4b2" stroke-width="1.6"/>
<circle cx="68.8" cy="296.7" r="2.8" fill="#f7f8f7" stroke="#b2b4b2" stroke-width="1.6"/>
<circle cx="77.3" cy="296.7" r="2.8" fill="#f7f8f7" stroke="#b2b4b2" stroke-width="1.6"/>
<circle cx="85.9" cy="296.7" r="2.8" fill="#f7f8f7" stroke="#b2b4b2" stroke-width="1.6"/>
<circle cx="117.2" cy="336.3" r="2.8" fill="#f7f8f7" stroke="#b2b4b2" stroke-width="1.6"/>
<circle cx="36.7" cy="52.0" r="2.0" fill="#f7f8f7" stroke="#b2b4b2" stroke-width="1.6"/>
<circle cx="43.1" cy="52.0" r="2.0" fill="#f7f8f7" stroke="#b2b4b2" stroke-width="1.6"/>
<circle cx="49.4" cy="52.0" r="2.0" fill="#f7f8f7" stroke="#b2b4b2" stroke-width="1.6"/>
<circle cx="313.9" cy="145.3" r="2.4" fill="#f7f8f7" stroke="#b2b4b2" stroke-width="1.6"/>
<circle cx="313.9" cy="152.0" r="2.4" fill="#f7f8f7" stroke="#b2b4b2" stroke-width="1.6"/>
<circle cx="313.9" cy="158.6" r="2.4" fill="#f7f8f7" stroke="#b2b4b2" stroke-width="1.6"/>
<circle cx="313.9" cy="165.2" r="2.4" fill="#f7f8f7" stroke="#b2b4b2" stroke-width="1.6"/>
<circle cx="256.0" cy="307.2" r="2.8" fill="#f7f8f7" stroke="#b2b4b2" stroke-width="1.6"/>
<circle cx="256.0" cy="314.3" r="2.8" fill="#f7f8f7" stroke="#b2b4b2" stroke-width="1.6"/>
<circle cx="256.0" cy="321.4" r="2.8" fill="#f7f8f7" stroke="#b2b4b2" stroke-width="1.6"/>
<circle cx="256.0" cy="328.6" r="2.8" fill="#f7f8f7" stroke="#b2b4b2" stroke-width="1.6"/>
<circle cx="256.0" cy="335.7" r="2.8" fill="#f7f8f7" stroke="#b2b4b2" stroke-width="1.6"/>
<circle cx="249.4" cy="255.5" r="3.2" fill="#f7f8f7" stroke="#b2b4b2" stroke-width="1.6"/>
<circle cx="258.3" cy="255.5" r="3.2" fill="#f7f8f7" stroke="#b2b4b2" stroke-width="1.6"/>
<circle cx="267.2" cy="255.5" r="3.2" fill="#f7f8f7" stroke="#b2b4b2" stroke-width="1.6"/>
<circle cx="276.1" cy="255.5" r="3.2" fill="#f7f8f7" stroke="#b2b4b2" stroke-width="1.6"/>
<circle cx="285.0" cy="255.5" r="3.2" fill="#f7f8f7" stroke="#b2b4b2" stroke-width="1.6"/>
<circle cx="306.5" cy="134.3" r="2.0" fill="#f7f8f7" stroke="#b2b4b2" stroke-width="1.6"/>
<circle cx="306.5" cy="140.0" r="2.0" fill="#f7f8f7" stroke="#b2b4b2" stroke-width="1.6"/>
<circle cx="306.5" cy="145.6" r="2.0" fill="#f7f8f7" stroke="#b2b4b2" stroke-width="1.6"/>
<circle cx="306.5" cy="151.3" r="2.0" fill="#f7f8f7" stroke="#b2b4b2" stroke-width="1.6"/>
<circle cx="306.5" cy="156.9" r="2.0" fill="#f7f8f7" stroke="#b2b4b2" stroke-width="1.6"/>
<circle cx="190.4" cy="269.2" r="3.2" fill="#f7f8f7" stroke="#b2b4b2" stroke-width="1.6"/>
<circle cx="190.4" cy="278.1" r="3.2" fill="#f7f8f7" stroke="#b2b4b2" stroke-width="1.6"/>
<circle cx="190.4" cy="287.0" r="3.2" fill="#f7f8f7" stroke="#b2b4b2" stroke-width="1.6"/>
<circle cx="190.4" cy="295.9" r="3.2" fill="#f7f8f7" stroke="#b2b4b2" stroke-width="1.6"/>
<circle cx="318.1" cy="232.2" r="2.8" fill="#f7f8f7" stroke="#b2b4b2" stroke-width="1.6"/>
<circle cx="318.1" cy="239.5" r="2.8" fill="#f7f8f7" stroke="#b2b4b2" stroke-width="1.6"/>
<circle cx="304.1" cy="124.1" r="2.4" fill="#f7f8f7" stroke="#b2b4b2" stroke-width="1.6"/>
<circle cx="304.1" cy="131.7" r="2.4" fill="#f7f8f7" stroke="#b2b4b2" stroke-width="1.6"/>
<circle cx="304.1" cy="139.2" r="2.4" fill="#f7f8f7" stroke="#b2b4b2" stroke-width="1.6"/>
<circle cx="304.1" cy="146.7" r="2.4" fill="#f7f8f7" stroke="#b2b4b2" stroke-width="1.6"/>
<circle cx="39.4" cy="172.3" r="2.0" fill="#f7f8f7" stroke="#b2b4b2" stroke-width="1.6"/>
<circle cx="39.4" cy="178.7" r="2.0" fill="#f7f8f7" stroke="#b2b4b2" stroke-width="1.6"/>
<circle cx="39.4" cy="185.2" r="2.0" fill="#f7f8f7" stroke="#b2b4b2" stroke-width="1.6"/>
<circle cx="39.4" cy="191.6" r="2.0" fill="#f7f8f7" stroke="#b2b4b2" stroke-width="1.6"/>
<circle cx="226.5" cy="286.1" r="3.2" fill="#f7f8f7" stroke="#b2b4b2" stroke-width="1.6"/>
<circle cx="61.3" cy="299.5" r="2.0" fill="#f7f8f7" stroke="#b2b4b2" stroke-width="1.6"/>
<circle cx="61.3" cy="305.3" r="2.0" fill="#f7f8f7" stroke="#b2b4b2" stroke-width="1.6"/>
<circle cx="281.5" cy="178.0" r="3.2" fill="#f7f8f7" stroke="#b2b4b2" stroke-width="1.6"/>
<circle cx="281.5" cy="186.9" r="3.2" fill="#f7f8f7" stroke="#b2b4b2" stroke-width="1.6"/>
<circle cx="281.5" cy="195.8" r="3.2" fill="#f7f8f7" stroke="#b2b4b2" stroke-width="1.6"/>
<circle cx="281.5" cy="204.8" r="3.2" fill="#f7f8f7" stroke="#b2b4b2" stroke-width="1.6"/>
<circle cx="189.4" cy="61.0" r="2.0" fill="#f7f8f7" stroke="#b2b4b2" stroke-width="1.6"/>
<circle cx="189.4" cy="67.2" r="2.0" fill="#f7f8f7" stroke="#b2b4b2" stroke-width="1.6"/>
<circle cx="189.4" cy="73.4" r="2.0" fill="#f7f8f7" stroke="#b2b4b2" stroke-width="1.6"/>
<circle cx="149.1" cy="322.2" r="3.2" fill="#f7f8f7" stroke="#b2b4b2" stroke-width="1.6"/>
<circle cx="149.1" cy="331.3" r="3.2" fill="#f7f8f7" stroke="#b2b4b2" stroke-width="1.6"/>
<circle cx="149.1" cy="340.3" r="3.2" fill="#f7f8f7" stroke="#b2b4b2" stroke-width="1.6"/>
<circle cx="149.1" cy="349.4" r="3.2" fill="#f7f8f7" stroke="#b2b4b2" stroke-width="1.6"/>
<circle cx="330.1" cy="236.9" r="2.4" fill="#f7f8f7" stroke="#b2b4b2" stroke-width="1.6"/>
<circle cx="41.0" cy="33.1" r="2.4" fill="#f7f8f7" stroke="#b2b4b2" stroke-width="1.6"/>
<circle cx="41.0" cy="40.1" r="2.4" fill="#f7f8f7" stroke="#b2b4b2" stroke-width="1.6"/>
<circle cx="41.0" cy="47.2" r="2.4" fill="#f7f8f7" stroke="#b2b4b2" stroke-width="1.6"/>
<circle cx="41.0" cy="54.2" r="2.4" fill="#f7f8f7" stroke="#b2b4b2" stroke-width="1.6"/>
<circle cx="266.0" cy="54.0" r="2.0" fill="#f7f8f7" stroke="#b2b4b2" stroke-width="1.6"/>
<circle cx="266.0" cy="60.2" r="2.0" fill="#f7f8f7" stroke="#b2b4b2" stroke-width="1.6"/>
<circle cx="266.0" cy="66.3" r="2.0" fill="#f7f8f7" stroke="#b2b4b2" stroke-width="1.6"/>
<circle cx="266.0" cy="72.5" r="2.0" fill="#f7f8f7" stroke="#b2b4b2" stroke-width="1.6"/>
<circle cx="266.0" cy="78.7" r="2.0" fill="#f7f8f7" stroke="#b2b4b2" stroke-width="1.6"/>
<circle cx="60.5" cy="268.8" r="2.8" fill="#f7f8f7" stroke="#b2b4b2" stroke-width="1.6"/>
<circle cx="60.5" cy="276.6" r="2.8" fill="#f7f8f7" stroke="#b2b4b2" stroke-width="1.6"/>
<circle cx="112.5" cy="301.5" r="2.4" fill="#f7f8f7" stroke="#b2b4b2" stroke-width="1.6"/>
<circle cx="112.5" cy="308.8" r="2.4" fill="#f7f8f7" stroke="#b2b4b2" stroke-width="1.6"/>
<circle cx="112.5" cy="316.1" r="2.4" fill="#f7f8f7" stroke="#b2b4b2" stroke-width="1.6"/>
<circle cx="112.5" cy="323.4" r="2.4" fill="#f7f8f7" stroke="#b2b4b2" stroke-width="1.6"/>
<circle cx="156.0" cy="69.6" r="2.4" fill="#f7f8f7" stroke="#b2b4b2" stroke-width="1.6"/>
<circle cx="156.0" cy="76.4" r="2.4" fill="#f7f8f7" stroke="#b2b4b2" stroke-width="1.6"/>
<circle cx="156.0" cy="83.2" r="2.4" fill="#f7f8f7" stroke="#b2b4b2" stroke-width="1.6"/>
<circle cx="156.0" cy="89.9" r="2.4" fill="#f7f8f7" stroke="#b2b4b2" stroke-width="1.6"/>
<circle cx="156.0" cy="96.7" r="2.4" fill="#f7f8f7" stroke="#b2b4b2" stroke-width="1.6"/>
<circle cx="178.6" cy="113.1" r="2.0" fill="#f7f8f7" stroke="#b2b4b2" stroke-width="1.6"/>
<circle cx="222.7" cy="206.6" r="2.4" fill="#f7f8f7" stroke="#b2b4b2" stroke-width="1.6"/>
<circle cx="230.3" cy="206.6" r="2.4" fill="#f7f8f7" stroke="#b2b4b2" stroke-width="1.6"/>
<circle cx="237.9" cy="206.6" r="2.4" fill="#f7f8f7" stroke="#b2b4b2" stroke-width="1.6"/>
<circle cx="245.5" cy="206.6" r="2.4" fill="#f7f8f7" stroke="#b2b4b2" stroke-width="1.6"/>
<circle cx="253.1" cy="206.6" r="2.4" fill="#f7f8f7" stroke="#b2b4b2" stroke-width="1.6"/>
<circle cx="7.6" cy="327.7" r="2.8" fill="#f7f8f7" stroke="#b2b4b2" stroke-width="1.6"/>
<circle cx="342.6" cy="251.3" r="2.8" fill="#f7f8f7" stroke="#b2b4b2" stroke-width="1.6"/>
<circle cx="299.1" cy="328.3" r="3.2" fill="#f7f8f7" stroke="#b2b4b2" stroke-width="1.6"/>
<circle cx="299.1" cy="336.9" r="3.2" fill="#f7f8f7" stroke="#b2b4b2" stroke-width="1.6"/>
<circle cx="196.6" cy="296.3" r="2.4" fill="#f7f8f7" stroke="#b2b4b2" stroke-width="1.6"/>
<circle cx="196.6" cy="303.9" r="2.4" fill="#f7f8f7" stroke="#b2b4b2" stroke-width="1.6"/>
<circle cx="352.7" cy="230.2" r="2.0" fill="#f7f8f7" stroke="#b2b4b2" stroke-width="1.6"/>
<circle cx="352.7" cy="236.3" r="2.0" fill="#f7f8f7" stroke="#b2b4b2" stroke-width="1.6"/>
<circle cx="352.7" cy="242.3" r="2.0" fill="#f7f8f7" stroke="#b2b4b2" stroke-width="1.6"/>
<circle cx="352.7" cy="248.4" r="2.0" fill="#f7f8f7" stroke="#b2b4b2" stroke-width="1.6"/>
<circle cx="257.0" cy="73.1" r="2.0" fill="#f7f8f7" stroke="#b2b4b2" stroke-width="1.6"/>
<circle cx="263.6" cy="73.1" r="2.0" fill="#f7f8f7" stroke="#b2b4b2" stroke-width="1.6"/>
<circle cx="270.2" cy="73.1" r="2.0" fill="#f7f8f7" stroke="#b2b4b2" stroke-width="1.6"/>
<circle cx="276.8" cy="73.1" r="2.0" fill="#f7f8f7" stroke="#b2b4b2" stroke-width="1.6"/>
<circle cx="306.5" cy="222.2" r="3.2" fill="#f7f8f7" stroke="#b2b4b2" stroke-width="1.6"/>
<circle cx="314.8" cy="222.2" r="3.2" fill="#f7f8f7" stroke="#b2b4b2" stroke-width="1.6"/>
<circle cx="323.1" cy="222.2" r="3.2" fill="#f7f8f7" stroke="#b2b4b2" stroke-width="1.6"/>
<circle cx="231.6" cy="287.1" r="2.8" fill="#f7f8f7" stroke="#b2b4b2" stroke-width="1.6"/>
<circle cx="231.6" cy="295.3" r="2.8" fill="#f7f8f7" stroke="#b2b4b2" stroke-width="1.6"/>
<circle cx="231.6" cy="303.4" r="2.8" fill="#f7f8f7" stroke="#b2b4b2" stroke-width="1.6"/>
<circle cx="231.6" cy="311.5" r="2.8" fill="#f7f8f7" stroke="#b2b4b2" stroke-width="1.6"/>
<circle cx="323.4" cy="257.3" r="2.8" fill="#f7f8f7" stroke="#b2b4b2" stroke-width="1.6"/>
<circle cx="177.1" cy="309.5" r="2.4" fill="#f7f8f7" stroke="#b2b4b2" stroke-width="1.6"/>
<circle cx="177.1" cy="316.2" r="2.4" fill="#f7f8f7" stroke="#b2b4b2" stroke-width="1.6"/>
<circle cx="177.1" cy="322.9" r="2.4" fill="#f7f8f7" stroke="#b2b4b2" stroke-width="1.6"/>
<circle cx="177.1" cy="329.6" r="2.4" fill="#f7f8f7" stroke="#b2b4b2" stroke-width="1.6"/>
<circle cx="177.1" cy="336.4" r="2.4" fill="#f7f8f7" stroke="#b2b4b2" stroke-width="1.6"/>
<circle cx="316.9" cy="66.6" r="2.0" fill="#f7f8f7" stroke="#b2b4b2" stroke-width="1.6"/>
<circle cx="49.5" cy="110.4" r="2.4" fill="#f7f8f7" stroke="#b2b4b2" stroke-width="1.6"/>
<circle cx="56.4" cy="110.4" r="2.4" fill="#f7f8f7" stroke="#b2b4b2" stroke-width="1.6"/>
<circle cx="63.4" cy="110.4" r="2.4" fill="#f7f8f7" stroke="#b2b4b2" stroke-width="1.6"/>
<circle cx="201.8" cy="22.2" r="2.4" fill="#f7f8f7" stroke="#b2b4b2" stroke-width="1.6"/>
<circle cx="209.1" cy="22.2" r="2.4" fill="#f7f8f7" stroke="#b2b4b2" stroke-width="1.6"/>
<circle cx="216.3" cy="22.2" r="2.4" fill="#f7f8f7" stroke="#b2b4b2" stroke-width="1.6"/>
<circle cx="223.6" cy="22.2" r="2.4" fill="#f7f8f7" stroke="#b2b4b2" stroke-width="1.6"/>
<circle cx="158.4" cy="292.1" r="2.8" fill="#f7f8f7" stroke="#b2b4b2" stroke-width="1.6"/>
<circle cx="158.4" cy="300.6" r="2.8" fill="#f7f8f7" stroke="#b2b4b2" stroke-width="1.6"/>
<circle cx="158.4" cy="309.0" r="2.8" fill="#f7f8f7" stroke="#b2b4b2" stroke-width="1.6"/>
<circle cx="158.4" cy="317.5" r="2.8" fill="#f7f8f7" stroke="#b2b4b2" stroke-width="1.6"/>
<circle cx="282.6" cy="155.5" r="2.0" fill="#f7f8f7" stroke="#b2b4b2" stroke-width="1.6"/>
<circle cx="26.7" cy="297.1" r="3.2" fill="#f7f8f7" stroke="#b2b4b2" stroke-width="1.6"/>
<circle cx="26.7" cy="305.8" r="3.2" fill="#f7f8f7" stroke="#b2b4b2" stroke-width="1.6"/>
<circle cx="26.7" cy="314.5" r="3.2" fill="#f7f8f7" stroke="#b2b4b2" stroke-width="1.6"/>
<circle cx="35.0" cy="59.3" r="2.4" fill="#f7f8f7" stroke="#b2b4b2" stroke-width="1.6"/>
<circle cx="35.0" cy="66.7" r="2.4" fill="#f7f8f7" stroke="#b2b4b2" stroke-width="1.6"/>
<circle cx="35.0" cy="74.2" r="2.4" fill="#f7f8f7" stroke="#b2b4b2" stroke-width="1.6"/>
<circle cx="156.3" cy="328.7" r="2.8" fill="#f7f8f7" stroke="#b2b4b2" stroke-width="1.6"/>
<circle cx="156.3" cy="336.6" r="2.8" fill="#f7f8f7" stroke="#b2b4b2" stroke-width="1.6"/>
<circle cx="156.3" cy="344.5" r="2.8" fill="#f7f8f7" stroke="#b2b4b2" stroke-width="1.6"/>
<circle cx="156.3" cy="352.4" r="2.8" fill="#f7f8f7" stroke="#b2b4b2" stroke-width="1.6"/>
<circle cx="237.0" cy="95.3" r="3.2" fill="#f7f8f7" stroke="#b2b4b2" stroke-width="1.6"/>
<circle cx="237.0" cy="103.2" r="3.2" fill="#f7f8f7" stroke="#b2b4b2" stroke-width="1.6"/>
<circle cx="100.5" cy="3.4" r="2.8" fill="#f7f8f7" stroke="#b2b4b2" stroke-width="1.6"/>
<circle cx="100.5" cy="10.9" r="2.8" fill="#f7f8f7" stroke="#b2b4b2" stroke-width="1.6"/>
<circle cx="100.5" cy="18.4" r="2.8" fill="#f7f8f7" stroke="#b2b4b2" stroke-width="1.6"/>
<circle cx="185.4" cy="134.2" r="2.0" fill="#f7f8f7" stroke="#b2b4b2" stroke-width="1.6"/>
<circle cx="185.4" cy="140.2" r="2.0" fill="#f7f8f7" stroke="#b2b4b2" stroke-width="1.6"/>
<circle cx="185.4" cy="146.3" r="2.0" fill="#f7f8f7" stroke="#b2b4b2" stroke-width="1.6"/>
<circle cx="185.4" cy="152.3" r="2.0" fill="#f7f8f7" stroke="#b2b4b2" stroke-width="1.6"/>
<circle cx="39.5" cy="62.7" r="2.0" fill="#f7f8f7" stroke="#b2b4b2" stroke-width="1.6"/>
<circle cx="46.4" cy="62.7" r="2.0" fill="#f7f8f7" stroke="#b2b4b2" stroke-width="1.6"/>
<circle cx="53.3" cy="62.7" r="2.0" fill="#f7f8f7" stroke="#b2b4b2" stroke-width="1.6"/>
<circle cx="60.1" cy="62.7" r="2.0" fill="#f7f8f7" stroke="#b2b4b2" stroke-width="1.6"/>
<circle cx="67.0" cy="62.7" r="2.0" fill="#f7f8f7" stroke="#b2b4b2" stroke-width="1.6"/>
<circle cx="165.7" cy="331.2" r="2.0" fill="#f7f8f7" stroke="#b2b4b2" stroke-width="1.6"/>
<circle cx="33.1" cy="263.6" r="2.8" fill="#f7f8f7" stroke="#b2b4b2" stroke-width="1.6"/>
<circle cx="40.9" cy="263.6" r="2.8" fill="#f7f8f7" stroke="#b2b4b2" stroke-width="1.6"/>
<circle cx="48.6" cy="263.6" r="2.8" fill="#f7f8f7" stroke="#b2b4b2" stroke-width="1.6"/>
<circle cx="142.6" cy="166.3" r="3.2" fill="#f7f8f7" stroke="#b2b4b2" stroke-width="1.6"/>
<circle cx="142.6" cy="174.3" r="3.2" fill="#f7f8f7" stroke="#b2b4b2" stroke-width="1.6"/>
<circle cx="321.3" cy="250.0" r="2.0" fill="#f7f8f7" stroke="#b2b4b2" stroke-width="1.6"/>
<circle cx="321.3" cy="256.7" r="2.0" fill="#f7f8f7" stroke="#b2b4b2" stroke-width="1.6"/>
<circle cx="182.0" cy="220.4" r="2.8" fill="#f7f8f7" stroke="#b2b4b2" stroke-width="1.6"/>
<circle cx="7.4" cy="223.4" r="2.4" fill="#f7f8f7" stroke="#b2b4b2" stroke-width="1.6"/>
<circle cx="7.4" cy="230.6" r="2.4" fill="#f7f8f7" stroke="#b2b4b2" stroke-width="1.6"/>
<circle cx="7.4" cy="237.8" r="2.4" fill="#f7f8f7" stroke="#b2b4b2" stroke-width="1.6"/>
<circle cx="7.4" cy="245.0" r="2.4" fill="#f7f8f7" stroke="#b2b4b2" stroke-width="1.6"/>
<circle cx="62.6" cy="125.7" r="2.4" fill="#f7f8f7" stroke="#b2b4b2" stroke-width="1.6"/>
<circle cx="36.3" cy="145.5" r="2.4" fill="#f7f8f7" stroke="#b2b4b2" stroke-width="1.6"/>
<circle cx="146.6" cy="337.4" r="2.4" fill="#f7f8f7" stroke="#b2b4b2" stroke-width="1.6"/>
<circle cx="18.3" cy="247.0" r="2.0" fill="#f7f8f7" stroke="#b2b4b2" stroke-width="1.6"/>
<circle cx="25.2" cy="247.0" r="2.0" fill="#f7f8f7" stroke="#b2b4b2" stroke-width="1.6"/>
<circle cx="32.1" cy="247.0" r="2.0" fill="#f7f8f7" stroke="#b2b4b2" stroke-width="1.6"/>
<circle cx="39.0" cy="247.0" r="2.0" fill="#f7f8f7" stroke="#b2b4b2" stroke-width="1.6"/>
<circle cx="254.6" cy="25.1" r="2.8" fill="#f7f8f7" stroke="#b2b4b2" stroke-width="1.6"/>
<circle cx="97.4" cy="97.4" r="3.2" fill="#f7f8f7" stroke="#b2b4b2" stroke-width="1.6"/>
<circle cx="97.4" cy="105.5" r="3.2" fill="#f7f8f7" stroke="#b2b4b2" stroke-width="1.6"/>
<circle cx="97.4" cy="113.6" r="3.2" fill="#f7f8f7" stroke="#b2b4b2" stroke-width="1.6"/>
<circle cx="115.9" cy="326.9" r="3.2" fill="#f7f8f7" stroke="#b2b4b2" stroke-width="1.6"/>
<circle cx="124.8" cy="326.9" r="3.2" fill="#f7f8f7" stroke="#b2b4b2" stroke-width="1.6"/>
<circle cx="133.8" cy="326.9" r="3.2" fill="#f7f8f7" stroke="#b2b4b2" stroke-width="1.6"/>
<circle cx="177.3" cy="50.1" r="2.8" fill="#f7f8f7" stroke="#b2b4b2" stroke-width="1.6"/>
<circle cx="262.2" cy="286.9" r="2.0" fill="#f7f8f7" stroke="#b2b4b2" stroke-width="1.6"/>
<circle cx="91.0" cy="38.5" r="2.8" fill="#f7f8f7" stroke="#b2b4b2" stroke-width="1.6"/>
<circle cx="91.0" cy="45.7" r="2.8" fill="#f7f8f7" stroke="#b2b4b2" stroke-width="1.6"/>
<circle cx="77.4" cy="20.6" r="2.4" fill="#f7f8f7" stroke="#b2b4b2" stroke-width="1.6"/>
<circle cx="17.2" cy="322.5" r="2.0" fill="#f7f8f7" stroke="#b2b4b2" stroke-width="1.6"/>
<circle cx="23.3" cy="322.5" r="2.0" fill="#f7f8f7" stroke="#b2b4b2" stroke-width="1.6"/>
<circle cx="29.3" cy="322.5" r="2.0" fill="#f7f8f7" stroke="#b2b4b2" stroke-width="1.6"/>
<circle cx="42.3" cy="161.8" r="2.0" fill="#f7f8f7" stroke="#b2b4b2" stroke-width="1.6"/>
<circle cx="42.3" cy="167.6" r="2.0" fill="#f7f8f7" stroke="#b2b4b2" stroke-width="1.6"/>
<circle cx="42.3" cy="173.5" r="2.0" fill="#f7f8f7" stroke="#b2b4b2" stroke-width="1.6"/>
<circle cx="42.3" cy="179.3" r="2.0" fill="#f7f8f7" stroke="#b2b4b2" stroke-width="1.6"/>
<circle cx="42.3" cy="185.2" r="2.0" fill="#f7f8f7" stroke="#b2b4b2" stroke-width="1.6"/>
<circle cx="300.0" cy="277.4" r="2.8" fill="#f7f8f7" stroke="#b2b4b2" stroke-width="1.6"/>
<circle cx="300.0" cy="285.5" r="2.8" fill="#f7f8f7" stroke="#b2b4b2" stroke-width="1.6"/>
<circle cx="22.4" cy="306.1" r="2.8" fill="#f7f8f7" stroke="#b2b4b2" stroke-width="1.6"/>
<circle cx="22.4" cy="314.0" r="2.8" fill="#f7f8f7" stroke="#b2b4b2" stroke-width="1.6"/>
<circle cx="22.4" cy="322.0" r="2.8" fill="#f7f8f7" stroke="#b2b4b2" stroke-width="1.6"/>
<circle cx="22.4" cy="330.0" r="2.8" fill="#f7f8f7" stroke="#b2b4b2" stroke-width="1.6"/>
<circle cx="22.4" cy="337.9" r="2.8" fill="#f7f8f7" stroke="#b2b4b2" stroke-width="1.6"/>
<circle cx="66.6" cy="330.1" r="2.0" fill="#f7f8f7" stroke="#b2b4b2" stroke-width="1.6"/>
<circle cx="73.4" cy="330.1" r="2.0" fill="#f7f8f7" stroke="#b2b4b2" stroke-width="1.6"/>
<circle cx="80.1" cy="330.1" r="2.0" fill="#f7f8f7" stroke="#b2b4b2" stroke-width="1.6"/>
<circle cx="86.8" cy="330.1" r="2.0" fill="#f7f8f7" stroke="#b2b4b2" stroke-width="1.6"/>
<circle cx="93.6" cy="330.1" r="2.0" fill="#f7f8f7" stroke="#b2b4b2" stroke-width="1.6"/>
<circle cx="55.8" cy="106.4" r="2.8" fill="#f7f8f7" stroke="#b2b4b2" stroke-width="1.6"/>
<circle cx="64.1" cy="106.4" r="2.8" fill="#f7f8f7" stroke="#b2b4b2" stroke-width="1.6"/>
<circle cx="72.4" cy="106.4" r="2.8" fill="#f7f8f7" stroke="#b2b4b2" stroke-width="1.6"/>
<circle cx="80.7" cy="106.4" r="2.8" fill="#f7f8f7" stroke="#b2b4b2" stroke-width="1.6"/>
<circle cx="89.1" cy="106.4" r="2.8" fill="#f7f8f7" stroke="#b2b4b2" stroke-width="1.6"/>
<circle cx="121.5" cy="224.0" r="2.4" fill="#f7f8f7" stroke="#b2b4b2" stroke-width="1.6"/>
<circle cx="164.9" cy="319.3" r="2.4" fill="#f7f8f7" stroke="#b2b4b2" stroke-width="1.6"/>
<circle cx="171.9" cy="319.3" r="2.4" fill="#f7f8f7" stroke="#b2b4b2" stroke-width="1.6"/>
<circle cx="179.0" cy="319.3" r="2.4" fill="#f7f8f7" stroke="#b2b4b2" stroke-width="1.6"/>
<circle cx="186.0" cy="319.3" r="2.4" fill="#f7f8f7" stroke="#b2b4b2" stroke-width="1.6"/>
<circle cx="205.5" cy="24.5" r="2.0" fill="#f7f8f7" stroke="#b2b4b2" stroke-width="1.6"/>
<circle cx="78.8" cy="125.2" r="2.0" fill="#f7f8f7" stroke="#b2b4b2" stroke-width="1.6"/>
<circle cx="84.8" cy="125.2" r="2.0" fill="#f7f8f7" stroke="#b2b4b2" stroke-width="1.6"/>
<circle cx="90.9" cy="125.2" r="2.0" fill="#f7f8f7" stroke="#b2b4b2" stroke-width="1.6"/>
<circle cx="23.0" cy="141.8" r="2.8" fill="#f7f8f7" stroke="#b2b4b2" stroke-width="1.6"/>
<circle cx="20.4" cy="316.0" r="2.4" fill="#f7f8f7" stroke="#b2b4b2" stroke-width="1.6"/>
<circle cx="20.4" cy="322.8" r="2.4" fill="#f7f8f7" stroke="#b2b4b2" stroke-width="1.6"/>
<circle cx="20.4" cy="329.7" r="2.4" fill="#f7f8f7" stroke="#b2b4b2" stroke-width="1.6"/>
<circle cx="50.8" cy="148.8" r="2.0" fill="#f7f8f7" stroke="#b2b4b2" stroke-width="1.6"/>
<circle cx="50.8" cy="155.8" r="2.0" fill="#f7f8f7" stroke="#b2b4b2" stroke-width="1.6"/>
<circle cx="50.8" cy="162.8" r="2.0" fill="#f7f8f7" stroke="#b2b4b2" stroke-width="1.6"/>
<circle cx="50.8" cy="169.8" r="2.0" fill="#f7f8f7" stroke="#b2b4b2" stroke-width="1.6"/>
<circle cx="219.6" cy="283.7" r="3.2" fill="#f7f8f7" stroke="#b2b4b2" stroke-width="1.6"/>
<circle cx="227.8" cy="283.7" r="3.2" fill="#f7f8f7" stroke="#b2b4b2" stroke-width="1.6"/>
<circle cx="236.0" cy="283.7" r="3.2" fill="#f7f8f7" stroke="#b2b4b2" stroke-width="1.6"/>
<circle cx="244.2" cy="283.7" r="3.2" fill="#f7f8f7" stroke="#b2b4b2" stroke-width="1.6"/>
<circle cx="252.4" cy="283.7" r="3.2" fill="#f7f8f7" stroke="#b2b4b2" stroke-width="1.6"/>
<circle cx="127.9" cy="43.4" r="2.0" fill="#f7f8f7" stroke="#b2b4b2" stroke-width="1.6"/>
<circle cx="133.5" cy="43.4" r="2.0" fill="#f7f8f7" stroke="#b2b4b2" stroke-width="1.6"/>
<circle cx="139.1" cy="43.4" r="2.0" fill="#f7f8f7" stroke="#b2b4b2" stroke-width="1.6"/>
<circle cx="144.7" cy="43.4" r="2.0" fill="#f7f8f7" stroke="#b2b4b2" stroke-width="1.6"/>
<circle cx="150.3" cy="43.4" r="2.0" fill="#f7f8f7" stroke="#b2b4b2" stroke-width="1.6"/>
<circle cx="68.9" cy="165.3" r="3.2" fill="#f7f8f7" stroke="#b2b4b2" stroke-width="1.6"/>
<circle cx="68.9" cy="173.9" r="3.2" fill="#f7f8f7" stroke="#b2b4b2" stroke-width="1.6"/>
<circle cx="68.9" cy="182.5" r="3.2" fill="#f7f8f7" stroke="#b2b4b2" stroke-width="1.6"/>
<circle cx="267.6" cy="97.7" r="2.8" fill="#f7f8f7" stroke="#b2b4b2" stroke-width="1.6"/>
<circle cx="193.4" cy="153.3" r="2.8" fill="#f7f8f7" stroke="#b2b4b2" stroke-width="1.6"/>
<circle cx="201.0" cy="153.3" r="2.8" fill="#f7f8f7" stroke="#b2b4b2" stroke-width="1.6"/>
<circle cx="208.6" cy="153.3" r="2.8" fill="#f7f8f7" stroke="#b2b4b2" stroke-width="1.6"/>
<circle cx="246.7" cy="323.3" r="2.8" fill="#f7f8f7" stroke="#b2b4b2" stroke-width="1.6"/>
<circle cx="246.7" cy="330.9" r="2.8" fill="#f7f8f7" stroke="#b2b4b2" stroke-width="1.6"/>
<circle cx="44.4" cy="127.6" r="3.2" fill="#f7f8f7" stroke="#b2b4b2" stroke-width="1.6"/>
<circle cx="44.4" cy="136.0" r="3.2" fill="#f7f8f7" stroke="#b2b4b2" stroke-width="1.6"/>
<circle cx="44.4" cy="144.5" r="3.2" fill="#f7f8f7" stroke="#b2b4b2" stroke-width="1.6"/>
<circle cx="256.9" cy="323.5" r="3.2" fill="#f7f8f7" stroke="#b2b4b2" stroke-width="1.6"/>
<circle cx="266.2" cy="323.5" r="3.2" fill="#f7f8f7" stroke="#b2b4b2" stroke-width="1.6"/>
<circle cx="275.5" cy="323.5" r="3.2" fill="#f7f8f7" stroke="#b2b4b2" stroke-width="1.6"/>
<circle cx="309.9" cy="315.9" r="2.0" fill="#f7f8f7" stroke="#b2b4b2" stroke-width="1.6"/>
<circle cx="64.4" cy="172.7" r="2.0" fill="#f7f8f7" stroke="#b2b4b2" stroke-width="1.6"/>
<circle cx="64.4" cy="178.5" r="2.0" fill="#f7f8f7" stroke="#b2b4b2" stroke-width="1.6"/>
<circle cx="64.4" cy="184.3" r="2.0" fill="#f7f8f7" stroke="#b2b4b2" stroke-width="1.6"/>
<circle cx="64.4" cy="190.1" r="2.0" fill="#f7f8f7" stroke="#b2b4b2" stroke-width="1.6"/>
<circle cx="108.1" cy="66.2" r="2.8" fill="#f7f8f7" stroke="#b2b4b2" stroke-width="1.6"/>
<circle cx="108.1" cy="73.4" r="2.8" fill="#f7f8f7" stroke="#b2b4b2" stroke-width="1.6"/>
<circle cx="108.1" cy="80.6" r="2.8" fill="#f7f8f7" stroke="#b2b4b2" stroke-width="1.6"/>
<circle cx="108.1" cy="87.8" r="2.8" fill="#f7f8f7" stroke="#b2b4b2" stroke-width="1.6"/>
<circle cx="122.8" cy="104.1" r="3.2" fill="#f7f8f7" stroke="#b2b4b2" stroke-width="1.6"/>
<circle cx="242.8" cy="319.1" r="2.0" fill="#f7f8f7" stroke="#b2b4b2" stroke-width="1.6"/>
<circle cx="242.8" cy="324.6" r="2.0" fill="#f7f8f7" stroke="#b2b4b2" stroke-width="1.6"/>
<circle cx="167.8" cy="312.4" r="3.2" fill="#f7f8f7" stroke="#b2b4b2" stroke-width="1.6"/>
<circle cx="265.4" cy="173.7" r="2.8" fill="#f7f8f7" stroke="#b2b4b2" stroke-width="1.6"/>
<circle cx="265.4" cy="181.9" r="2.8" fill="#f7f8f7" stroke="#b2b4b2" stroke-width="1.6"/>
<circle cx="148.8" cy="49.3" r="2.0" fill="#f7f8f7" stroke="#b2b4b2" stroke-width="1.6"/>
<circle cx="154.3" cy="49.3" r="2.0" fill="#f7f8f7" stroke="#b2b4b2" stroke-width="1.6"/>
<circle cx="159.9" cy="49.3" r="2.0" fill="#f7f8f7" stroke="#b2b4b2" stroke-width="1.6"/>
<circle cx="165.4" cy="49.3" r="2.0" fill="#f7f8f7" stroke="#b2b4b2" stroke-width="1.6"/>
<circle cx="170.9" cy="49.3" r="2.0" fill="#f7f8f7" stroke="#b2b4b2" stroke-width="1.6"/>
<circle cx="92.7" cy="208.2" r="2.0" fill="#f7f8f7" stroke="#b2b4b2" stroke-width="1.6"/>
<circle cx="98.4" cy="208.2" r="2.0" fill="#f7f8f7" stroke="#b2b4b2" stroke-width="1.6"/>
<circle cx="104.1" cy="208.2" r="2.0" fill="#f7f8f7" stroke="#b2b4b2" stroke-width="1.6"/>
<circle cx="115.6" cy="46.8" r="3.2" fill="#f7f8f7" stroke="#b2b4b2" stroke-width="1.6"/>
<circle cx="1.1" cy="258.7" r="2.8" fill="#f7f8f7" stroke="#b2b4b2" stroke-width="1.6"/>
<circle cx="1.1" cy="266.8" r="2.8" fill="#f7f8f7" stroke="#b2b4b2" stroke-width="1.6"/>
<circle cx="1.1" cy="274.9" r="2.8" fill="#f7f8f7" stroke="#b2b4b2" stroke-width="1.6"/>
<circle cx="1.1" cy="283.0" r="2.8" fill="#f7f8f7" stroke="#b2b4b2" stroke-width="1.6"/>
<circle cx="1.1" cy="291.1" r="2.8" fill="#f7f8f7" stroke="#b2b4b2" stroke-width="1.6"/>
<circle cx="65.8" cy="341.4" r="2.0" fill="#f7f8f7" stroke="#b2b4b2" stroke-width="1.6"/>
<circle cx="94.5" cy="297.1" r="3.2" fill="#f7f8f7" stroke="#b2b4b2" stroke-width="1.6"/>
<circle cx="62.2" cy="41.2" r="2.8" fill="#f7f8f7" stroke="#b2b4b2" stroke-width="1.6"/>
<circle cx="62.2" cy="49.1" r="2.8" fill="#f7f8f7" stroke="#b2b4b2" stroke-width="1.6"/>
<circle cx="176.2" cy="344.0" r="2.0" fill="#f7f8f7" stroke="#b2b4b2" stroke-width="1.6"/>
<circle cx="182.0" cy="344.0" r="2.0" fill="#f7f8f7" stroke="#b2b4b2" stroke-width="1.6"/>
<circle cx="187.7" cy="344.0" r="2.0" fill="#f7f8f7" stroke="#b2b4b2" stroke-width="1.6"/>
<path d="M50,40 V12 Q50,7 55,7 H68 Q73,7 73,12 V40" fill="#e6e8e6" stroke="#c4c6c4" stroke-width="2.5"/>
<rect x="51" y="24" width="21" height="11" fill="#b4b6b4"/>
<rect x="55" y="13" width="5" height="9" fill="#a8aaa8"/><rect x="64" y="13" width="5" height="9" fill="#a8aaa8"/>
<path d="M0,40.5 H18 L28,30 H50" fill="none" stroke="#eef3ef" stroke-width="6.0" stroke-linejoin="round"/>
<path d="M0,40.5 H18 L28,30 H50" fill="none" stroke="#c6c8c6" stroke-width="3.5" stroke-linejoin="round"/>
<rect x="77" y="-2" width="9" height="46" fill="#d2d4d2"/>
<rect x="79" y="3.0" width="5" height="4" fill="#f4f6f4"/>
<rect x="79" y="9.5" width="5" height="4" fill="#f4f6f4"/>
<rect x="79" y="16.0" width="5" height="4" fill="#f4f6f4"/>
<rect x="79" y="22.5" width="5" height="4" fill="#f4f6f4"/>
<rect x="79" y="29.0" width="5" height="4" fill="#f4f6f4"/>
<rect x="79" y="35.5" width="5" height="4" fill="#f4f6f4"/>
<path d="M89,-5 V345" fill="none" stroke="#eef3ef" stroke-width="5.0" stroke-linejoin="round"/>
<path d="M89,-5 V345" fill="none" stroke="#c6c8c6" stroke-width="2.5" stroke-linejoin="round"/>
<path d="M93.5,-5 V345" fill="none" stroke="#eef3ef" stroke-width="5.0" stroke-linejoin="round"/>
<path d="M93.5,-5 V345" fill="none" stroke="#c6c8c6" stroke-width="2.5" stroke-linejoin="round"/>
<path d="M104.0,-5 V30 l-4,5 V60" fill="none" stroke="#eef3ef" stroke-width="4.7" stroke-linejoin="round"/>
<path d="M104.0,-5 V30 l-4,5 V60" fill="none" stroke="#b9bbb9" stroke-width="2.2" stroke-linejoin="round"/>
<path d="M107.6,-5 V38 l-4,5 V60" fill="none" stroke="#eef3ef" stroke-width="4.7" stroke-linejoin="round"/>
<path d="M107.6,-5 V38 l-4,5 V60" fill="none" stroke="#b9bbb9" stroke-width="2.2" stroke-linejoin="round"/>
<path d="M111.2,-5 V46 l-4,5 V60" fill="none" stroke="#eef3ef" stroke-width="4.7" stroke-linejoin="round"/>
<path d="M111.2,-5 V46 l-4,5 V60" fill="none" stroke="#b9bbb9" stroke-width="2.2" stroke-linejoin="round"/>
<path d="M114.8,-5 V30 l-4,5 V60" fill="none" stroke="#eef3ef" stroke-width="4.7" stroke-linejoin="round"/>
<path d="M114.8,-5 V30 l-4,5 V60" fill="none" stroke="#b9bbb9" stroke-width="2.2" stroke-linejoin="round"/>
<path d="M118.4,-5 V38 l4,5 V60" fill="none" stroke="#eef3ef" stroke-width="4.7" stroke-linejoin="round"/>
<path d="M118.4,-5 V38 l4,5 V60" fill="none" stroke="#b9bbb9" stroke-width="2.2" stroke-linejoin="round"/>
<path d="M122.0,-5 V46 l4,5 V60" fill="none" stroke="#eef3ef" stroke-width="4.7" stroke-linejoin="round"/>
<path d="M122.0,-5 V46 l4,5 V60" fill="none" stroke="#b9bbb9" stroke-width="2.2" stroke-linejoin="round"/>
<path d="M125.6,-5 V30 l4,5 V60" fill="none" stroke="#eef3ef" stroke-width="4.7" stroke-linejoin="round"/>
<path d="M125.6,-5 V30 l4,5 V60" fill="none" stroke="#b9bbb9" stroke-width="2.2" stroke-linejoin="round"/>
<path d="M129.2,-5 V38 l4,5 V60" fill="none" stroke="#eef3ef" stroke-width="4.7" stroke-linejoin="round"/>
<path d="M129.2,-5 V38 l4,5 V60" fill="none" stroke="#b9bbb9" stroke-width="2.2" stroke-linejoin="round"/>
<path d="M132.8,-5 V46 l4,5 V60" fill="none" stroke="#eef3ef" stroke-width="4.7" stroke-linejoin="round"/>
<path d="M132.8,-5 V46 l4,5 V60" fill="none" stroke="#b9bbb9" stroke-width="2.2" stroke-linejoin="round"/>
<path d="M239,-5 V24 L252,37 V70 L246,76 V130" fill="none" stroke="#eef3ef" stroke-width="10.5" stroke-linejoin="round"/>
<path d="M239,-5 V24 L252,37 V70 L246,76 V130" fill="none" stroke="#c6c8c6" stroke-width="8" stroke-linejoin="round"/>
<path d="M267,-5 V115" fill="none" stroke="#eef3ef" stroke-width="9.0" stroke-linejoin="round"/>
<path d="M267,-5 V115" fill="none" stroke="#c6c8c6" stroke-width="6.5" stroke-linejoin="round"/>
<path d="M275,-5 V118" fill="none" stroke="#eef3ef" stroke-width="9.0" stroke-linejoin="round"/>
<path d="M275,-5 V118" fill="none" stroke="#c6c8c6" stroke-width="6.5" stroke-linejoin="round"/>
<path d="M348,-5 V57" fill="none" stroke="#eef3ef" stroke-width="5.5" stroke-linejoin="round"/>
<path d="M348,-5 V57" fill="none" stroke="#c6c8c6" stroke-width="3" stroke-linejoin="round"/>
<path d="M160,-5 V20" fill="none" stroke="#eef3ef" stroke-width="7.5" stroke-linejoin="round"/>
<path d="M160,-5 V20" fill="none" stroke="#c6c8c6" stroke-width="5" stroke-linejoin="round"/>
<path d="M5,40 H22 L30,32 H50" fill="none" stroke="#eef3ef" stroke-width="7.5" stroke-linejoin="round"/>
<path d="M5,40 H22 L30,32 H50" fill="none" stroke="#c6c8c6" stroke-width="5" stroke-linejoin="round"/>
<circle cx="349" cy="60" r="3.3" fill="#f7f8f7" stroke="#b2b4b2" stroke-width="1.8"/>
<circle cx="342" cy="66" r="3.3" fill="#f7f8f7" stroke="#b2b4b2" stroke-width="1.8"/>
<circle cx="307" cy="140" r="3.3" fill="#f7f8f7" stroke="#b2b4b2" stroke-width="1.8"/>
<circle cx="309" cy="150" r="3.3" fill="#f7f8f7" stroke="#b2b4b2" stroke-width="1.8"/>
<circle cx="335" cy="150" r="3.3" fill="#f7f8f7" stroke="#b2b4b2" stroke-width="1.8"/></svg><div id="fade"></div></div>
<div id="wsq"></div>
<div id="bsq"></div>
<svg width="960" height="720" style="position:absolute;left:0;top:0">
<defs><linearGradient id="tf" x1="0" y1="0" x2="0" y2="1"><stop offset="0" stop-color="#3a3a3a"/><stop offset="1" stop-color="#333"/></linearGradient>
<linearGradient id="ff" x1="0" y1="0" x2="0" y2="1"><stop offset="0" stop-color="#3c3c3c"/><stop offset="1" stop-color="#2c2c2c"/></linearGradient></defs>
<path d="M173.6,370.7 L166.2,384 L166.2,411 L170.7,419.5 L176,419.5 L176,398.4 Z" fill="#202020"/>
<path d="M173.6,370.7 L231.5,370.7 L234,398.4 L175.5,398.4 Z" fill="url(#tf)"/>
<path d="M175.5,398.4 L234,398.4 L235,419.3 L171,419.5 L170.5,412 Z" fill="url(#ff)"/>
<path d="M174.2,371.5 L175.8,398.4 L234,398.4" fill="none" stroke="#6a6a6a" stroke-width="1"/>
<path d="M171,412 L171,419.5 L190,419.5 L190,416 Z" fill="#151515"/>
<text x="186.2" y="383.8" font-family="Liberation Sans, sans-serif" font-size="15.5" fill="#c4c4c4" stroke="#c4c4c4" stroke-width="0.3">180</text>
<circle cx="224.5" cy="377.5" r="3.3" fill="none" stroke="#909090" stroke-width="1.3"/>
<text x="181" y="395.3" font-family="Liberation Sans, sans-serif" font-size="8.5" font-weight="bold" fill="#a8a8a8">&#8801; 9ZAL</text>
<text x="215.5" y="396" font-family="Liberation Sans, sans-serif" font-size="11.5" font-weight="bold" fill="#c0c0c0">9</text>
</svg>

<svg width="960" height="720" viewBox="0 0 960 720" style="position:absolute;left:0;top:0">
<rect x="40.50" y="137.75" width="79.01" height="11.5" fill="#d8eaee" transform="rotate(45 80.00 143.50)"/>
<rect x="40.50" y="137.75" width="79.01" height="11.5" fill="#d8eaee" transform="rotate(-45 80.00 143.50)"/>
<rect x="106.50" y="137.75" width="79.01" height="11.5" fill="#d8eaee" transform="rotate(45 146.00 143.50)"/>
<rect x="106.50" y="137.75" width="79.01" height="11.5" fill="#d8eaee" transform="rotate(-45 146.00 143.50)"/>
<rect x="537.50" y="129.75" width="79.01" height="11.5" fill="#d8eaee" transform="rotate(45 577.00 135.50)"/>
<rect x="537.50" y="129.75" width="79.01" height="11.5" fill="#d8eaee" transform="rotate(-45 577.00 135.50)"/>
<rect x="537.00" y="194.25" width="79.01" height="11.5" fill="#d8eaee" transform="rotate(45 576.50 200.00)"/>
<rect x="537.00" y="194.25" width="79.01" height="11.5" fill="#d8eaee" transform="rotate(-45 576.50 200.00)"/>
<rect x="536.50" y="273.75" width="79.01" height="11.5" fill="#d8eaee" transform="rotate(45 576.00 279.50)"/>
<rect x="536.50" y="273.75" width="79.01" height="11.5" fill="#d8eaee" transform="rotate(-45 576.00 279.50)"/>
<line x1="49.00" y1="120.50" x2="305.00" y2="120.50" stroke="#000" stroke-width="1.2"/>
<line x1="385.00" y1="120.50" x2="408.50" y2="120.50" stroke="#000" stroke-width="1.2"/>
<line x1="81.50" y1="120.50" x2="81.50" y2="135.60" stroke="#000" stroke-width="1.3"/>
<line x1="81.50" y1="147.70" x2="81.50" y2="171.80" stroke="#000" stroke-width="1.3"/>
<line x1="65.30" y1="135.60" x2="97.90" y2="135.60" stroke="#000" stroke-width="1.3"/>
<line x1="65.30" y1="147.70" x2="97.90" y2="147.70" stroke="#000" stroke-width="1.3"/>
<line x1="68.60" y1="147.70" x2="71.60" y2="135.60" stroke="#000" stroke-width="1.3"/>
<line x1="75.40" y1="147.70" x2="78.40" y2="135.60" stroke="#000" stroke-width="1.3"/>
<line x1="81.80" y1="147.70" x2="84.70" y2="135.60" stroke="#000" stroke-width="1.3"/>
<line x1="87.90" y1="147.70" x2="91.20" y2="135.60" stroke="#000" stroke-width="1.3"/>
<line x1="71.30" y1="171.80" x2="91.70" y2="171.80" stroke="#000" stroke-width="1.3"/>
<line x1="75.30" y1="174.70" x2="87.70" y2="174.70" stroke="#000" stroke-width="1.3"/>
<line x1="78.10" y1="176.80" x2="84.90" y2="176.80" stroke="#000" stroke-width="1.3"/>
<line x1="145.50" y1="120.50" x2="145.50" y2="135.60" stroke="#000" stroke-width="1.3"/>
<line x1="145.50" y1="147.70" x2="145.50" y2="171.80" stroke="#000" stroke-width="1.3"/>
<line x1="129.30" y1="135.60" x2="161.90" y2="135.60" stroke="#000" stroke-width="1.3"/>
<line x1="129.30" y1="147.70" x2="161.90" y2="147.70" stroke="#000" stroke-width="1.3"/>
<line x1="132.60" y1="147.70" x2="135.60" y2="135.60" stroke="#000" stroke-width="1.3"/>
<line x1="139.40" y1="147.70" x2="142.40" y2="135.60" stroke="#000" stroke-width="1.3"/>
<line x1="145.80" y1="147.70" x2="148.70" y2="135.60" stroke="#000" stroke-width="1.3"/>
<line x1="151.90" y1="147.70" x2="155.20" y2="135.60" stroke="#000" stroke-width="1.3"/>
<line x1="135.30" y1="171.80" x2="155.70" y2="171.80" stroke="#000" stroke-width="1.3"/>
<line x1="139.30" y1="174.70" x2="151.70" y2="174.70" stroke="#000" stroke-width="1.3"/>
<line x1="142.10" y1="176.80" x2="148.90" y2="176.80" stroke="#000" stroke-width="1.3"/>
<rect x="96.80" y="111.60" width="39" height="14.6" fill="#fff" stroke="#000" stroke-width="1.15"/>
<path d="M99.30,119.70 C101.10,115.90 103.80,114.90 107.80,115.10 C109.40,114.50 111.70,114.50 113.30,115.10 C114.90,114.50 117.20,114.50 118.80,115.10 C120.40,114.50 122.70,114.50 124.30,115.10 C128.30,114.90 130.80,115.90 132.60,119.60" fill="none" stroke="#2a2a38" stroke-width="1.3"/>
<path d="M107.80,115.10 C105.20,115.60 105.60,121.90 107.80,122.70 C110.00,121.90 110.40,115.60 107.80,115.10" fill="none" stroke="#2a2a38" stroke-width="1.3"/>
<path d="M113.30,115.10 C110.70,115.60 111.10,121.90 113.30,122.70 C115.50,121.90 115.90,115.60 113.30,115.10" fill="none" stroke="#2a2a38" stroke-width="1.3"/>
<path d="M118.80,115.10 C116.20,115.60 116.60,121.90 118.80,122.70 C121.00,121.90 121.40,115.60 118.80,115.10" fill="none" stroke="#2a2a38" stroke-width="1.3"/>
<path d="M124.30,115.10 C121.70,115.60 122.10,121.90 124.30,122.70 C126.50,121.90 126.90,115.60 124.30,115.10" fill="none" stroke="#2a2a38" stroke-width="1.3"/>
<g stroke="#0a8ce6" stroke-width="2.9" fill="none">
<line x1="225.5" y1="120.5" x2="225.5" y2="135.7"/>
<line x1="225.5" y1="147.7" x2="225.5" y2="171.5"/>
<line x1="209.30" y1="135.70" x2="241.50" y2="135.70"/>
<line x1="209.30" y1="147.70" x2="241.50" y2="147.70"/>
<line x1="213.00" y1="147.70" x2="215.60" y2="135.70" stroke-width="3.3"/>
<line x1="219.30" y1="147.70" x2="221.90" y2="135.70" stroke-width="3.3"/>
<line x1="225.60" y1="147.70" x2="228.20" y2="135.70" stroke-width="3.3"/>
<line x1="231.90" y1="147.70" x2="234.50" y2="135.70" stroke-width="3.3"/>
</g>
<path d="M215.50,170.50 H235.50 V173.50 H231.30 V176.40 H228.30 V178.50 H222.70 V176.40 H219.70 V173.50 H215.50 Z" fill="#0a8ce6"/>
<line x1="265.50" y1="120.50" x2="265.50" y2="135.60" stroke="#000" stroke-width="1.3"/>
<line x1="265.50" y1="147.70" x2="265.50" y2="171.10" stroke="#000" stroke-width="1.3"/>
<line x1="248.70" y1="135.60" x2="281.80" y2="135.60" stroke="#000" stroke-width="1.3"/>
<line x1="248.70" y1="147.70" x2="281.80" y2="147.70" stroke="#000" stroke-width="1.3"/>
<line x1="255.30" y1="171.10" x2="275.70" y2="171.10" stroke="#000" stroke-width="1.3"/>
<line x1="259.30" y1="174.00" x2="271.70" y2="174.00" stroke="#000" stroke-width="1.3"/>
<line x1="262.10" y1="176.10" x2="268.90" y2="176.10" stroke="#000" stroke-width="1.3"/>
<rect x="305" y="80.4" width="80" height="71.5" fill="#ffff5a" stroke="#000" stroke-width="4"/>
<line x1="408.50" y1="120.00" x2="408.50" y2="648.00" stroke="#000" stroke-width="1.2"/>
<line x1="408.50" y1="120.50" x2="680.70" y2="120.50" stroke="#000" stroke-width="1.2"/>
<line x1="408.50" y1="184.30" x2="680.70" y2="184.30" stroke="#000" stroke-width="1.2"/>
<line x1="408.50" y1="264.30" x2="680.70" y2="264.30" stroke="#000" stroke-width="1.2"/>
<line x1="408.50" y1="336.20" x2="680.70" y2="336.20" stroke="#000" stroke-width="1.2"/>
<line x1="408.50" y1="408.20" x2="680.70" y2="408.20" stroke="#000" stroke-width="1.2"/>
<line x1="408.50" y1="472.30" x2="680.70" y2="472.30" stroke="#000" stroke-width="1.2"/>
<line x1="408.50" y1="536.20" x2="680.70" y2="536.20" stroke="#000" stroke-width="1.2"/>
<line x1="408.50" y1="584.40" x2="680.70" y2="584.40" stroke="#000" stroke-width="1.2"/>
<line x1="577.50" y1="120.50" x2="577.50" y2="135.60" stroke="#000" stroke-width="1.3"/>
<line x1="577.50" y1="147.70" x2="577.50" y2="171.80" stroke="#000" stroke-width="1.3"/>
<line x1="561.30" y1="135.60" x2="593.90" y2="135.60" stroke="#000" stroke-width="1.3"/>
<line x1="561.30" y1="147.70" x2="593.90" y2="147.70" stroke="#000" stroke-width="1.3"/>
<line x1="564.60" y1="147.70" x2="567.60" y2="135.60" stroke="#000" stroke-width="1.3"/>
<line x1="571.40" y1="147.70" x2="574.40" y2="135.60" stroke="#000" stroke-width="1.3"/>
<line x1="577.80" y1="147.70" x2="580.70" y2="135.60" stroke="#000" stroke-width="1.3"/>
<line x1="583.90" y1="147.70" x2="587.20" y2="135.60" stroke="#000" stroke-width="1.3"/>
<line x1="567.30" y1="171.80" x2="587.70" y2="171.80" stroke="#000" stroke-width="1.3"/>
<line x1="571.30" y1="174.70" x2="583.70" y2="174.70" stroke="#000" stroke-width="1.3"/>
<line x1="574.10" y1="176.80" x2="580.90" y2="176.80" stroke="#000" stroke-width="1.3"/>
<line x1="576.50" y1="184.30" x2="576.50" y2="199.40" stroke="#000" stroke-width="1.3"/>
<line x1="576.50" y1="211.50" x2="576.50" y2="235.60" stroke="#000" stroke-width="1.3"/>
<line x1="560.30" y1="199.40" x2="592.90" y2="199.40" stroke="#000" stroke-width="1.3"/>
<line x1="560.30" y1="211.50" x2="592.90" y2="211.50" stroke="#000" stroke-width="1.3"/>
<line x1="563.60" y1="211.50" x2="566.60" y2="199.40" stroke="#000" stroke-width="1.3"/>
<line x1="570.40" y1="211.50" x2="573.40" y2="199.40" stroke="#000" stroke-width="1.3"/>
<line x1="576.80" y1="211.50" x2="579.70" y2="199.40" stroke="#000" stroke-width="1.3"/>
<line x1="582.90" y1="211.50" x2="586.20" y2="199.40" stroke="#000" stroke-width="1.3"/>
<line x1="566.30" y1="235.60" x2="586.70" y2="235.60" stroke="#000" stroke-width="1.3"/>
<line x1="570.30" y1="238.50" x2="582.70" y2="238.50" stroke="#000" stroke-width="1.3"/>
<line x1="573.10" y1="240.60" x2="579.90" y2="240.60" stroke="#000" stroke-width="1.3"/>
<line x1="576.50" y1="264.30" x2="576.50" y2="279.40" stroke="#000" stroke-width="1.3"/>
<line x1="576.50" y1="291.50" x2="576.50" y2="315.60" stroke="#000" stroke-width="1.3"/>
<line x1="560.30" y1="279.40" x2="592.90" y2="279.40" stroke="#000" stroke-width="1.3"/>
<line x1="560.30" y1="291.50" x2="592.90" y2="291.50" stroke="#000" stroke-width="1.3"/>
<line x1="563.60" y1="291.50" x2="566.60" y2="279.40" stroke="#000" stroke-width="1.3"/>
<line x1="570.40" y1="291.50" x2="573.40" y2="279.40" stroke="#000" stroke-width="1.3"/>
<line x1="576.80" y1="291.50" x2="579.70" y2="279.40" stroke="#000" stroke-width="1.3"/>
<line x1="582.90" y1="291.50" x2="586.20" y2="279.40" stroke="#000" stroke-width="1.3"/>
<line x1="566.30" y1="315.60" x2="586.70" y2="315.60" stroke="#000" stroke-width="1.3"/>
<line x1="570.30" y1="318.50" x2="582.70" y2="318.50" stroke="#000" stroke-width="1.3"/>
<line x1="573.10" y1="320.60" x2="579.90" y2="320.60" stroke="#000" stroke-width="1.3"/>
<line x1="576.50" y1="336.20" x2="576.50" y2="351.30" stroke="#000" stroke-width="1.3"/>
<line x1="576.50" y1="363.40" x2="576.50" y2="387.50" stroke="#000" stroke-width="1.3"/>
<line x1="560.30" y1="351.30" x2="592.90" y2="351.30" stroke="#000" stroke-width="1.3"/>
<line x1="560.30" y1="363.40" x2="592.90" y2="363.40" stroke="#000" stroke-width="1.3"/>
<line x1="563.60" y1="363.40" x2="566.60" y2="351.30" stroke="#000" stroke-width="1.3"/>
<line x1="570.40" y1="363.40" x2="573.40" y2="351.30" stroke="#000" stroke-width="1.3"/>
<line x1="576.80" y1="363.40" x2="579.70" y2="351.30" stroke="#000" stroke-width="1.3"/>
<line x1="582.90" y1="363.40" x2="586.20" y2="351.30" stroke="#000" stroke-width="1.3"/>
<line x1="566.30" y1="387.50" x2="586.70" y2="387.50" stroke="#000" stroke-width="1.3"/>
<line x1="570.30" y1="390.40" x2="582.70" y2="390.40" stroke="#000" stroke-width="1.3"/>
<line x1="573.10" y1="392.50" x2="579.90" y2="392.50" stroke="#000" stroke-width="1.3"/>
<line x1="576.50" y1="408.20" x2="576.50" y2="423.30" stroke="#000" stroke-width="1.3"/>
<line x1="576.50" y1="435.40" x2="576.50" y2="459.50" stroke="#000" stroke-width="1.3"/>
<line x1="560.30" y1="423.30" x2="592.90" y2="423.30" stroke="#000" stroke-width="1.3"/>
<line x1="560.30" y1="435.40" x2="592.90" y2="435.40" stroke="#000" stroke-width="1.3"/>
<line x1="563.60" y1="435.40" x2="566.60" y2="423.30" stroke="#000" stroke-width="1.3"/>
<line x1="570.40" y1="435.40" x2="573.40" y2="423.30" stroke="#000" stroke-width="1.3"/>
<line x1="576.80" y1="435.40" x2="579.70" y2="423.30" stroke="#000" stroke-width="1.3"/>
<line x1="582.90" y1="435.40" x2="586.20" y2="423.30" stroke="#000" stroke-width="1.3"/>
<line x1="566.30" y1="459.50" x2="586.70" y2="459.50" stroke="#000" stroke-width="1.3"/>
<line x1="570.30" y1="462.40" x2="582.70" y2="462.40" stroke="#000" stroke-width="1.3"/>
<line x1="573.10" y1="464.50" x2="579.90" y2="464.50" stroke="#000" stroke-width="1.3"/>
<line x1="576.50" y1="472.30" x2="576.50" y2="487.40" stroke="#000" stroke-width="1.3"/>
<line x1="576.50" y1="499.50" x2="576.50" y2="523.60" stroke="#000" stroke-width="1.3"/>
<line x1="560.30" y1="487.40" x2="592.90" y2="487.40" stroke="#000" stroke-width="1.3"/>
<line x1="560.30" y1="499.50" x2="592.90" y2="499.50" stroke="#000" stroke-width="1.3"/>
<line x1="563.60" y1="499.50" x2="566.60" y2="487.40" stroke="#000" stroke-width="1.3"/>
<line x1="570.40" y1="499.50" x2="573.40" y2="487.40" stroke="#000" stroke-width="1.3"/>
<line x1="576.80" y1="499.50" x2="579.70" y2="487.40" stroke="#000" stroke-width="1.3"/>
<line x1="582.90" y1="499.50" x2="586.20" y2="487.40" stroke="#000" stroke-width="1.3"/>
<line x1="566.30" y1="523.60" x2="586.70" y2="523.60" stroke="#000" stroke-width="1.3"/>
<line x1="570.30" y1="526.50" x2="582.70" y2="526.50" stroke="#000" stroke-width="1.3"/>
<line x1="573.10" y1="528.60" x2="579.90" y2="528.60" stroke="#000" stroke-width="1.3"/>
<line x1="576.50" y1="536.20" x2="576.50" y2="551.30" stroke="#000" stroke-width="1.3"/>
<line x1="576.50" y1="563.40" x2="576.50" y2="587.50" stroke="#000" stroke-width="1.3"/>
<line x1="560.30" y1="551.30" x2="592.90" y2="551.30" stroke="#000" stroke-width="1.3"/>
<line x1="560.30" y1="563.40" x2="592.90" y2="563.40" stroke="#000" stroke-width="1.3"/>
<line x1="563.60" y1="563.40" x2="566.60" y2="551.30" stroke="#000" stroke-width="1.3"/>
<line x1="570.40" y1="563.40" x2="573.40" y2="551.30" stroke="#000" stroke-width="1.3"/>
<line x1="576.80" y1="563.40" x2="579.70" y2="551.30" stroke="#000" stroke-width="1.3"/>
<line x1="582.90" y1="563.40" x2="586.20" y2="551.30" stroke="#000" stroke-width="1.3"/>
<line x1="566.30" y1="587.50" x2="586.70" y2="587.50" stroke="#000" stroke-width="1.3"/>
<line x1="570.30" y1="590.40" x2="582.70" y2="590.40" stroke="#000" stroke-width="1.3"/>
<line x1="573.10" y1="592.50" x2="579.90" y2="592.50" stroke="#000" stroke-width="1.3"/>
<line x1="576.50" y1="584.40" x2="576.50" y2="599.50" stroke="#000" stroke-width="1.3"/>
<line x1="576.50" y1="611.60" x2="576.50" y2="635.70" stroke="#000" stroke-width="1.3"/>
<line x1="560.30" y1="599.50" x2="592.90" y2="599.50" stroke="#000" stroke-width="1.3"/>
<line x1="560.30" y1="611.60" x2="592.90" y2="611.60" stroke="#000" stroke-width="1.3"/>
<line x1="563.60" y1="611.60" x2="566.60" y2="599.50" stroke="#000" stroke-width="1.3"/>
<line x1="570.40" y1="611.60" x2="573.40" y2="599.50" stroke="#000" stroke-width="1.3"/>
<line x1="576.80" y1="611.60" x2="579.70" y2="599.50" stroke="#000" stroke-width="1.3"/>
<line x1="582.90" y1="611.60" x2="586.20" y2="599.50" stroke="#000" stroke-width="1.3"/>
<line x1="566.30" y1="635.70" x2="586.70" y2="635.70" stroke="#000" stroke-width="1.3"/>
<line x1="570.30" y1="638.60" x2="582.70" y2="638.60" stroke="#000" stroke-width="1.3"/>
<line x1="573.10" y1="640.70" x2="579.90" y2="640.70" stroke="#000" stroke-width="1.3"/>
<g stroke="#0a8ce6" stroke-width="2.9" fill="none">
<line x1="481.45" y1="120.5" x2="481.45" y2="135.7"/>
<line x1="481.45" y1="147.7" x2="481.45" y2="171.5"/>
<line x1="465.25" y1="135.70" x2="497.45" y2="135.70"/>
<line x1="465.25" y1="147.70" x2="497.45" y2="147.70"/>
<line x1="468.95" y1="147.70" x2="471.55" y2="135.70" stroke-width="3.3"/>
<line x1="475.25" y1="147.70" x2="477.85" y2="135.70" stroke-width="3.3"/>
<line x1="481.55" y1="147.70" x2="484.15" y2="135.70" stroke-width="3.3"/>
<line x1="487.85" y1="147.70" x2="490.45" y2="135.70" stroke-width="3.3"/>
</g>
<path d="M471.45,170.50 H491.45 V173.50 H487.25 V176.40 H484.25 V178.50 H478.65 V176.40 H475.65 V173.50 H471.45 Z" fill="#0a8ce6"/>
<g stroke="#0a8ce6" stroke-width="2.9" fill="none">
<line x1="480.55" y1="184.3" x2="480.55" y2="199.5"/>
<line x1="480.55" y1="211.5" x2="480.55" y2="235.3"/>
<line x1="464.35" y1="199.50" x2="496.55" y2="199.50"/>
<line x1="464.35" y1="211.50" x2="496.55" y2="211.50"/>
<line x1="468.05" y1="211.50" x2="470.65" y2="199.50" stroke-width="3.3"/>
<line x1="474.35" y1="211.50" x2="476.95" y2="199.50" stroke-width="3.3"/>
<line x1="480.65" y1="211.50" x2="483.25" y2="199.50" stroke-width="3.3"/>
<line x1="486.95" y1="211.50" x2="489.55" y2="199.50" stroke-width="3.3"/>
</g>
<path d="M470.55,234.30 H490.55 V237.30 H486.35 V240.20 H483.35 V242.30 H477.75 V240.20 H474.75 V237.30 H470.55 Z" fill="#0a8ce6"/>
<g stroke="#0a8ce6" stroke-width="2.9" fill="none">
<line x1="480.55" y1="264.3" x2="480.55" y2="279.5"/>
<line x1="480.55" y1="291.5" x2="480.55" y2="315.3"/>
<line x1="464.35" y1="279.50" x2="496.55" y2="279.50"/>
<line x1="464.35" y1="291.50" x2="496.55" y2="291.50"/>
<line x1="468.05" y1="291.50" x2="470.65" y2="279.50" stroke-width="3.3"/>
<line x1="474.35" y1="291.50" x2="476.95" y2="279.50" stroke-width="3.3"/>
<line x1="480.65" y1="291.50" x2="483.25" y2="279.50" stroke-width="3.3"/>
<line x1="486.95" y1="291.50" x2="489.55" y2="279.50" stroke-width="3.3"/>
</g>
<path d="M470.55,314.30 H490.55 V317.30 H486.35 V320.20 H483.35 V322.30 H477.75 V320.20 H474.75 V317.30 H470.55 Z" fill="#0a8ce6"/>
<g stroke="#0a8ce6" stroke-width="2.9" fill="none">
<line x1="480.55" y1="336.2" x2="480.55" y2="351.4"/>
<line x1="480.55" y1="363.4" x2="480.55" y2="387.2"/>
<line x1="464.35" y1="351.40" x2="496.55" y2="351.40"/>
<line x1="464.35" y1="363.40" x2="496.55" y2="363.40"/>
<line x1="468.05" y1="363.40" x2="470.65" y2="351.40" stroke-width="3.3"/>
<line x1="474.35" y1="363.40" x2="476.95" y2="351.40" stroke-width="3.3"/>
<line x1="480.65" y1="363.40" x2="483.25" y2="351.40" stroke-width="3.3"/>
<line x1="486.95" y1="363.40" x2="489.55" y2="351.40" stroke-width="3.3"/>
</g>
<path d="M470.55,386.20 H490.55 V389.20 H486.35 V392.10 H483.35 V394.20 H477.75 V392.10 H474.75 V389.20 H470.55 Z" fill="#0a8ce6"/>
<g stroke="#0a8ce6" stroke-width="2.9" fill="none">
<line x1="480.55" y1="408.2" x2="480.55" y2="423.4"/>
<line x1="480.55" y1="435.4" x2="480.55" y2="459.2"/>
<line x1="464.35" y1="423.40" x2="496.55" y2="423.40"/>
<line x1="464.35" y1="435.40" x2="496.55" y2="435.40"/>
<line x1="468.05" y1="435.40" x2="470.65" y2="423.40" stroke-width="3.3"/>
<line x1="474.35" y1="435.40" x2="476.95" y2="423.40" stroke-width="3.3"/>
<line x1="480.65" y1="435.40" x2="483.25" y2="423.40" stroke-width="3.3"/>
<line x1="486.95" y1="435.40" x2="489.55" y2="423.40" stroke-width="3.3"/>
</g>
<path d="M470.55,458.20 H490.55 V461.20 H486.35 V464.10 H483.35 V466.20 H477.75 V464.10 H474.75 V461.20 H470.55 Z" fill="#0a8ce6"/>
<g stroke="#0a8ce6" stroke-width="2.9" fill="none">
<line x1="480.55" y1="472.3" x2="480.55" y2="487.5"/>
<line x1="480.55" y1="499.5" x2="480.55" y2="523.3"/>
<line x1="464.35" y1="487.50" x2="496.55" y2="487.50"/>
<line x1="464.35" y1="499.50" x2="496.55" y2="499.50"/>
<line x1="468.05" y1="499.50" x2="470.65" y2="487.50" stroke-width="3.3"/>
<line x1="474.35" y1="499.50" x2="476.95" y2="487.50" stroke-width="3.3"/>
<line x1="480.65" y1="499.50" x2="483.25" y2="487.50" stroke-width="3.3"/>
<line x1="486.95" y1="499.50" x2="489.55" y2="487.50" stroke-width="3.3"/>
</g>
<path d="M470.55,522.30 H490.55 V525.30 H486.35 V528.20 H483.35 V530.30 H477.75 V528.20 H474.75 V525.30 H470.55 Z" fill="#0a8ce6"/>
<g stroke="#0a8ce6" stroke-width="2.9" fill="none">
<line x1="480.55" y1="536.2" x2="480.55" y2="551.4000000000001"/>
<line x1="480.55" y1="563.4000000000001" x2="480.55" y2="587.2"/>
<line x1="464.35" y1="551.40" x2="496.55" y2="551.40"/>
<line x1="464.35" y1="563.40" x2="496.55" y2="563.40"/>
<line x1="468.05" y1="563.40" x2="470.65" y2="551.40" stroke-width="3.3"/>
<line x1="474.35" y1="563.40" x2="476.95" y2="551.40" stroke-width="3.3"/>
<line x1="480.65" y1="563.40" x2="483.25" y2="551.40" stroke-width="3.3"/>
<line x1="486.95" y1="563.40" x2="489.55" y2="551.40" stroke-width="3.3"/>
</g>
<path d="M470.55,586.20 H490.55 V589.20 H486.35 V592.10 H483.35 V594.20 H477.75 V592.10 H474.75 V589.20 H470.55 Z" fill="#0a8ce6"/>
<g stroke="#0a8ce6" stroke-width="2.9" fill="none">
<line x1="480.55" y1="584.4" x2="480.55" y2="599.6"/>
<line x1="480.55" y1="611.6" x2="480.55" y2="635.4"/>
<line x1="464.35" y1="599.60" x2="496.55" y2="599.60"/>
<line x1="464.35" y1="611.60" x2="496.55" y2="611.60"/>
<line x1="468.05" y1="611.60" x2="470.65" y2="599.60" stroke-width="3.3"/>
<line x1="474.35" y1="611.60" x2="476.95" y2="599.60" stroke-width="3.3"/>
<line x1="480.65" y1="611.60" x2="483.25" y2="599.60" stroke-width="3.3"/>
<line x1="486.95" y1="611.60" x2="489.55" y2="599.60" stroke-width="3.3"/>
</g>
<path d="M470.55,634.40 H490.55 V637.40 H486.35 V640.30 H483.35 V642.40 H477.75 V640.30 H474.75 V637.40 H470.55 Z" fill="#0a8ce6"/>
<rect x="432.50" y="111.60" width="39" height="14.6" fill="#fff" stroke="#000" stroke-width="1.15"/>
<path d="M435.00,119.70 C436.80,115.90 439.50,114.90 443.50,115.10 C445.10,114.50 447.40,114.50 449.00,115.10 C450.60,114.50 452.90,114.50 454.50,115.10 C456.10,114.50 458.40,114.50 460.00,115.10 C464.00,114.90 466.50,115.90 468.30,119.60" fill="none" stroke="#2a2a38" stroke-width="1.3"/>
<path d="M443.50,115.10 C440.90,115.60 441.30,121.90 443.50,122.70 C445.70,121.90 446.10,115.60 443.50,115.10" fill="none" stroke="#2a2a38" stroke-width="1.3"/>
<path d="M449.00,115.10 C446.40,115.60 446.80,121.90 449.00,122.70 C451.20,121.90 451.60,115.60 449.00,115.10" fill="none" stroke="#2a2a38" stroke-width="1.3"/>
<path d="M454.50,115.10 C451.90,115.60 452.30,121.90 454.50,122.70 C456.70,121.90 457.10,115.60 454.50,115.10" fill="none" stroke="#2a2a38" stroke-width="1.3"/>
<path d="M460.00,115.10 C457.40,115.60 457.80,121.90 460.00,122.70 C462.20,121.90 462.60,115.60 460.00,115.10" fill="none" stroke="#2a2a38" stroke-width="1.3"/>
<rect x="528.50" y="111.60" width="39" height="14.6" fill="#fff" stroke="#000" stroke-width="1.15"/>
<path d="M531.00,119.70 C532.80,115.90 535.50,114.90 539.50,115.10 C541.10,114.50 543.40,114.50 545.00,115.10 C546.60,114.50 548.90,114.50 550.50,115.10 C552.10,114.50 554.40,114.50 556.00,115.10 C560.00,114.90 562.50,115.90 564.30,119.60" fill="none" stroke="#2a2a38" stroke-width="1.3"/>
<path d="M539.50,115.10 C536.90,115.60 537.30,121.90 539.50,122.70 C541.70,121.90 542.10,115.60 539.50,115.10" fill="none" stroke="#2a2a38" stroke-width="1.3"/>
<path d="M545.00,115.10 C542.40,115.60 542.80,121.90 545.00,122.70 C547.20,121.90 547.60,115.60 545.00,115.10" fill="none" stroke="#2a2a38" stroke-width="1.3"/>
<path d="M550.50,115.10 C547.90,115.60 548.30,121.90 550.50,122.70 C552.70,121.90 553.10,115.60 550.50,115.10" fill="none" stroke="#2a2a38" stroke-width="1.3"/>
<path d="M556.00,115.10 C553.40,115.60 553.80,121.90 556.00,122.70 C558.20,121.90 558.60,115.60 556.00,115.10" fill="none" stroke="#2a2a38" stroke-width="1.3"/>
<rect x="626.50" y="111.60" width="39" height="14.6" fill="#fff" stroke="#000" stroke-width="1.15"/>
<path d="M629.00,119.70 C630.80,115.90 633.50,114.90 637.50,115.10 C639.10,114.50 641.40,114.50 643.00,115.10 C644.60,114.50 646.90,114.50 648.50,115.10 C650.10,114.50 652.40,114.50 654.00,115.10 C658.00,114.90 660.50,115.90 662.30,119.60" fill="none" stroke="#2a2a38" stroke-width="1.3"/>
<path d="M637.50,115.10 C634.90,115.60 635.30,121.90 637.50,122.70 C639.70,121.90 640.10,115.60 637.50,115.10" fill="none" stroke="#2a2a38" stroke-width="1.3"/>
<path d="M643.00,115.10 C640.40,115.60 640.80,121.90 643.00,122.70 C645.20,121.90 645.60,115.60 643.00,115.10" fill="none" stroke="#2a2a38" stroke-width="1.3"/>
<path d="M648.50,115.10 C645.90,115.60 646.30,121.90 648.50,122.70 C650.70,121.90 651.10,115.60 648.50,115.10" fill="none" stroke="#2a2a38" stroke-width="1.3"/>
<path d="M654.00,115.10 C651.40,115.60 651.80,121.90 654.00,122.70 C656.20,121.90 656.60,115.60 654.00,115.10" fill="none" stroke="#2a2a38" stroke-width="1.3"/>
<rect x="431.60" y="175.40" width="39" height="14.6" fill="#fff" stroke="#000" stroke-width="1.15"/>
<path d="M434.10,183.50 C435.90,179.70 438.60,178.70 442.60,178.90 C444.20,178.30 446.50,178.30 448.10,178.90 C449.70,178.30 452.00,178.30 453.60,178.90 C455.20,178.30 457.50,178.30 459.10,178.90 C463.10,178.70 465.60,179.70 467.40,183.40" fill="none" stroke="#2a2a38" stroke-width="1.3"/>
<path d="M442.60,178.90 C440.00,179.40 440.40,185.70 442.60,186.50 C444.80,185.70 445.20,179.40 442.60,178.90" fill="none" stroke="#2a2a38" stroke-width="1.3"/>
<path d="M448.10,178.90 C445.50,179.40 445.90,185.70 448.10,186.50 C450.30,185.70 450.70,179.40 448.10,178.90" fill="none" stroke="#2a2a38" stroke-width="1.3"/>
<path d="M453.60,178.90 C451.00,179.40 451.40,185.70 453.60,186.50 C455.80,185.70 456.20,179.40 453.60,178.90" fill="none" stroke="#2a2a38" stroke-width="1.3"/>
<path d="M459.10,178.90 C456.50,179.40 456.90,185.70 459.10,186.50 C461.30,185.70 461.70,179.40 459.10,178.90" fill="none" stroke="#2a2a38" stroke-width="1.3"/>
<rect x="527.60" y="175.40" width="39" height="14.6" fill="#fff" stroke="#000" stroke-width="1.15"/>
<path d="M530.10,183.50 C531.90,179.70 534.60,178.70 538.60,178.90 C540.20,178.30 542.50,178.30 544.10,178.90 C545.70,178.30 548.00,178.30 549.60,178.90 C551.20,178.30 553.50,178.30 555.10,178.90 C559.10,178.70 561.60,179.70 563.40,183.40" fill="none" stroke="#2a2a38" stroke-width="1.3"/>
<path d="M538.60,178.90 C536.00,179.40 536.40,185.70 538.60,186.50 C540.80,185.70 541.20,179.40 538.60,178.90" fill="none" stroke="#2a2a38" stroke-width="1.3"/>
<path d="M544.10,178.90 C541.50,179.40 541.90,185.70 544.10,186.50 C546.30,185.70 546.70,179.40 544.10,178.90" fill="none" stroke="#2a2a38" stroke-width="1.3"/>
<path d="M549.60,178.90 C547.00,179.40 547.40,185.70 549.60,186.50 C551.80,185.70 552.20,179.40 549.60,178.90" fill="none" stroke="#2a2a38" stroke-width="1.3"/>
<path d="M555.10,178.90 C552.50,179.40 552.90,185.70 555.10,186.50 C557.30,185.70 557.70,179.40 555.10,178.90" fill="none" stroke="#2a2a38" stroke-width="1.3"/>
<rect x="625.60" y="175.40" width="39" height="14.6" fill="#fff" stroke="#000" stroke-width="1.15"/>
<path d="M628.10,183.50 C629.90,179.70 632.60,178.70 636.60,178.90 C638.20,178.30 640.50,178.30 642.10,178.90 C643.70,178.30 646.00,178.30 647.60,178.90 C649.20,178.30 651.50,178.30 653.10,178.90 C657.10,178.70 659.60,179.70 661.40,183.40" fill="none" stroke="#2a2a38" stroke-width="1.3"/>
<path d="M636.60,178.90 C634.00,179.40 634.40,185.70 636.60,186.50 C638.80,185.70 639.20,179.40 636.60,178.90" fill="none" stroke="#2a2a38" stroke-width="1.3"/>
<path d="M642.10,178.90 C639.50,179.40 639.90,185.70 642.10,186.50 C644.30,185.70 644.70,179.40 642.10,178.90" fill="none" stroke="#2a2a38" stroke-width="1.3"/>
<path d="M647.60,178.90 C645.00,179.40 645.40,185.70 647.60,186.50 C649.80,185.70 650.20,179.40 647.60,178.90" fill="none" stroke="#2a2a38" stroke-width="1.3"/>
<path d="M653.10,178.90 C650.50,179.40 650.90,185.70 653.10,186.50 C655.30,185.70 655.70,179.40 653.10,178.90" fill="none" stroke="#2a2a38" stroke-width="1.3"/>
<rect x="431.60" y="255.40" width="39" height="14.6" fill="#fff" stroke="#000" stroke-width="1.15"/>
<path d="M434.10,263.50 C435.90,259.70 438.60,258.70 442.60,258.90 C444.20,258.30 446.50,258.30 448.10,258.90 C449.70,258.30 452.00,258.30 453.60,258.90 C455.20,258.30 457.50,258.30 459.10,258.90 C463.10,258.70 465.60,259.70 467.40,263.40" fill="none" stroke="#2a2a38" stroke-width="1.3"/>
<path d="M442.60,258.90 C440.00,259.40 440.40,265.70 442.60,266.50 C444.80,265.70 445.20,259.40 442.60,258.90" fill="none" stroke="#2a2a38" stroke-width="1.3"/>
<path d="M448.10,258.90 C445.50,259.40 445.90,265.70 448.10,266.50 C450.30,265.70 450.70,259.40 448.10,258.90" fill="none" stroke="#2a2a38" stroke-width="1.3"/>
<path d="M453.60,258.90 C451.00,259.40 451.40,265.70 453.60,266.50 C455.80,265.70 456.20,259.40 453.60,258.90" fill="none" stroke="#2a2a38" stroke-width="1.3"/>
<path d="M459.10,258.90 C456.50,259.40 456.90,265.70 459.10,266.50 C461.30,265.70 461.70,259.40 459.10,258.90" fill="none" stroke="#2a2a38" stroke-width="1.3"/>
<rect x="527.60" y="255.40" width="39" height="14.6" fill="#fff" stroke="#000" stroke-width="1.15"/>
<path d="M530.10,263.50 C531.90,259.70 534.60,258.70 538.60,258.90 C540.20,258.30 542.50,258.30 544.10,258.90 C545.70,258.30 548.00,258.30 549.60,258.90 C551.20,258.30 553.50,258.30 555.10,258.90 C559.10,258.70 561.60,259.70 563.40,263.40" fill="none" stroke="#2a2a38" stroke-width="1.3"/>
<path d="M538.60,258.90 C536.00,259.40 536.40,265.70 538.60,266.50 C540.80,265.70 541.20,259.40 538.60,258.90" fill="none" stroke="#2a2a38" stroke-width="1.3"/>
<path d="M544.10,258.90 C541.50,259.40 541.90,265.70 544.10,266.50 C546.30,265.70 546.70,259.40 544.10,258.90" fill="none" stroke="#2a2a38" stroke-width="1.3"/>
<path d="M549.60,258.90 C547.00,259.40 547.40,265.70 549.60,266.50 C551.80,265.70 552.20,259.40 549.60,258.90" fill="none" stroke="#2a2a38" stroke-width="1.3"/>
<path d="M555.10,258.90 C552.50,259.40 552.90,265.70 555.10,266.50 C557.30,265.70 557.70,259.40 555.10,258.90" fill="none" stroke="#2a2a38" stroke-width="1.3"/>
<rect x="625.60" y="255.40" width="39" height="14.6" fill="#fff" stroke="#000" stroke-width="1.15"/>
<path d="M628.10,263.50 C629.90,259.70 632.60,258.70 636.60,258.90 C638.20,258.30 640.50,258.30 642.10,258.90 C643.70,258.30 646.00,258.30 647.60,258.90 C649.20,258.30 651.50,258.30 653.10,258.90 C657.10,258.70 659.60,259.70 661.40,263.40" fill="none" stroke="#2a2a38" stroke-width="1.3"/>
<path d="M636.60,258.90 C634.00,259.40 634.40,265.70 636.60,266.50 C638.80,265.70 639.20,259.40 636.60,258.90" fill="none" stroke="#2a2a38" stroke-width="1.3"/>
<path d="M642.10,258.90 C639.50,259.40 639.90,265.70 642.10,266.50 C644.30,265.70 644.70,259.40 642.10,258.90" fill="none" stroke="#2a2a38" stroke-width="1.3"/>
<path d="M647.60,258.90 C645.00,259.40 645.40,265.70 647.60,266.50 C649.80,265.70 650.20,259.40 647.60,258.90" fill="none" stroke="#2a2a38" stroke-width="1.3"/>
<path d="M653.10,258.90 C650.50,259.40 650.90,265.70 653.10,266.50 C655.30,265.70 655.70,259.40 653.10,258.90" fill="none" stroke="#2a2a38" stroke-width="1.3"/>
<rect x="431.60" y="327.30" width="39" height="14.6" fill="#fff" stroke="#000" stroke-width="1.15"/>
<path d="M434.10,335.40 C435.90,331.60 438.60,330.60 442.60,330.80 C444.20,330.20 446.50,330.20 448.10,330.80 C449.70,330.20 452.00,330.20 453.60,330.80 C455.20,330.20 457.50,330.20 459.10,330.80 C463.10,330.60 465.60,331.60 467.40,335.30" fill="none" stroke="#2a2a38" stroke-width="1.3"/>
<path d="M442.60,330.80 C440.00,331.30 440.40,337.60 442.60,338.40 C444.80,337.60 445.20,331.30 442.60,330.80" fill="none" stroke="#2a2a38" stroke-width="1.3"/>
<path d="M448.10,330.80 C445.50,331.30 445.90,337.60 448.10,338.40 C450.30,337.60 450.70,331.30 448.10,330.80" fill="none" stroke="#2a2a38" stroke-width="1.3"/>
<path d="M453.60,330.80 C451.00,331.30 451.40,337.60 453.60,338.40 C455.80,337.60 456.20,331.30 453.60,330.80" fill="none" stroke="#2a2a38" stroke-width="1.3"/>
<path d="M459.10,330.80 C456.50,331.30 456.90,337.60 459.10,338.40 C461.30,337.60 461.70,331.30 459.10,330.80" fill="none" stroke="#2a2a38" stroke-width="1.3"/>
<rect x="527.60" y="327.30" width="39" height="14.6" fill="#fff" stroke="#000" stroke-width="1.15"/>
<path d="M530.10,335.40 C531.90,331.60 534.60,330.60 538.60,330.80 C540.20,330.20 542.50,330.20 544.10,330.80 C545.70,330.20 548.00,330.20 549.60,330.80 C551.20,330.20 553.50,330.20 555.10,330.80 C559.10,330.60 561.60,331.60 563.40,335.30" fill="none" stroke="#2a2a38" stroke-width="1.3"/>
<path d="M538.60,330.80 C536.00,331.30 536.40,337.60 538.60,338.40 C540.80,337.60 541.20,331.30 538.60,330.80" fill="none" stroke="#2a2a38" stroke-width="1.3"/>
<path d="M544.10,330.80 C541.50,331.30 541.90,337.60 544.10,338.40 C546.30,337.60 546.70,331.30 544.10,330.80" fill="none" stroke="#2a2a38" stroke-width="1.3"/>
<path d="M549.60,330.80 C547.00,331.30 547.40,337.60 549.60,338.40 C551.80,337.60 552.20,331.30 549.60,330.80" fill="none" stroke="#2a2a38" stroke-width="1.3"/>
<path d="M555.10,330.80 C552.50,331.30 552.90,337.60 555.10,338.40 C557.30,337.60 557.70,331.30 555.10,330.80" fill="none" stroke="#2a2a38" stroke-width="1.3"/>
<rect x="625.60" y="327.30" width="39" height="14.6" fill="#fff" stroke="#000" stroke-width="1.15"/>
<path d="M628.10,335.40 C629.90,331.60 632.60,330.60 636.60,330.80 C638.20,330.20 640.50,330.20 642.10,330.80 C643.70,330.20 646.00,330.20 647.60,330.80 C649.20,330.20 651.50,330.20 653.10,330.80 C657.10,330.60 659.60,331.60 661.40,335.30" fill="none" stroke="#2a2a38" stroke-width="1.3"/>
<path d="M636.60,330.80 C634.00,331.30 634.40,337.60 636.60,338.40 C638.80,337.60 639.20,331.30 636.60,330.80" fill="none" stroke="#2a2a38" stroke-width="1.3"/>
<path d="M642.10,330.80 C639.50,331.30 639.90,337.60 642.10,338.40 C644.30,337.60 644.70,331.30 642.10,330.80" fill="none" stroke="#2a2a38" stroke-width="1.3"/>
<path d="M647.60,330.80 C645.00,331.30 645.40,337.60 647.60,338.40 C649.80,337.60 650.20,331.30 647.60,330.80" fill="none" stroke="#2a2a38" stroke-width="1.3"/>
<path d="M653.10,330.80 C650.50,331.30 650.90,337.60 653.10,338.40 C655.30,337.60 655.70,331.30 653.10,330.80" fill="none" stroke="#2a2a38" stroke-width="1.3"/>
<rect x="431.60" y="399.30" width="39" height="14.6" fill="#fff" stroke="#000" stroke-width="1.15"/>
<path d="M434.10,407.40 C435.90,403.60 438.60,402.60 442.60,402.80 C444.20,402.20 446.50,402.20 448.10,402.80 C449.70,402.20 452.00,402.20 453.60,402.80 C455.20,402.20 457.50,402.20 459.10,402.80 C463.10,402.60 465.60,403.60 467.40,407.30" fill="none" stroke="#2a2a38" stroke-width="1.3"/>
<path d="M442.60,402.80 C440.00,403.30 440.40,409.60 442.60,410.40 C444.80,409.60 445.20,403.30 442.60,402.80" fill="none" stroke="#2a2a38" stroke-width="1.3"/>
<path d="M448.10,402.80 C445.50,403.30 445.90,409.60 448.10,410.40 C450.30,409.60 450.70,403.30 448.10,402.80" fill="none" stroke="#2a2a38" stroke-width="1.3"/>
<path d="M453.60,402.80 C451.00,403.30 451.40,409.60 453.60,410.40 C455.80,409.60 456.20,403.30 453.60,402.80" fill="none" stroke="#2a2a38" stroke-width="1.3"/>
<path d="M459.10,402.80 C456.50,403.30 456.90,409.60 459.10,410.40 C461.30,409.60 461.70,403.30 459.10,402.80" fill="none" stroke="#2a2a38" stroke-width="1.3"/>
<rect x="527.60" y="399.30" width="39" height="14.6" fill="#fff" stroke="#000" stroke-width="1.15"/>
<path d="M530.10,407.40 C531.90,403.60 534.60,402.60 538.60,402.80 C540.20,402.20 542.50,402.20 544.10,402.80 C545.70,402.20 548.00,402.20 549.60,402.80 C551.20,402.20 553.50,402.20 555.10,402.80 C559.10,402.60 561.60,403.60 563.40,407.30" fill="none" stroke="#2a2a38" stroke-width="1.3"/>
<path d="M538.60,402.80 C536.00,403.30 536.40,409.60 538.60,410.40 C540.80,409.60 541.20,403.30 538.60,402.80" fill="none" stroke="#2a2a38" stroke-width="1.3"/>
<path d="M544.10,402.80 C541.50,403.30 541.90,409.60 544.10,410.40 C546.30,409.60 546.70,403.30 544.10,402.80" fill="none" stroke="#2a2a38" stroke-width="1.3"/>
<path d="M549.60,402.80 C547.00,403.30 547.40,409.60 549.60,410.40 C551.80,409.60 552.20,403.30 549.60,402.80" fill="none" stroke="#2a2a38" stroke-width="1.3"/>
<path d="M555.10,402.80 C552.50,403.30 552.90,409.60 555.10,410.40 C557.30,409.60 557.70,403.30 555.10,402.80" fill="none" stroke="#2a2a38" stroke-width="1.3"/>
<rect x="625.60" y="399.30" width="39" height="14.6" fill="#fff" stroke="#000" stroke-width="1.15"/>
<path d="M628.10,407.40 C629.90,403.60 632.60,402.60 636.60,402.80 C638.20,402.20 640.50,402.20 642.10,402.80 C643.70,402.20 646.00,402.20 647.60,402.80 C649.20,402.20 651.50,402.20 653.10,402.80 C657.10,402.60 659.60,403.60 661.40,407.30" fill="none" stroke="#2a2a38" stroke-width="1.3"/>
<path d="M636.60,402.80 C634.00,403.30 634.40,409.60 636.60,410.40 C638.80,409.60 639.20,403.30 636.60,402.80" fill="none" stroke="#2a2a38" stroke-width="1.3"/>
<path d="M642.10,402.80 C639.50,403.30 639.90,409.60 642.10,410.40 C644.30,409.60 644.70,403.30 642.10,402.80" fill="none" stroke="#2a2a38" stroke-width="1.3"/>
<path d="M647.60,402.80 C645.00,403.30 645.40,409.60 647.60,410.40 C649.80,409.60 650.20,403.30 647.60,402.80" fill="none" stroke="#2a2a38" stroke-width="1.3"/>
<path d="M653.10,402.80 C650.50,403.30 650.90,409.60 653.10,410.40 C655.30,409.60 655.70,403.30 653.10,402.80" fill="none" stroke="#2a2a38" stroke-width="1.3"/>
<rect x="431.60" y="463.40" width="39" height="14.6" fill="#fff" stroke="#000" stroke-width="1.15"/>
<path d="M434.10,471.50 C435.90,467.70 438.60,466.70 442.60,466.90 C444.20,466.30 446.50,466.30 448.10,466.90 C449.70,466.30 452.00,466.30 453.60,466.90 C455.20,466.30 457.50,466.30 459.10,466.90 C463.10,466.70 465.60,467.70 467.40,471.40" fill="none" stroke="#2a2a38" stroke-width="1.3"/>
<path d="M442.60,466.90 C440.00,467.40 440.40,473.70 442.60,474.50 C444.80,473.70 445.20,467.40 442.60,466.90" fill="none" stroke="#2a2a38" stroke-width="1.3"/>
<path d="M448.10,466.90 C445.50,467.40 445.90,473.70 448.10,474.50 C450.30,473.70 450.70,467.40 448.10,466.90" fill="none" stroke="#2a2a38" stroke-width="1.3"/>
<path d="M453.60,466.90 C451.00,467.40 451.40,473.70 453.60,474.50 C455.80,473.70 456.20,467.40 453.60,466.90" fill="none" stroke="#2a2a38" stroke-width="1.3"/>
<path d="M459.10,466.90 C456.50,467.40 456.90,473.70 459.10,474.50 C461.30,473.70 461.70,467.40 459.10,466.90" fill="none" stroke="#2a2a38" stroke-width="1.3"/>
<rect x="527.60" y="463.40" width="39" height="14.6" fill="#fff" stroke="#000" stroke-width="1.15"/>
<path d="M530.10,471.50 C531.90,467.70 534.60,466.70 538.60,466.90 C540.20,466.30 542.50,466.30 544.10,466.90 C545.70,466.30 548.00,466.30 549.60,466.90 C551.20,466.30 553.50,466.30 555.10,466.90 C559.10,466.70 561.60,467.70 563.40,471.40" fill="none" stroke="#2a2a38" stroke-width="1.3"/>
<path d="M538.60,466.90 C536.00,467.40 536.40,473.70 538.60,474.50 C540.80,473.70 541.20,467.40 538.60,466.90" fill="none" stroke="#2a2a38" stroke-width="1.3"/>
<path d="M544.10,466.90 C541.50,467.40 541.90,473.70 544.10,474.50 C546.30,473.70 546.70,467.40 544.10,466.90" fill="none" stroke="#2a2a38" stroke-width="1.3"/>
<path d="M549.60,466.90 C547.00,467.40 547.40,473.70 549.60,474.50 C551.80,473.70 552.20,467.40 549.60,466.90" fill="none" stroke="#2a2a38" stroke-width="1.3"/>
<path d="M555.10,466.90 C552.50,467.40 552.90,473.70 555.10,474.50 C557.30,473.70 557.70,467.40 555.10,466.90" fill="none" stroke="#2a2a38" stroke-width="1.3"/>
<rect x="625.60" y="463.40" width="39" height="14.6" fill="#fff" stroke="#000" stroke-width="1.15"/>
<path d="M628.10,471.50 C629.90,467.70 632.60,466.70 636.60,466.90 C638.20,466.30 640.50,466.30 642.10,466.90 C643.70,466.30 646.00,466.30 647.60,466.90 C649.20,466.30 651.50,466.30 653.10,466.90 C657.10,466.70 659.60,467.70 661.40,471.40" fill="none" stroke="#2a2a38" stroke-width="1.3"/>
<path d="M636.60,466.90 C634.00,467.40 634.40,473.70 636.60,474.50 C638.80,473.70 639.20,467.40 636.60,466.90" fill="none" stroke="#2a2a38" stroke-width="1.3"/>
<path d="M642.10,466.90 C639.50,467.40 639.90,473.70 642.10,474.50 C644.30,473.70 644.70,467.40 642.10,466.90" fill="none" stroke="#2a2a38" stroke-width="1.3"/>
<path d="M647.60,466.90 C645.00,467.40 645.40,473.70 647.60,474.50 C649.80,473.70 650.20,467.40 647.60,466.90" fill="none" stroke="#2a2a38" stroke-width="1.3"/>
<path d="M653.10,466.90 C650.50,467.40 650.90,473.70 653.10,474.50 C655.30,473.70 655.70,467.40 653.10,466.90" fill="none" stroke="#2a2a38" stroke-width="1.3"/>
<rect x="431.60" y="527.30" width="39" height="14.6" fill="#fff" stroke="#000" stroke-width="1.15"/>
<path d="M434.10,535.40 C435.90,531.60 438.60,530.60 442.60,530.80 C444.20,530.20 446.50,530.20 448.10,530.80 C449.70,530.20 452.00,530.20 453.60,530.80 C455.20,530.20 457.50,530.20 459.10,530.80 C463.10,530.60 465.60,531.60 467.40,535.30" fill="none" stroke="#2a2a38" stroke-width="1.3"/>
<path d="M442.60,530.80 C440.00,531.30 440.40,537.60 442.60,538.40 C444.80,537.60 445.20,531.30 442.60,530.80" fill="none" stroke="#2a2a38" stroke-width="1.3"/>
<path d="M448.10,530.80 C445.50,531.30 445.90,537.60 448.10,538.40 C450.30,537.60 450.70,531.30 448.10,530.80" fill="none" stroke="#2a2a38" stroke-width="1.3"/>
<path d="M453.60,530.80 C451.00,531.30 451.40,537.60 453.60,538.40 C455.80,537.60 456.20,531.30 453.60,530.80" fill="none" stroke="#2a2a38" stroke-width="1.3"/>
<path d="M459.10,530.80 C456.50,531.30 456.90,537.60 459.10,538.40 C461.30,537.60 461.70,531.30 459.10,530.80" fill="none" stroke="#2a2a38" stroke-width="1.3"/>
<rect x="527.60" y="527.30" width="39" height="14.6" fill="#fff" stroke="#000" stroke-width="1.15"/>
<path d="M530.10,535.40 C531.90,531.60 534.60,530.60 538.60,530.80 C540.20,530.20 542.50,530.20 544.10,530.80 C545.70,530.20 548.00,530.20 549.60,530.80 C551.20,530.20 553.50,530.20 555.10,530.80 C559.10,530.60 561.60,531.60 563.40,535.30" fill="none" stroke="#2a2a38" stroke-width="1.3"/>
<path d="M538.60,530.80 C536.00,531.30 536.40,537.60 538.60,538.40 C540.80,537.60 541.20,531.30 538.60,530.80" fill="none" stroke="#2a2a38" stroke-width="1.3"/>
<path d="M544.10,530.80 C541.50,531.30 541.90,537.60 544.10,538.40 C546.30,537.60 546.70,531.30 544.10,530.80" fill="none" stroke="#2a2a38" stroke-width="1.3"/>
<path d="M549.60,530.80 C547.00,531.30 547.40,537.60 549.60,538.40 C551.80,537.60 552.20,531.30 549.60,530.80" fill="none" stroke="#2a2a38" stroke-width="1.3"/>
<path d="M555.10,530.80 C552.50,531.30 552.90,537.60 555.10,538.40 C557.30,537.60 557.70,531.30 555.10,530.80" fill="none" stroke="#2a2a38" stroke-width="1.3"/>
<rect x="625.60" y="527.30" width="39" height="14.6" fill="#fff" stroke="#000" stroke-width="1.15"/>
<path d="M628.10,535.40 C629.90,531.60 632.60,530.60 636.60,530.80 C638.20,530.20 640.50,530.20 642.10,530.80 C643.70,530.20 646.00,530.20 647.60,530.80 C649.20,530.20 651.50,530.20 653.10,530.80 C657.10,530.60 659.60,531.60 661.40,535.30" fill="none" stroke="#2a2a38" stroke-width="1.3"/>
<path d="M636.60,530.80 C634.00,531.30 634.40,537.60 636.60,538.40 C638.80,537.60 639.20,531.30 636.60,530.80" fill="none" stroke="#2a2a38" stroke-width="1.3"/>
<path d="M642.10,530.80 C639.50,531.30 639.90,537.60 642.10,538.40 C644.30,537.60 644.70,531.30 642.10,530.80" fill="none" stroke="#2a2a38" stroke-width="1.3"/>
<path d="M647.60,530.80 C645.00,531.30 645.40,537.60 647.60,538.40 C649.80,537.60 650.20,531.30 647.60,530.80" fill="none" stroke="#2a2a38" stroke-width="1.3"/>
<path d="M653.10,530.80 C650.50,531.30 650.90,537.60 653.10,538.40 C655.30,537.60 655.70,531.30 653.10,530.80" fill="none" stroke="#2a2a38" stroke-width="1.3"/>
<rect x="431.60" y="575.50" width="39" height="14.6" fill="#fff" stroke="#000" stroke-width="1.15"/>
<path d="M434.10,583.60 C435.90,579.80 438.60,578.80 442.60,579.00 C444.20,578.40 446.50,578.40 448.10,579.00 C449.70,578.40 452.00,578.40 453.60,579.00 C455.20,578.40 457.50,578.40 459.10,579.00 C463.10,578.80 465.60,579.80 467.40,583.50" fill="none" stroke="#2a2a38" stroke-width="1.3"/>
<path d="M442.60,579.00 C440.00,579.50 440.40,585.80 442.60,586.60 C444.80,585.80 445.20,579.50 442.60,579.00" fill="none" stroke="#2a2a38" stroke-width="1.3"/>
<path d="M448.10,579.00 C445.50,579.50 445.90,585.80 448.10,586.60 C450.30,585.80 450.70,579.50 448.10,579.00" fill="none" stroke="#2a2a38" stroke-width="1.3"/>
<path d="M453.60,579.00 C451.00,579.50 451.40,585.80 453.60,586.60 C455.80,585.80 456.20,579.50 453.60,579.00" fill="none" stroke="#2a2a38" stroke-width="1.3"/>
<path d="M459.10,579.00 C456.50,579.50 456.90,585.80 459.10,586.60 C461.30,585.80 461.70,579.50 459.10,579.00" fill="none" stroke="#2a2a38" stroke-width="1.3"/>
<rect x="527.60" y="575.50" width="39" height="14.6" fill="#fff" stroke="#000" stroke-width="1.15"/>
<path d="M530.10,583.60 C531.90,579.80 534.60,578.80 538.60,579.00 C540.20,578.40 542.50,578.40 544.10,579.00 C545.70,578.40 548.00,578.40 549.60,579.00 C551.20,578.40 553.50,578.40 555.10,579.00 C559.10,578.80 561.60,579.80 563.40,583.50" fill="none" stroke="#2a2a38" stroke-width="1.3"/>
<path d="M538.60,579.00 C536.00,579.50 536.40,585.80 538.60,586.60 C540.80,585.80 541.20,579.50 538.60,579.00" fill="none" stroke="#2a2a38" stroke-width="1.3"/>
<path d="M544.10,579.00 C541.50,579.50 541.90,585.80 544.10,586.60 C546.30,585.80 546.70,579.50 544.10,579.00" fill="none" stroke="#2a2a38" stroke-width="1.3"/>
<path d="M549.60,579.00 C547.00,579.50 547.40,585.80 549.60,586.60 C551.80,585.80 552.20,579.50 549.60,579.00" fill="none" stroke="#2a2a38" stroke-width="1.3"/>
<path d="M555.10,579.00 C552.50,579.50 552.90,585.80 555.10,586.60 C557.30,585.80 557.70,579.50 555.10,579.00" fill="none" stroke="#2a2a38" stroke-width="1.3"/>
<rect x="625.60" y="575.50" width="39" height="14.6" fill="#fff" stroke="#000" stroke-width="1.15"/>
<path d="M628.10,583.60 C629.90,579.80 632.60,578.80 636.60,579.00 C638.20,578.40 640.50,578.40 642.10,579.00 C643.70,578.40 646.00,578.40 647.60,579.00 C649.20,578.40 651.50,578.40 653.10,579.00 C657.10,578.80 659.60,579.80 661.40,583.50" fill="none" stroke="#2a2a38" stroke-width="1.3"/>
<path d="M636.60,579.00 C634.00,579.50 634.40,585.80 636.60,586.60 C638.80,585.80 639.20,579.50 636.60,579.00" fill="none" stroke="#2a2a38" stroke-width="1.3"/>
<path d="M642.10,579.00 C639.50,579.50 639.90,585.80 642.10,586.60 C644.30,585.80 644.70,579.50 642.10,579.00" fill="none" stroke="#2a2a38" stroke-width="1.3"/>
<path d="M647.60,579.00 C645.00,579.50 645.40,585.80 647.60,586.60 C649.80,585.80 650.20,579.50 647.60,579.00" fill="none" stroke="#2a2a38" stroke-width="1.3"/>
<path d="M653.10,579.00 C650.50,579.50 650.90,585.80 653.10,586.60 C655.30,585.80 655.70,579.50 653.10,579.00" fill="none" stroke="#2a2a38" stroke-width="1.3"/>
<line x1="408.50" y1="640.30" x2="680.70" y2="640.30" stroke="#000" stroke-width="1.2"/>
<path d="M728.3,184.4 A12,10.5 0 0 1 740.3,194.9 V234 A12,10.3 0 0 0 752.5,244.3 A12,10.3 0 0 0 740.3,254.6 V294 A12,10.5 0 0 1 728.3,304.5" fill="none" stroke="#111" stroke-width="1.3"/>
<path d="M728.3,312.3 A16,22 0 0 1 744.3,334.3 V446 A16,22.5 0 0 0 760.8,468.5 A16,22.5 0 0 0 744.3,491 V602.7 A16,22 0 0 1 728.3,624.7" fill="none" stroke="#111" stroke-width="1.3"/>
<rect x="768.2" y="96" width="152" height="95.7" fill="#fdd9bb"/>
<rect x="768.2" y="200.4" width="152" height="95.7" fill="#fdd9bb"/>
<rect x="768.2" y="462.8" width="152" height="95.7" fill="#fdd9bb"/>
<path d="M800,586.8 H839.3 V572.9 H826.4 L851.8,560.4 L877.2,572.9 H865 V586.8 H904 V639.6 H800 Z" fill="#b9e0e3"/>
</svg>
<svg width="960" height="720" style="position:absolute;left:0;top:0" font-family="Liberation Sans, sans-serif"><defs><filter id="ts" x="-5%" y="-20%" width="110%" height="150%"><feDropShadow dx="1" dy="1.2" stdDeviation="1.1" flood-color="#666" flood-opacity="0.35"/></filter><filter id="sh" x="-20%" y="-20%" width="140%" height="140%"><feDropShadow dx="0.9" dy="0.9" stdDeviation="0.45" flood-color="#300" flood-opacity="0.85"/></filter></defs><text x="682.2" y="125.7" font-size="19.3" font-weight="bold" fill="#ec0a16" text-anchor="start" >5V</text>
<text x="682.2" y="192.4" font-size="19.3" font-weight="bold" fill="#ec0a16" text-anchor="start" >3.3V</text>
<text x="682.2" y="260.3" font-size="19.3" font-weight="bold" fill="#ec0a16" text-anchor="start" >2.5V</text>
<text x="682.2" y="327.5" font-size="19.3" font-weight="bold" fill="#ec0a16" text-anchor="start" >1.8V</text>
<text x="682.2" y="394.7" font-size="19.3" font-weight="bold" fill="#ec0a16" text-anchor="start" >1.5V</text>
<text x="682.2" y="461.7" font-size="19.3" font-weight="bold" fill="#ec0a16" text-anchor="start" >1.2V</text>
<text x="682.2" y="528.3" font-size="19.3" font-weight="bold" fill="#ec0a16" text-anchor="start" >0.9V</text>
<text x="682.2" y="596.7" font-size="19.3" font-weight="bold" fill="#ec0a16" text-anchor="start" >0.75V</text>
<text x="345" y="112.5" font-size="10.1" font-weight="normal" fill="#000" text-anchor="middle" >SWITCHING</text>
<text x="345" y="126" font-size="10.5" font-weight="normal" fill="#000" text-anchor="middle" >REGULATOR</text>
<text x="201.5" y="220.2" font-size="28" font-weight="bold" fill="#ec0a16" text-anchor="start" >16V</text>
<text x="202.3" y="258.7" font-size="23.5" font-weight="normal" fill="#000" text-anchor="start" >8.2uF</text>
<text x="844.8" y="124.1" font-size="24" font-weight="bold" fill="#e6000a" text-anchor="middle" filter="url(#sh)">6.3V</text>
<text x="844.3" y="152.6" font-size="24" font-weight="normal" fill="#000" text-anchor="middle" xml:space="preserve">10~220uF</text>
<text x="844.3" y="181.4" font-size="24" font-weight="normal" fill="#000" text-anchor="middle" >55~5 mOhm</text>
<text x="844.8" y="228.5" font-size="24" font-weight="bold" fill="#e6000a" text-anchor="middle" filter="url(#sh)">4V</text>
<text x="844.3" y="257.0" font-size="24" font-weight="normal" fill="#000" text-anchor="middle" xml:space="preserve">47~330uF</text>
<text x="844.3" y="285.8" font-size="24" font-weight="normal" fill="#000" text-anchor="middle" >28~5 mOhm</text>
<text x="844.8" y="490.90000000000003" font-size="24" font-weight="bold" fill="#e6000a" text-anchor="middle" filter="url(#sh)">2V</text>
<text x="844.3" y="519.4" font-size="24" font-weight="normal" fill="#000" text-anchor="middle" xml:space="preserve">68~560uF </text>
<text x="844.3" y="548.2" font-size="24" font-weight="normal" fill="#000" text-anchor="middle" >28~5 mOhm</text>
<text x="852" y="609.5" font-size="12.8" font-weight="normal" fill="#000" text-anchor="middle" >Recommended</text>
<text x="854" y="626" font-size="12.8" font-weight="normal" fill="#000" text-anchor="middle" xml:space="preserve">voltage  ratings</text>
<text x="81.8" y="522.7" font-size="24" font-weight="normal" fill="#000" text-anchor="start" filter="url(#ts)">SP-Cap does not require</text>
<text x="81.8" y="551.3" font-size="24" font-weight="normal" fill="#000" text-anchor="start" filter="url(#ts)">voltage de-rating like</text>
<text x="81.8" y="579.8" font-size="24" font-weight="normal" fill="#000" text-anchor="start" filter="url(#ts)">tantalum capacitors.</text></svg>
</body></html>
